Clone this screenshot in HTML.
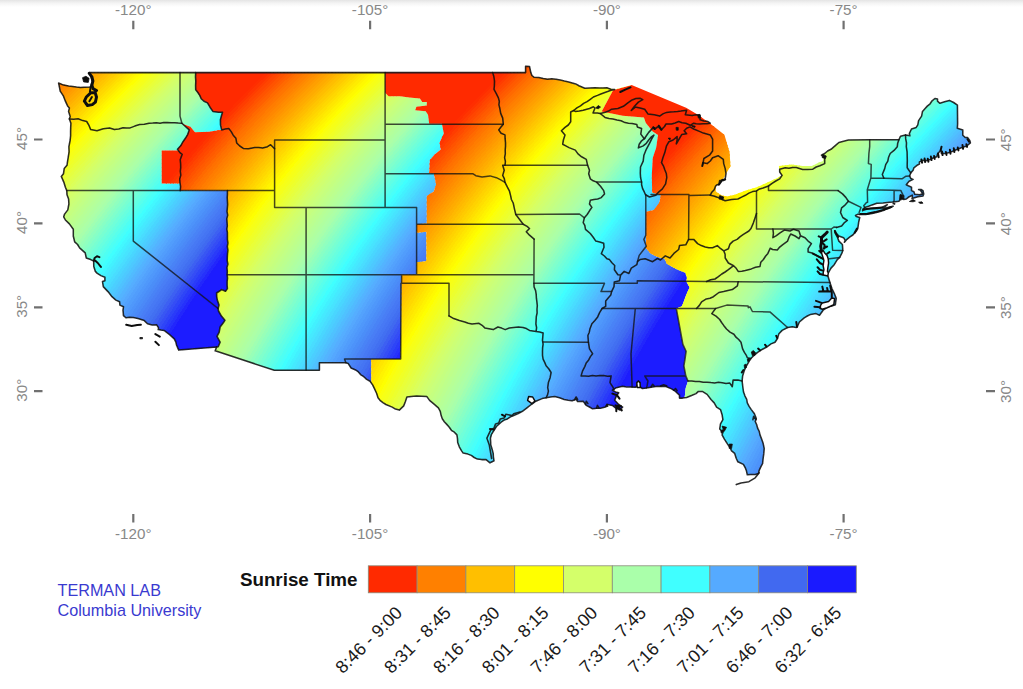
<!DOCTYPE html><html><head><meta charset="utf-8"><title>Sunrise Time</title><style>
html,body{margin:0;padding:0;background:#fff}body{width:1023px;height:689px;overflow:hidden;position:relative;font-family:"Liberation Sans",sans-serif}
svg{position:absolute;left:0;top:0}text{font-family:"Liberation Sans",sans-serif}
.topshade{position:absolute;left:0;top:0;width:1023px;height:7px;background:linear-gradient(#e4e4e4,#f4f4f4 45%,#fff)}
</style></head><body><div class="topshade"></div>
<svg width="1023" height="689" viewBox="0 0 1023 689">
<defs>
<clipPath id="us"><path d="M89.7 72.6L92.3 81.9L90.4 86.9L84.4 87.3L76.5 87.1L68.6 86.1L58.6 83.0L59.4 86.9L60.2 91.1L63.5 96.2L65.4 101.2L67.8 106.3L69.4 108.0L68.6 111.4L70.2 116.4L69.4 118.9L70.9 123.2L70.6 131.6L70.2 140.0L68.9 146.7L68.3 156.8L67.0 165.3L64.2 168.6L63.5 173.7L61.3 176.4L63.8 182.1L65.4 187.2L66.8 190.6L67.0 194.8L68.6 199.0L68.9 204.0L67.8 209.9L64.6 214.1L63.7 216.8L65.4 220.0L69.4 223.9L73.3 229.3L73.3 236.0L74.7 241.9L79.6 247.8L85.2 252.9L86.3 258.0L90.7 259.6L93.8 261.0L93.7 263.0L93.8 266.4L95.4 271.4L97.0 273.1L100.9 275.6L104.9 277.3L104.9 280.7L102.5 281.5L103.3 286.6L108.0 291.6L112.0 296.7L115.9 300.1L119.6 301.8L119.9 305.1L123.5 306.8L123.0 310.2L123.5 315.6L125.9 317.8L133.3 317.6L138.0 318.6L144.3 320.6L147.5 323.7L152.2 325.0L156.7 324.8L158.6 327.9L158.2 329.6L160.9 330.1L164.1 330.4L166.4 332.1L169.6 334.6L174.3 338.8L175.9 342.2L176.4 344.7L177.5 347.3L178.8 350.1L216.6 346.9L215.2 350.8L274.3 370.3L319.4 370.3L319.4 362.8L345.9 362.8L348.3 363.6L351.1 368.0L355.1 369.7L360.6 374.6L370.1 381.3L374.8 389.4L378.0 397.8L380.0 400.3L385.9 404.5L392.2 407.1L399.3 410.1L403.7 405.9L406.9 397.1L411.1 396.6L416.6 396.1L426.9 396.6L433.2 403.4L438.4 407.9L441.1 415.3L444.3 421.7L451.4 430.3L456.9 434.9L457.7 442.5L461.6 450.9L463.2 453.1L467.9 454.1L477.4 459.1L486.1 459.6L490.0 462.8L494.0 460.8L493.2 453.4L490.8 445.0L490.4 438.2L493.2 431.5L496.4 426.5L501.1 422.2L507.4 418.9L513.7 415.5L522.4 411.3L527.9 407.1L531.9 404.0L535.8 401.2L542.1 398.6L546.1 397.8L554.8 396.6L564.2 399.5L572.1 400.7L576.1 399.2L577.6 401.5L583.2 401.2L586.3 405.4L592.6 408.8L600.5 408.3L605.3 407.1L607.6 404.5L612.4 405.4L615.5 407.9L619.5 409.9L622.6 407.1L618.7 404.5L614.7 400.3L616.3 396.1L618.7 392.8L615.5 391.9L612.4 390.2L616.3 387.7L622.6 386.3L630.5 386.9L635.3 387.2L636.8 386.5L637.2 382.6L638.4 381.3L639.7 382.6L640.0 386.9L642.4 388.5L646.3 388.0L651.0 387.2L657.4 386.3L665.3 386.3L671.6 388.9L675.5 391.4L679.5 395.3L679.5 398.1L682.6 398.1L686.6 397.5L692.1 395.3L696.0 393.6L698.4 391.4L702.3 391.4L707.1 394.4L711.0 399.5L714.2 402.9L716.6 407.1L720.5 409.6L722.1 414.7L722.9 419.7L720.5 423.9L719.7 429.0L722.9 432.3L722.1 434.9L724.4 439.1L727.6 444.1L730.0 447.5L731.6 450.9L734.7 453.4L736.3 458.5L737.9 461.8L743.4 464.4L746.5 471.1L747.3 474.8L750.5 474.5L755.2 474.5L758.4 473.6L759.2 470.3L760.8 466.9L762.6 463.5L763.1 458.5L764.2 448.4L763.1 443.3L760.0 434.9L757.6 428.1L755.2 421.4L756.3 418.5L754.4 413.8L751.3 409.6L747.3 402.9L745.0 396.1L742.9 387.7L742.1 381.0L742.6 375.9L744.2 370.8L746.5 365.8L748.9 361.6L750.8 358.5L753.7 355.7L757.6 352.3L761.5 349.8L766.3 347.3L771.0 343.9L775.0 342.2L777.3 338.8L778.9 333.8L782.1 330.4L787.6 327.5L792.3 326.7L796.3 327.5L797.4 326.5L799.4 322.0L804.2 317.8L810.5 314.4L816.0 313.6L819.5 315.2L823.1 310.2L827.8 306.8L835.3 304.8L836.2 298.4L834.2 293.3L831.8 288.3L829.9 282.4L828.3 277.3L827.8 276.0L828.3 272.8L831.0 268.1L834.2 264.7L837.3 259.6L839.7 257.4L842.0 252.9L842.8 250.4L842.4 244.5L838.9 241.1L837.3 236.9L834.9 232.7L834.9 230.7L835.7 232.7L838.9 236.0L843.6 237.7L845.2 240.3L844.4 242.3L849.9 236.9L852.8 235.0L856.3 231.0L857.8 228.5L858.6 222.6L859.7 217.5L856.3 216.5L855.5 215.5L858.1 214.1L858.9 214.5L865.7 214.5L872.0 213.6L878.4 212.1L884.7 209.9L891.8 207.1L893.2 206.2L889.4 207.1L885.5 208.2L883.1 208.7L886.2 205.7L887.3 204.7L881.5 207.7L873.6 208.2L867.3 208.7L863.4 209.9L862.6 210.8L862.9 209.4L864.9 207.4L872.0 204.9L876.8 203.2L883.1 202.9L889.4 202.3L893.2 202.0L898.9 201.2L900.1 199.8L900.5 194.8L902.0 195.6L903.6 196.1L903.6 199.5L906.3 199.0L908.3 197.3L912.3 195.1L912.3 198.1L912.0 198.6L917.8 196.8L923.0 196.1L923.7 193.9L923.0 190.6L921.0 189.4L918.6 189.4L920.2 190.0L921.8 192.2L922.5 193.9L919.4 194.8L914.7 194.3L913.9 191.7L911.5 190.6L911.5 187.2L908.3 185.8L906.3 184.7L907.6 183.0L909.1 181.3L913.1 179.4L910.7 178.4L909.6 175.9L910.7 172.9L913.1 170.3L913.9 167.8L917.0 165.3L919.4 164.1L919.4 161.9L923.3 160.2L926.5 160.6L930.4 159.4L933.6 157.7L936.8 156.8L937.5 154.3L940.7 150.1L941.5 153.5L945.4 153.5L949.4 152.6L953.3 151.0L957.3 149.3L962.0 147.6L966.7 145.9L970.4 143.0L969.9 140.8L967.5 137.5L965.2 137.5L962.8 135.3L962.8 129.9L957.3 128.2L957.6 124.0L957.4 105.1L949.4 100.4L939.9 103.3L937.5 101.2L937.5 99.1L934.9 98.5L922.5 111.4L921.6 116.1L918.6 120.6L917.8 124.8L916.2 127.4L911.5 129.0L909.4 133.3L909.9 135.8L905.5 134.9L900.5 136.3L898.9 139.8L869.7 139.8L848.4 140.0L838.9 142.5L831.0 149.3L824.7 153.5L821.5 155.2L823.1 157.7L823.1 161.1L818.4 162.7L812.1 166.1L802.6 166.1L791.5 164.4L778.9 166.1L779.7 172.0L781.6 175.4L777.3 177.9L766.3 183.0L756.8 187.2L745.8 190.6L734.7 194.8L726.8 196.4L721.3 195.3L715.8 191.4L715.8 186.3L718.9 184.3L722.1 180.4L726.0 173.7L730.5 166.2L729.6 152.2L724.4 134.8L708.8 122.6L696.7 114.0L686.1 107.8L631.6 85.0L614.7 89.4L606.9 87.8L595.0 87.8L584.8 88.3L578.9 85.7L568.7 81.9L556.0 79.3L543.2 78.5L534.2 77.3L531.9 75.5L530.8 72.6L529.5 66.5L525.6 66.2L525.6 72.6L89.7 72.6Z"/></clipPath>
<clipPath id="zP"><path d="M-103.5 22.0L195.7 22.0L195.7 72.6L195.7 89.8L201.2 98.7L207.5 102.9L212.9 111.4L218.5 112.2L222.5 112.2L220.4 119.8L221.7 129.9L221.7 129.7L209.1 131.7L195.0 132.2L190.4 126.7L184.9 124.7L181.9 123.2L184.6 125.7L189.2 129.9L185.4 138.3L183.0 141.7L177.5 149.3L178.3 150.4L161.7 150.4L161.7 183.5L180.2 183.5L180.2 190.6L227.4 190.6L227.4 288.6L225.5 291.3L221.7 289.6L216.6 293.0L217.3 300.1L219.0 305.1L218.1 308.5L218.5 311.0L221.4 316.1L224.9 320.3L223.3 322.8L220.1 327.0L219.2 332.1L217.0 336.3L220.1 342.2L218.2 346.7L216.6 346.9L215.2 350.8L213.8 527.5L-103.5 527.5Z"/></clipPath>
<clipPath id="zM"><path d="M195.7 22.0L195.7 72.6L195.7 89.8L201.2 98.7L207.5 102.9L212.9 111.4L218.5 112.2L222.5 112.2L220.4 119.8L221.7 129.9L221.7 129.7L209.1 131.7L195.0 132.2L190.4 126.7L184.9 124.7L181.9 123.2L184.6 125.7L189.2 129.9L185.4 138.3L183.0 141.7L177.5 149.3L178.3 150.4L161.7 150.4L161.7 183.5L180.2 183.5L180.2 190.6L227.4 190.6L227.4 288.6L225.5 291.3L221.7 289.6L216.6 293.0L217.3 300.1L219.0 305.1L218.1 308.5L218.5 311.0L221.4 316.1L224.9 320.3L223.3 322.8L220.1 327.0L219.2 332.1L217.0 336.3L220.1 342.2L218.2 346.7L216.6 346.9L215.2 350.8L213.8 527.5L371.3 527.5L371.3 359.1L400.7 359.1L401.6 283.2L401.6 274.8L416.6 274.8L416.6 262.3L426.4 261.3L426.4 231.8L416.6 232.7L416.6 224.2L426.8 223.4L426.8 196.0L433.8 191.4L436.1 184.4L433.8 173.2L429.2 173.2L429.9 160.0L435.0 154.2L440.8 149.6L439.6 142.6L443.8 133.4L441.9 123.7L429.2 123.7L428.0 114.8L425.7 111.3L415.2 110.2L416.4 106.7L426.8 105.5L426.8 102.0L422.2 102.0L419.9 98.6L409.4 97.4L400.2 96.2L388.6 96.2L385.1 92.8L385.1 92.8L385.1 22.0Z"/></clipPath>
<clipPath id="zC"><path d="M385.1 22.0L385.1 92.8L385.1 92.8L388.6 96.2L400.2 96.2L409.4 97.4L419.9 98.6L422.2 102.0L426.8 102.0L426.8 105.5L416.4 106.7L415.2 110.2L425.7 111.3L428.0 114.8L429.2 123.7L441.9 123.7L443.8 133.4L439.6 142.6L440.8 149.6L435.0 154.2L429.9 160.0L429.2 173.2L433.8 173.2L436.1 184.4L433.8 191.4L426.8 196.0L426.8 223.4L416.6 224.2L416.6 232.7L426.4 231.8L426.4 261.3L416.6 262.3L416.6 274.8L401.6 274.8L401.6 283.2L400.7 359.1L371.3 359.1L371.3 527.5L682.6 527.5L684.2 401.2L685.8 387.7L688.0 381.0L685.8 375.9L683.9 365.8L685.0 359.1L686.1 351.3L682.9 344.4L676.3 308.5L682.0 306.2L685.8 296.0L689.6 287.2L686.2 281.4L687.0 277.9L685.3 272.7L676.6 269.2L667.0 264.0L664.4 258.8L657.4 257.0L650.5 253.6L646.1 248.3L646.1 211.8L654.0 210.0L659.2 203.0L660.9 195.5L652.2 192.6L651.8 175.6L652.7 158.0L656.2 147.4L658.0 135.0L652.7 131.6L645.7 122.8L643.9 117.5L622.8 115.7L601.7 111.4L613.1 90.2L631.6 85.0L632.1 22.0Z"/></clipPath>
<clipPath id="zE"><path d="M632.1 22.0L631.6 85.0L613.1 90.2L601.7 111.4L622.8 115.7L643.9 117.5L645.7 122.8L652.7 131.6L658.0 135.0L656.2 147.4L652.7 158.0L651.8 175.6L652.2 192.6L660.9 195.5L659.2 203.0L654.0 210.0L646.1 211.8L646.1 248.3L650.5 253.6L657.4 257.0L664.4 258.8L667.0 264.0L676.6 269.2L685.3 272.7L687.0 277.9L686.2 281.4L689.6 287.2L685.8 296.0L682.0 306.2L676.3 308.5L682.9 344.4L686.1 351.3L685.0 359.1L683.9 365.8L685.8 375.9L688.0 381.0L685.8 387.7L684.2 401.2L682.6 527.5L1080.4 527.5L1080.4 22.0Z"/></clipPath>
<g id="bands" shape-rendering="crispEdges"><path fill="#ff2a00" d="M-400.0 40.0L302.6 40.0L291.2 50.0L280.2 60.0L269.5 70.0L259.2 80.0L249.1 90.0L239.3 100.0L229.8 110.0L220.6 120.0L211.6 130.0L202.8 140.0L194.2 150.0L185.8 160.0L177.7 170.0L169.7 180.0L161.8 190.0L154.2 200.0L146.7 210.0L139.4 220.0L132.2 230.0L125.2 240.0L118.2 250.0L111.5 260.0L104.8 270.0L98.3 280.0L91.8 290.0L85.5 300.0L79.3 310.0L73.2 320.0L67.2 330.0L61.2 340.0L55.4 350.0L49.6 360.0L44.0 370.0L38.4 380.0L32.8 390.0L27.4 400.0L22.0 410.0L16.7 420.0L11.4 430.0L6.3 440.0L1.1 450.0L-3.9 460.0L-9.0 470.0L-13.9 480.0L-18.8 490.0L-23.7 500.0L-400.0 500.0Z"/>
<path fill="#ff2e00" d="M302.0 40.0L290.6 50.0L279.6 60.0L268.9 70.0L258.6 80.0L248.5 90.0L238.7 100.0L229.2 110.0L220.0 120.0L211.0 130.0L202.2 140.0L193.6 150.0L185.2 160.0L177.1 170.0L169.1 180.0L161.2 190.0L153.6 200.0L146.1 210.0L138.8 220.0L131.6 230.0L124.6 240.0L117.6 250.0L110.9 260.0L104.2 270.0L97.7 280.0L91.2 290.0L84.9 300.0L78.7 310.0L72.6 320.0L66.6 330.0L60.6 340.0L54.8 350.0L49.0 360.0L43.4 370.0L37.8 380.0L32.2 390.0L26.8 400.0L21.4 410.0L16.1 420.0L10.8 430.0L5.7 440.0L0.5 450.0L-4.5 460.0L-9.6 470.0L-14.5 480.0L-19.4 490.0L-24.3 500.0L-19.7 500.0L-14.8 490.0L-9.9 480.0L-4.9 470.0L0.1 460.0L5.1 450.0L10.3 440.0L15.5 430.0L20.7 420.0L26.0 410.0L31.4 400.0L36.9 390.0L42.4 380.0L48.0 370.0L53.6 360.0L59.4 350.0L65.2 340.0L71.2 330.0L77.2 320.0L83.3 310.0L89.5 300.0L95.9 290.0L102.3 280.0L108.8 270.0L115.5 260.0L122.3 250.0L129.2 240.0L136.2 230.0L143.4 220.0L150.7 210.0L158.2 200.0L165.9 190.0L173.7 180.0L181.7 170.0L189.9 160.0L198.2 150.0L206.8 140.0L215.6 130.0L224.6 120.0L233.9 110.0L243.4 100.0L253.1 90.0L263.2 80.0L273.5 70.0L284.2 60.0L295.2 50.0L306.6 40.0Z"/>
<path fill="#ff3500" d="M305.4 40.0L294.0 50.0L283.0 60.0L272.3 70.0L262.0 80.0L251.9 90.0L242.2 100.0L232.7 110.0L223.4 120.0L214.4 130.0L205.6 140.0L197.0 150.0L188.7 160.0L180.5 170.0L172.5 180.0L164.7 190.0L157.0 200.0L149.5 210.0L142.2 220.0L135.0 230.0L128.0 240.0L121.1 250.0L114.3 260.0L107.6 270.0L101.1 280.0L94.7 290.0L88.3 300.0L82.1 310.0L76.0 320.0L70.0 330.0L64.0 340.0L58.2 350.0L52.4 360.0L46.8 370.0L41.2 380.0L35.7 390.0L30.2 400.0L24.8 410.0L19.5 420.0L14.3 430.0L9.1 440.0L3.9 450.0L-1.1 460.0L-6.1 470.0L-11.1 480.0L-16.0 490.0L-20.9 500.0L-16.3 500.0L-11.4 490.0L-6.5 480.0L-1.5 470.0L3.5 460.0L8.6 450.0L13.7 440.0L18.9 430.0L24.1 420.0L29.4 410.0L34.8 400.0L40.3 390.0L45.8 380.0L51.4 370.0L57.1 360.0L62.8 350.0L68.7 340.0L74.6 330.0L80.6 320.0L86.7 310.0L93.0 300.0L99.3 290.0L105.7 280.0L112.2 270.0L118.9 260.0L125.7 250.0L132.6 240.0L139.6 230.0L146.8 220.0L154.2 210.0L161.6 200.0L169.3 190.0L177.1 180.0L185.1 170.0L193.3 160.0L201.6 150.0L210.2 140.0L219.0 130.0L228.0 120.0L237.3 110.0L246.8 100.0L256.6 90.0L266.6 80.0L277.0 70.0L287.6 60.0L298.6 50.0L310.0 40.0Z"/>
<path fill="#ff3c00" d="M308.8 40.0L297.4 50.0L286.4 60.0L275.8 70.0L265.4 80.0L255.4 90.0L245.6 100.0L236.1 110.0L226.8 120.0L217.8 130.0L209.0 140.0L200.4 150.0L192.1 160.0L183.9 170.0L175.9 180.0L168.1 190.0L160.4 200.0L153.0 210.0L145.6 220.0L138.4 230.0L131.4 240.0L124.5 250.0L117.7 260.0L111.0 270.0L104.5 280.0L98.1 290.0L91.8 300.0L85.5 310.0L79.4 320.0L73.4 330.0L67.5 340.0L61.6 350.0L55.9 360.0L50.2 370.0L44.6 380.0L39.1 390.0L33.6 400.0L28.2 410.0L22.9 420.0L17.7 430.0L12.5 440.0L7.4 450.0L2.3 460.0L-2.7 470.0L-7.7 480.0L-12.6 490.0L-17.5 500.0L-12.8 500.0L-8.0 490.0L-3.1 480.0L1.9 470.0L6.9 460.0L12.0 450.0L17.1 440.0L22.3 430.0L27.6 420.0L32.9 410.0L38.3 400.0L43.7 390.0L49.2 380.0L54.8 370.0L60.5 360.0L66.3 350.0L72.1 340.0L78.0 330.0L84.0 320.0L90.2 310.0L96.4 300.0L102.7 290.0L109.1 280.0L115.7 270.0L122.3 260.0L129.1 250.0L136.0 240.0L143.1 230.0L150.3 220.0L157.6 210.0L165.1 200.0L172.7 190.0L180.5 180.0L188.5 170.0L196.7 160.0L205.1 150.0L213.6 140.0L222.4 130.0L231.5 120.0L240.7 110.0L250.2 100.0L260.0 90.0L270.0 80.0L280.4 70.0L291.1 60.0L302.1 50.0L313.4 40.0Z"/>
<path fill="#ff4400" d="M312.2 40.0L300.9 50.0L289.9 60.0L279.2 70.0L268.8 80.0L258.8 90.0L249.0 100.0L239.5 110.0L230.3 120.0L221.2 130.0L212.4 140.0L203.9 150.0L195.5 160.0L187.3 170.0L179.3 180.0L171.5 190.0L163.9 200.0L156.4 210.0L149.1 220.0L141.9 230.0L134.8 240.0L127.9 250.0L121.1 260.0L114.5 270.0L107.9 280.0L101.5 290.0L95.2 300.0L89.0 310.0L82.8 320.0L76.8 330.0L70.9 340.0L65.1 350.0L59.3 360.0L53.6 370.0L48.0 380.0L42.5 390.0L37.1 400.0L31.7 410.0L26.4 420.0L21.1 430.0L15.9 440.0L10.8 450.0L5.7 460.0L0.7 470.0L-4.3 480.0L-9.2 490.0L-14.0 500.0L-9.4 500.0L-4.6 490.0L0.4 480.0L5.3 470.0L10.3 460.0L15.4 450.0L20.5 440.0L25.7 430.0L31.0 420.0L36.3 410.0L41.7 400.0L47.1 390.0L52.6 380.0L58.2 370.0L63.9 360.0L69.7 350.0L75.5 340.0L81.4 330.0L87.5 320.0L93.6 310.0L99.8 300.0L106.1 290.0L112.6 280.0L119.1 270.0L125.8 260.0L132.5 250.0L139.4 240.0L146.5 230.0L153.7 220.0L161.0 210.0L168.5 200.0L176.1 190.0L184.0 180.0L191.9 170.0L200.1 160.0L208.5 150.0L217.1 140.0L225.9 130.0L234.9 120.0L244.1 110.0L253.6 100.0L263.4 90.0L273.5 80.0L283.8 70.0L294.5 60.0L305.5 50.0L316.8 40.0Z"/>
<path fill="#ff4b00" d="M315.6 40.0L304.3 50.0L293.3 60.0L282.6 70.0L272.3 80.0L262.2 90.0L252.4 100.0L242.9 110.0L233.7 120.0L224.7 130.0L215.9 140.0L207.3 150.0L198.9 160.0L190.7 170.0L182.8 180.0L174.9 190.0L167.3 200.0L159.8 210.0L152.5 220.0L145.3 230.0L138.2 240.0L131.3 250.0L124.6 260.0L117.9 270.0L111.4 280.0L104.9 290.0L98.6 300.0L92.4 310.0L86.3 320.0L80.2 330.0L74.3 340.0L68.5 350.0L62.7 360.0L57.0 370.0L51.4 380.0L45.9 390.0L40.5 400.0L35.1 410.0L29.8 420.0L24.5 430.0L19.3 440.0L14.2 450.0L9.1 460.0L4.1 470.0L-0.8 480.0L-5.8 490.0L-10.6 500.0L-6.0 500.0L-1.1 490.0L3.8 480.0L8.8 470.0L13.8 460.0L18.8 450.0L24.0 440.0L29.2 430.0L34.4 420.0L39.7 410.0L45.1 400.0L50.5 390.0L56.1 380.0L61.7 370.0L67.3 360.0L73.1 350.0L78.9 340.0L84.9 330.0L90.9 320.0L97.0 310.0L103.2 300.0L109.5 290.0L116.0 280.0L122.5 270.0L129.2 260.0L136.0 250.0L142.9 240.0L149.9 230.0L157.1 220.0L164.4 210.0L171.9 200.0L179.6 190.0L187.4 180.0L195.4 170.0L203.5 160.0L211.9 150.0L220.5 140.0L229.3 130.0L238.3 120.0L247.6 110.0L257.1 100.0L266.8 90.0L276.9 80.0L287.2 70.0L297.9 60.0L308.9 50.0L320.3 40.0Z"/>
<path fill="#ff5300" d="M319.1 40.0L307.7 50.0L296.7 60.0L286.0 70.0L275.7 80.0L265.6 90.0L255.9 100.0L246.4 110.0L237.1 120.0L228.1 130.0L219.3 140.0L210.7 150.0L202.3 160.0L194.2 170.0L186.2 180.0L178.4 190.0L170.7 200.0L163.2 210.0L155.9 220.0L148.7 230.0L141.7 240.0L134.8 250.0L128.0 260.0L121.3 270.0L114.8 280.0L108.3 290.0L102.0 300.0L95.8 310.0L89.7 320.0L83.7 330.0L77.7 340.0L71.9 350.0L66.1 360.0L60.5 370.0L54.9 380.0L49.3 390.0L43.9 400.0L38.5 410.0L33.2 420.0L28.0 430.0L22.8 440.0L17.6 450.0L12.6 460.0L7.6 470.0L2.6 480.0L-2.3 490.0L-7.2 500.0L-2.6 500.0L2.3 490.0L7.2 480.0L12.2 470.0L17.2 460.0L22.3 450.0L27.4 440.0L32.6 430.0L37.8 420.0L43.1 410.0L48.5 400.0L54.0 390.0L59.5 380.0L65.1 370.0L70.8 360.0L76.5 350.0L82.4 340.0L88.3 330.0L94.3 320.0L100.4 310.0L106.6 300.0L113.0 290.0L119.4 280.0L125.9 270.0L132.6 260.0L139.4 250.0L146.3 240.0L153.3 230.0L160.5 220.0L167.9 210.0L175.3 200.0L183.0 190.0L190.8 180.0L198.8 170.0L207.0 160.0L215.3 150.0L223.9 140.0L232.7 130.0L241.7 120.0L251.0 110.0L260.5 100.0L270.3 90.0L280.3 80.0L290.7 70.0L301.3 60.0L312.3 50.0L323.7 40.0Z"/>
<path fill="#ff5a00" d="M322.5 40.0L311.1 50.0L300.1 60.0L289.5 70.0L279.1 80.0L269.1 90.0L259.3 100.0L249.8 110.0L240.5 120.0L231.5 130.0L222.7 140.0L214.1 150.0L205.8 160.0L197.6 170.0L189.6 180.0L181.8 190.0L174.1 200.0L166.7 210.0L159.3 220.0L152.1 230.0L145.1 240.0L138.2 250.0L131.4 260.0L124.7 270.0L118.2 280.0L111.8 290.0L105.4 300.0L99.2 310.0L93.1 320.0L87.1 330.0L81.2 340.0L75.3 350.0L69.6 360.0L63.9 370.0L58.3 380.0L52.8 390.0L47.3 400.0L41.9 410.0L36.6 420.0L31.4 430.0L26.2 440.0L21.1 450.0L16.0 460.0L11.0 470.0L6.0 480.0L1.1 490.0L-3.8 500.0L0.9 500.0L5.7 490.0L10.6 480.0L15.6 470.0L20.6 460.0L25.7 450.0L30.8 440.0L36.0 430.0L41.3 420.0L46.6 410.0L51.9 400.0L57.4 390.0L62.9 380.0L68.5 370.0L74.2 360.0L79.9 350.0L85.8 340.0L91.7 330.0L97.7 320.0L103.9 310.0L110.1 300.0L116.4 290.0L122.8 280.0L129.4 270.0L136.0 260.0L142.8 250.0L149.7 240.0L156.8 230.0L163.9 220.0L171.3 210.0L178.8 200.0L186.4 190.0L194.2 180.0L202.2 170.0L210.4 160.0L218.8 150.0L227.3 140.0L236.1 130.0L245.1 120.0L254.4 110.0L263.9 100.0L273.7 90.0L283.7 80.0L294.1 70.0L304.8 60.0L315.8 50.0L327.1 40.0Z"/>
<path fill="#ff6100" d="M325.9 40.0L314.6 50.0L303.6 60.0L292.9 70.0L282.5 80.0L272.5 90.0L262.7 100.0L253.2 110.0L243.9 120.0L234.9 130.0L226.1 140.0L217.6 150.0L209.2 160.0L201.0 170.0L193.0 180.0L185.2 190.0L177.6 200.0L170.1 210.0L162.7 220.0L155.6 230.0L148.5 240.0L141.6 250.0L134.8 260.0L128.2 270.0L121.6 280.0L115.2 290.0L108.9 300.0L102.7 310.0L96.5 320.0L90.5 330.0L84.6 340.0L78.7 350.0L73.0 360.0L67.3 370.0L61.7 380.0L56.2 390.0L50.7 400.0L45.4 410.0L40.1 420.0L34.8 430.0L29.6 440.0L24.5 450.0L19.4 460.0L14.4 470.0L9.4 480.0L4.5 490.0L-0.3 500.0L4.3 500.0L9.1 490.0L14.1 480.0L19.0 470.0L24.0 460.0L29.1 450.0L34.2 440.0L39.4 430.0L44.7 420.0L50.0 410.0L55.4 400.0L60.8 390.0L66.3 380.0L71.9 370.0L77.6 360.0L83.4 350.0L89.2 340.0L95.1 330.0L101.2 320.0L107.3 310.0L113.5 300.0L119.8 290.0L126.2 280.0L132.8 270.0L139.4 260.0L146.2 250.0L153.1 240.0L160.2 230.0L167.4 220.0L174.7 210.0L182.2 200.0L189.8 190.0L197.6 180.0L205.6 170.0L213.8 160.0L222.2 150.0L230.8 140.0L239.6 130.0L248.6 120.0L257.8 110.0L267.3 100.0L277.1 90.0L287.2 80.0L297.5 70.0L308.2 60.0L319.2 50.0L330.5 40.0Z"/>
<path fill="#ff6900" d="M329.3 40.0L318.0 50.0L307.0 60.0L296.3 70.0L286.0 80.0L275.9 90.0L266.1 100.0L256.6 110.0L247.4 120.0L238.4 130.0L229.6 140.0L221.0 150.0L212.6 160.0L204.4 170.0L196.4 180.0L188.6 190.0L181.0 200.0L173.5 210.0L166.2 220.0L159.0 230.0L151.9 240.0L145.0 250.0L138.2 260.0L131.6 270.0L125.0 280.0L118.6 290.0L112.3 300.0L106.1 310.0L100.0 320.0L93.9 330.0L88.0 340.0L82.2 350.0L76.4 360.0L70.7 370.0L65.1 380.0L59.6 390.0L54.2 400.0L48.8 410.0L43.5 420.0L38.2 430.0L33.0 440.0L27.9 450.0L22.8 460.0L17.8 470.0L12.9 480.0L7.9 490.0L3.1 500.0L7.7 500.0L12.6 490.0L17.5 480.0L22.4 470.0L27.5 460.0L32.5 450.0L37.7 440.0L42.8 430.0L48.1 420.0L53.4 410.0L58.8 400.0L64.2 390.0L69.8 380.0L75.4 370.0L81.0 360.0L86.8 350.0L92.6 340.0L98.6 330.0L104.6 320.0L110.7 310.0L116.9 300.0L123.2 290.0L129.7 280.0L136.2 270.0L142.9 260.0L149.7 250.0L156.6 240.0L163.6 230.0L170.8 220.0L178.1 210.0L185.6 200.0L193.3 190.0L201.1 180.0L209.1 170.0L217.2 160.0L225.6 150.0L234.2 140.0L243.0 130.0L252.0 120.0L261.2 110.0L270.8 100.0L280.5 90.0L290.6 80.0L300.9 70.0L311.6 60.0L322.6 50.0L334.0 40.0Z"/>
<path fill="#ff6f00" d="M332.8 40.0L321.4 50.0L310.4 60.0L299.7 70.0L289.4 80.0L279.3 90.0L269.6 100.0L260.0 110.0L250.8 120.0L241.8 130.0L233.0 140.0L224.4 150.0L216.0 160.0L207.9 170.0L199.9 180.0L192.1 190.0L184.4 200.0L176.9 210.0L169.6 220.0L162.4 230.0L155.4 240.0L148.5 250.0L141.7 260.0L135.0 270.0L128.5 280.0L122.0 290.0L115.7 300.0L109.5 310.0L103.4 320.0L97.4 330.0L91.4 340.0L85.6 350.0L79.8 360.0L74.2 370.0L68.6 380.0L63.0 390.0L57.6 400.0L52.2 410.0L46.9 420.0L41.6 430.0L36.5 440.0L31.3 450.0L26.3 460.0L21.2 470.0L16.3 480.0L11.4 490.0L6.5 500.0L11.1 500.0L16.0 490.0L20.9 480.0L25.9 470.0L30.9 460.0L36.0 450.0L41.1 440.0L46.3 430.0L51.5 420.0L56.8 410.0L62.2 400.0L67.7 390.0L73.2 380.0L78.8 370.0L84.5 360.0L90.2 350.0L96.1 340.0L102.0 330.0L108.0 320.0L114.1 310.0L120.3 300.0L126.7 290.0L133.1 280.0L139.6 270.0L146.3 260.0L153.1 250.0L160.0 240.0L167.0 230.0L174.2 220.0L181.5 210.0L189.0 200.0L196.7 190.0L204.5 180.0L212.5 170.0L220.7 160.0L229.0 150.0L237.6 140.0L246.4 130.0L255.4 120.0L264.7 110.0L274.2 100.0L284.0 90.0L294.0 80.0L304.4 70.0L315.0 60.0L326.0 50.0L337.4 40.0Z"/>
<path fill="#ff7500" d="M336.2 40.0L324.8 50.0L313.8 60.0L303.2 70.0L292.8 80.0L282.8 90.0L273.0 100.0L263.5 110.0L254.2 120.0L245.2 130.0L236.4 140.0L227.8 150.0L219.5 160.0L211.3 170.0L203.3 180.0L195.5 190.0L187.8 200.0L180.3 210.0L173.0 220.0L165.8 230.0L158.8 240.0L151.9 250.0L145.1 260.0L138.4 270.0L131.9 280.0L125.5 290.0L119.1 300.0L112.9 310.0L106.8 320.0L100.8 330.0L94.9 340.0L89.0 350.0L83.3 360.0L77.6 370.0L72.0 380.0L66.5 390.0L61.0 400.0L55.6 410.0L50.3 420.0L45.1 430.0L39.9 440.0L34.8 450.0L29.7 460.0L24.7 470.0L19.7 480.0L14.8 490.0L9.9 500.0L14.5 500.0L19.4 490.0L24.3 480.0L29.3 470.0L34.3 460.0L39.4 450.0L44.5 440.0L49.7 430.0L54.9 420.0L60.3 410.0L65.6 400.0L71.1 390.0L76.6 380.0L82.2 370.0L87.9 360.0L93.6 350.0L99.5 340.0L105.4 330.0L111.4 320.0L117.5 310.0L123.8 300.0L130.1 290.0L136.5 280.0L143.1 270.0L149.7 260.0L156.5 250.0L163.4 240.0L170.5 230.0L177.6 220.0L185.0 210.0L192.5 200.0L200.1 190.0L207.9 180.0L215.9 170.0L224.1 160.0L232.5 150.0L241.0 140.0L249.8 130.0L258.8 120.0L268.1 110.0L277.6 100.0L287.4 90.0L297.4 80.0L307.8 70.0L318.4 60.0L329.4 50.0L340.8 40.0Z"/>
<path fill="#ff7b00" d="M339.6 40.0L328.2 50.0L317.2 60.0L306.6 70.0L296.2 80.0L286.2 90.0L276.4 100.0L266.9 110.0L257.6 120.0L248.6 130.0L239.8 140.0L231.3 150.0L222.9 160.0L214.7 170.0L206.7 180.0L198.9 190.0L191.3 200.0L183.8 210.0L176.4 220.0L169.3 230.0L162.2 240.0L155.3 250.0L148.5 260.0L141.9 270.0L135.3 280.0L128.9 290.0L122.6 300.0L116.3 310.0L110.2 320.0L104.2 330.0L98.3 340.0L92.4 350.0L86.7 360.0L81.0 370.0L75.4 380.0L69.9 390.0L64.4 400.0L59.1 410.0L53.7 420.0L48.5 430.0L43.3 440.0L38.2 450.0L33.1 460.0L28.1 470.0L23.1 480.0L18.2 490.0L13.3 500.0L18.0 500.0L22.8 490.0L27.7 480.0L32.7 470.0L37.7 460.0L42.8 450.0L47.9 440.0L53.1 430.0L58.4 420.0L63.7 410.0L69.1 400.0L74.5 390.0L80.0 380.0L85.6 370.0L91.3 360.0L97.1 350.0L102.9 340.0L108.8 330.0L114.9 320.0L121.0 310.0L127.2 300.0L133.5 290.0L139.9 280.0L146.5 270.0L153.1 260.0L159.9 250.0L166.8 240.0L173.9 230.0L181.1 220.0L188.4 210.0L195.9 200.0L203.5 190.0L211.3 180.0L219.3 170.0L227.5 160.0L235.9 150.0L244.5 140.0L253.2 130.0L262.3 120.0L271.5 110.0L281.0 100.0L290.8 90.0L300.9 80.0L311.2 70.0L321.9 60.0L332.9 50.0L344.2 40.0Z"/>
<path fill="#ff8100" d="M343.0 40.0L331.7 50.0L320.7 60.0L310.0 70.0L299.7 80.0L289.6 90.0L279.8 100.0L270.3 110.0L261.1 120.0L252.0 130.0L243.3 140.0L234.7 150.0L226.3 160.0L218.1 170.0L210.1 180.0L202.3 190.0L194.7 200.0L187.2 210.0L179.9 220.0L172.7 230.0L165.6 240.0L158.7 250.0L151.9 260.0L145.3 270.0L138.7 280.0L132.3 290.0L126.0 300.0L119.8 310.0L113.7 320.0L107.6 330.0L101.7 340.0L95.9 350.0L90.1 360.0L84.4 370.0L78.8 380.0L73.3 390.0L67.9 400.0L62.5 410.0L57.2 420.0L51.9 430.0L46.7 440.0L41.6 450.0L36.5 460.0L31.5 470.0L26.5 480.0L21.6 490.0L16.8 500.0L21.4 500.0L26.3 490.0L31.2 480.0L36.1 470.0L41.2 460.0L46.2 450.0L51.4 440.0L56.5 430.0L61.8 420.0L67.1 410.0L72.5 400.0L77.9 390.0L83.5 380.0L89.1 370.0L94.7 360.0L100.5 350.0L106.3 340.0L112.3 330.0L118.3 320.0L124.4 310.0L130.6 300.0L136.9 290.0L143.4 280.0L149.9 270.0L156.6 260.0L163.3 250.0L170.3 240.0L177.3 230.0L184.5 220.0L191.8 210.0L199.3 200.0L206.9 190.0L214.8 180.0L222.8 170.0L230.9 160.0L239.3 150.0L247.9 140.0L256.7 130.0L265.7 120.0L274.9 110.0L284.4 100.0L294.2 90.0L304.3 80.0L314.6 70.0L325.3 60.0L336.3 50.0L347.7 40.0Z"/>
<path fill="#ff8700" d="M346.5 40.0L335.1 50.0L324.1 60.0L313.4 70.0L303.1 80.0L293.0 90.0L283.2 100.0L273.7 110.0L264.5 120.0L255.5 130.0L246.7 140.0L238.1 150.0L229.7 160.0L221.6 170.0L213.6 180.0L205.7 190.0L198.1 200.0L190.6 210.0L183.3 220.0L176.1 230.0L169.1 240.0L162.1 250.0L155.4 260.0L148.7 270.0L142.2 280.0L135.7 290.0L129.4 300.0L123.2 310.0L117.1 320.0L111.1 330.0L105.1 340.0L99.3 350.0L93.5 360.0L87.9 370.0L82.3 380.0L76.7 390.0L71.3 400.0L65.9 410.0L60.6 420.0L55.3 430.0L50.2 440.0L45.0 450.0L40.0 460.0L34.9 470.0L30.0 480.0L25.1 490.0L20.2 500.0L24.8 500.0L29.7 490.0L34.6 480.0L39.6 470.0L44.6 460.0L49.6 450.0L54.8 440.0L60.0 430.0L65.2 420.0L70.5 410.0L75.9 400.0L81.4 390.0L86.9 380.0L92.5 370.0L98.2 360.0L103.9 350.0L109.8 340.0L115.7 330.0L121.7 320.0L127.8 310.0L134.0 300.0L140.4 290.0L146.8 280.0L153.3 270.0L160.0 260.0L166.8 250.0L173.7 240.0L180.7 230.0L187.9 220.0L195.2 210.0L202.7 200.0L210.4 190.0L218.2 180.0L226.2 170.0L234.4 160.0L242.7 150.0L251.3 140.0L260.1 130.0L269.1 120.0L278.4 110.0L287.9 100.0L297.6 90.0L307.7 80.0L318.0 70.0L328.7 60.0L339.7 50.0L351.1 40.0Z"/>
<path fill="#ff8d00" d="M349.9 40.0L338.5 50.0L327.5 60.0L316.8 70.0L306.5 80.0L296.4 90.0L286.7 100.0L277.2 110.0L267.9 120.0L258.9 130.0L250.1 140.0L241.5 150.0L233.2 160.0L225.0 170.0L217.0 180.0L209.2 190.0L201.5 200.0L194.0 210.0L186.7 220.0L179.5 230.0L172.5 240.0L165.6 250.0L158.8 260.0L152.1 270.0L145.6 280.0L139.2 290.0L132.8 300.0L126.6 310.0L120.5 320.0L114.5 330.0L108.6 340.0L102.7 350.0L97.0 360.0L91.3 370.0L85.7 380.0L80.2 390.0L74.7 400.0L69.3 410.0L64.0 420.0L58.8 430.0L53.6 440.0L48.4 450.0L43.4 460.0L38.4 470.0L33.4 480.0L28.5 490.0L23.6 500.0L28.2 500.0L33.1 490.0L38.0 480.0L43.0 470.0L48.0 460.0L53.1 450.0L58.2 440.0L63.4 430.0L68.6 420.0L74.0 410.0L79.3 400.0L84.8 390.0L90.3 380.0L95.9 370.0L101.6 360.0L107.3 350.0L113.2 340.0L119.1 330.0L125.1 320.0L131.2 310.0L137.5 300.0L143.8 290.0L150.2 280.0L156.7 270.0L163.4 260.0L170.2 250.0L177.1 240.0L184.1 230.0L191.3 220.0L198.7 210.0L206.1 200.0L213.8 190.0L221.6 180.0L229.6 170.0L237.8 160.0L246.1 150.0L254.7 140.0L263.5 130.0L272.5 120.0L281.8 110.0L291.3 100.0L301.1 90.0L311.1 80.0L321.5 70.0L332.1 60.0L343.1 50.0L354.5 40.0Z"/>
<path fill="#ff9300" d="M353.3 40.0L341.9 50.0L330.9 60.0L320.3 70.0L309.9 80.0L299.9 90.0L290.1 100.0L280.6 110.0L271.3 120.0L262.3 130.0L253.5 140.0L244.9 150.0L236.6 160.0L228.4 170.0L220.4 180.0L212.6 190.0L204.9 200.0L197.5 210.0L190.1 220.0L182.9 230.0L175.9 240.0L169.0 250.0L162.2 260.0L155.5 270.0L149.0 280.0L142.6 290.0L136.3 300.0L130.0 310.0L123.9 320.0L117.9 330.0L112.0 340.0L106.1 350.0L100.4 360.0L94.7 370.0L89.1 380.0L83.6 390.0L78.1 400.0L72.8 410.0L67.4 420.0L62.2 430.0L57.0 440.0L51.9 450.0L46.8 460.0L41.8 470.0L36.8 480.0L31.9 490.0L27.0 500.0L31.7 500.0L36.5 490.0L41.4 480.0L46.4 470.0L51.4 460.0L56.5 450.0L61.6 440.0L66.8 430.0L72.1 420.0L77.4 410.0L82.8 400.0L88.2 390.0L93.7 380.0L99.3 370.0L105.0 360.0L110.8 350.0L116.6 340.0L122.5 330.0L128.5 320.0L134.7 310.0L140.9 300.0L147.2 290.0L153.6 280.0L160.2 270.0L166.8 260.0L173.6 250.0L180.5 240.0L187.6 230.0L194.8 220.0L202.1 210.0L209.6 200.0L217.2 190.0L225.0 180.0L233.0 170.0L241.2 160.0L249.6 150.0L258.1 140.0L266.9 130.0L276.0 120.0L285.2 110.0L294.7 100.0L304.5 90.0L314.5 80.0L324.9 70.0L335.6 60.0L346.6 50.0L357.9 40.0Z"/>
<path fill="#ff9900" d="M356.7 40.0L345.4 50.0L334.4 60.0L323.7 70.0L313.3 80.0L303.3 90.0L293.5 100.0L284.0 110.0L274.8 120.0L265.7 130.0L256.9 140.0L248.4 150.0L240.0 160.0L231.8 170.0L223.8 180.0L216.0 190.0L208.4 200.0L200.9 210.0L193.6 220.0L186.4 230.0L179.3 240.0L172.4 250.0L165.6 260.0L159.0 270.0L152.4 280.0L146.0 290.0L139.7 300.0L133.5 310.0L127.3 320.0L121.3 330.0L115.4 340.0L109.6 350.0L103.8 360.0L98.1 370.0L92.5 380.0L87.0 390.0L81.6 400.0L76.2 410.0L70.9 420.0L65.6 430.0L60.4 440.0L55.3 450.0L50.2 460.0L45.2 470.0L40.2 480.0L35.3 490.0L30.5 500.0L35.1 500.0L40.0 490.0L44.9 480.0L49.8 470.0L54.8 460.0L59.9 450.0L65.0 440.0L70.2 430.0L75.5 420.0L80.8 410.0L86.2 400.0L91.6 390.0L97.2 380.0L102.7 370.0L108.4 360.0L114.2 350.0L120.0 340.0L126.0 330.0L132.0 320.0L138.1 310.0L144.3 300.0L150.6 290.0L157.1 280.0L163.6 270.0L170.3 260.0L177.0 250.0L183.9 240.0L191.0 230.0L198.2 220.0L205.5 210.0L213.0 200.0L220.6 190.0L228.5 180.0L236.4 170.0L244.6 160.0L253.0 150.0L261.6 140.0L270.4 130.0L279.4 120.0L288.6 110.0L298.1 100.0L307.9 90.0L318.0 80.0L328.3 70.0L339.0 60.0L350.0 50.0L361.3 40.0Z"/>
<path fill="#ff9f00" d="M360.1 40.0L348.8 50.0L337.8 60.0L327.1 70.0L316.8 80.0L306.7 90.0L296.9 100.0L287.4 110.0L278.2 120.0L269.2 130.0L260.4 140.0L251.8 150.0L243.4 160.0L235.2 170.0L227.3 180.0L219.4 190.0L211.8 200.0L204.3 210.0L197.0 220.0L189.8 230.0L182.7 240.0L175.8 250.0L169.1 260.0L162.4 270.0L155.9 280.0L149.4 290.0L143.1 300.0L136.9 310.0L130.8 320.0L124.8 330.0L118.8 340.0L113.0 350.0L107.2 360.0L101.5 370.0L96.0 380.0L90.4 390.0L85.0 400.0L79.6 410.0L74.3 420.0L69.0 430.0L63.8 440.0L58.7 450.0L53.6 460.0L48.6 470.0L43.7 480.0L38.8 490.0L33.9 500.0L38.5 500.0L43.4 490.0L48.3 480.0L53.3 470.0L58.3 460.0L63.3 450.0L68.5 440.0L73.7 430.0L78.9 420.0L84.2 410.0L89.6 400.0L95.1 390.0L100.6 380.0L106.2 370.0L111.8 360.0L117.6 350.0L123.4 340.0L129.4 330.0L135.4 320.0L141.5 310.0L147.7 300.0L154.0 290.0L160.5 280.0L167.0 270.0L173.7 260.0L180.5 250.0L187.4 240.0L194.4 230.0L201.6 220.0L208.9 210.0L216.4 200.0L224.1 190.0L231.9 180.0L239.9 170.0L248.0 160.0L256.4 150.0L265.0 140.0L273.8 130.0L282.8 120.0L292.1 110.0L301.6 100.0L311.3 90.0L321.4 80.0L331.7 70.0L342.4 60.0L353.4 50.0L364.8 40.0Z"/>
<path fill="#ffa500" d="M363.6 40.0L352.2 50.0L341.2 60.0L330.5 70.0L320.2 80.0L310.1 90.0L300.4 100.0L290.9 110.0L281.6 120.0L272.6 130.0L263.8 140.0L255.2 150.0L246.8 160.0L238.7 170.0L230.7 180.0L222.9 190.0L215.2 200.0L207.7 210.0L200.4 220.0L193.2 230.0L186.2 240.0L179.3 250.0L172.5 260.0L165.8 270.0L159.3 280.0L152.8 290.0L146.5 300.0L140.3 310.0L134.2 320.0L128.2 330.0L122.2 340.0L116.4 350.0L110.6 360.0L105.0 370.0L99.4 380.0L93.9 390.0L88.4 400.0L83.0 410.0L77.7 420.0L72.5 430.0L67.3 440.0L62.1 450.0L57.1 460.0L52.1 470.0L47.1 480.0L42.2 490.0L37.3 500.0L41.9 500.0L46.8 490.0L51.7 480.0L56.7 470.0L61.7 460.0L66.8 450.0L71.9 440.0L77.1 430.0L82.3 420.0L87.6 410.0L93.0 400.0L98.5 390.0L104.0 380.0L109.6 370.0L115.3 360.0L121.0 350.0L126.9 340.0L132.8 330.0L138.8 320.0L144.9 310.0L151.2 300.0L157.5 290.0L163.9 280.0L170.4 270.0L177.1 260.0L183.9 250.0L190.8 240.0L197.8 230.0L205.0 220.0L212.4 210.0L219.8 200.0L227.5 190.0L235.3 180.0L243.3 170.0L251.5 160.0L259.8 150.0L268.4 140.0L277.2 130.0L286.2 120.0L295.5 110.0L305.0 100.0L314.8 90.0L324.8 80.0L335.2 70.0L345.8 60.0L356.8 50.0L368.2 40.0Z"/>
<path fill="#ffab00" d="M367.0 40.0L355.6 50.0L344.6 60.0L334.0 70.0L323.6 80.0L313.6 90.0L303.8 100.0L294.3 110.0L285.0 120.0L276.0 130.0L267.2 140.0L258.6 150.0L250.3 160.0L242.1 170.0L234.1 180.0L226.3 190.0L218.6 200.0L211.2 210.0L203.8 220.0L196.6 230.0L189.6 240.0L182.7 250.0L175.9 260.0L169.2 270.0L162.7 280.0L156.3 290.0L150.0 300.0L143.7 310.0L137.6 320.0L131.6 330.0L125.7 340.0L119.8 350.0L114.1 360.0L108.4 370.0L102.8 380.0L97.3 390.0L91.8 400.0L86.4 410.0L81.1 420.0L75.9 430.0L70.7 440.0L65.6 450.0L60.5 460.0L55.5 470.0L50.5 480.0L45.6 490.0L40.7 500.0L45.4 500.0L50.2 490.0L55.1 480.0L60.1 470.0L65.1 460.0L70.2 450.0L75.3 440.0L80.5 430.0L85.8 420.0L91.1 410.0L96.4 400.0L101.9 390.0L107.4 380.0L113.0 370.0L118.7 360.0L124.4 350.0L130.3 340.0L136.2 330.0L142.2 320.0L148.4 310.0L154.6 300.0L160.9 290.0L167.3 280.0L173.9 270.0L180.5 260.0L187.3 250.0L194.2 240.0L201.3 230.0L208.4 220.0L215.8 210.0L223.3 200.0L230.9 190.0L238.7 180.0L246.7 170.0L254.9 160.0L263.3 150.0L271.8 140.0L280.6 130.0L289.6 120.0L298.9 110.0L308.4 100.0L318.2 90.0L328.2 80.0L338.6 70.0L349.3 60.0L360.3 50.0L371.6 40.0Z"/>
<path fill="#ffb100" d="M370.4 40.0L359.1 50.0L348.1 60.0L337.4 70.0L327.0 80.0L317.0 90.0L307.2 100.0L297.7 110.0L288.4 120.0L279.4 130.0L270.6 140.0L262.1 150.0L253.7 160.0L245.5 170.0L237.5 180.0L229.7 190.0L222.1 200.0L214.6 210.0L207.2 220.0L200.1 230.0L193.0 240.0L186.1 250.0L179.3 260.0L172.7 270.0L166.1 280.0L159.7 290.0L153.4 300.0L147.2 310.0L141.0 320.0L135.0 330.0L129.1 340.0L123.2 350.0L117.5 360.0L111.8 370.0L106.2 380.0L100.7 390.0L95.2 400.0L89.9 410.0L84.6 420.0L79.3 430.0L74.1 440.0L69.0 450.0L63.9 460.0L58.9 470.0L53.9 480.0L49.0 490.0L44.2 500.0L48.8 500.0L53.6 490.0L58.6 480.0L63.5 470.0L68.5 460.0L73.6 450.0L78.7 440.0L83.9 430.0L89.2 420.0L94.5 410.0L99.9 400.0L105.3 390.0L110.8 380.0L116.4 370.0L122.1 360.0L127.9 350.0L133.7 340.0L139.6 330.0L145.7 320.0L151.8 310.0L158.0 300.0L164.3 290.0L170.7 280.0L177.3 270.0L183.9 260.0L190.7 250.0L197.6 240.0L204.7 230.0L211.9 220.0L219.2 210.0L226.7 200.0L234.3 190.0L242.1 180.0L250.1 170.0L258.3 160.0L266.7 150.0L275.3 140.0L284.1 130.0L293.1 120.0L302.3 110.0L311.8 100.0L321.6 90.0L331.7 80.0L342.0 70.0L352.7 60.0L363.7 50.0L375.0 40.0Z"/>
<path fill="#ffb800" d="M373.8 40.0L362.5 50.0L351.5 60.0L340.8 70.0L330.5 80.0L320.4 90.0L310.6 100.0L301.1 110.0L291.9 120.0L282.9 130.0L274.1 140.0L265.5 150.0L257.1 160.0L248.9 170.0L240.9 180.0L233.1 190.0L225.5 200.0L218.0 210.0L210.7 220.0L203.5 230.0L196.4 240.0L189.5 250.0L182.7 260.0L176.1 270.0L169.5 280.0L163.1 290.0L156.8 300.0L150.6 310.0L144.5 320.0L138.4 330.0L132.5 340.0L126.7 350.0L120.9 360.0L115.2 370.0L109.6 380.0L104.1 390.0L98.7 400.0L93.3 410.0L88.0 420.0L82.7 430.0L77.5 440.0L72.4 450.0L67.3 460.0L62.3 470.0L57.4 480.0L52.4 490.0L47.6 500.0L52.2 500.0L57.1 490.0L62.0 480.0L66.9 470.0L72.0 460.0L77.0 450.0L82.2 440.0L87.4 430.0L92.6 420.0L97.9 410.0L103.3 400.0L108.7 390.0L114.3 380.0L119.9 370.0L125.5 360.0L131.3 350.0L137.1 340.0L143.1 330.0L149.1 320.0L155.2 310.0L161.4 300.0L167.7 290.0L174.2 280.0L180.7 270.0L187.4 260.0L194.2 250.0L201.1 240.0L208.1 230.0L215.3 220.0L222.6 210.0L230.1 200.0L237.8 190.0L245.6 180.0L253.6 170.0L261.7 160.0L270.1 150.0L278.7 140.0L287.5 130.0L296.5 120.0L305.7 110.0L315.3 100.0L325.0 90.0L335.1 80.0L345.4 70.0L356.1 60.0L367.1 50.0L378.5 40.0Z"/>
<path fill="#ffbe00" d="M377.3 40.0L365.9 50.0L354.9 60.0L344.2 70.0L333.9 80.0L323.8 90.0L314.1 100.0L304.5 110.0L295.3 120.0L286.3 130.0L277.5 140.0L268.9 150.0L260.5 160.0L252.4 170.0L244.4 180.0L236.6 190.0L228.9 200.0L221.4 210.0L214.1 220.0L206.9 230.0L199.9 240.0L193.0 250.0L186.2 260.0L179.5 270.0L173.0 280.0L166.5 290.0L160.2 300.0L154.0 310.0L147.9 320.0L141.9 330.0L135.9 340.0L130.1 350.0L124.3 360.0L118.7 370.0L113.1 380.0L107.5 390.0L102.1 400.0L96.7 410.0L91.4 420.0L86.2 430.0L81.0 440.0L75.8 450.0L70.8 460.0L65.7 470.0L60.8 480.0L55.9 490.0L51.0 500.0L55.6 500.0L60.5 490.0L65.4 480.0L70.4 470.0L75.4 460.0L80.5 450.0L85.6 440.0L90.8 430.0L96.0 420.0L101.3 410.0L106.7 400.0L112.2 390.0L117.7 380.0L123.3 370.0L129.0 360.0L134.7 350.0L140.6 340.0L146.5 330.0L152.5 320.0L158.6 310.0L164.8 300.0L171.2 290.0L177.6 280.0L184.1 270.0L190.8 260.0L197.6 250.0L204.5 240.0L211.5 230.0L218.7 220.0L226.1 210.0L233.5 200.0L241.2 190.0L249.0 180.0L257.0 170.0L265.2 160.0L273.5 150.0L282.1 140.0L290.9 130.0L299.9 120.0L309.2 110.0L318.7 100.0L328.5 90.0L338.5 80.0L348.9 70.0L359.5 60.0L370.5 50.0L381.9 40.0Z"/>
<path fill="#ffc500" d="M380.7 40.0L369.3 50.0L358.3 60.0L347.7 70.0L337.3 80.0L327.3 90.0L317.5 100.0L308.0 110.0L298.7 120.0L289.7 130.0L280.9 140.0L272.3 150.0L264.0 160.0L255.8 170.0L247.8 180.0L240.0 190.0L232.3 200.0L224.9 210.0L217.5 220.0L210.3 230.0L203.3 240.0L196.4 250.0L189.6 260.0L182.9 270.0L176.4 280.0L170.0 290.0L163.6 300.0L157.4 310.0L151.3 320.0L145.3 330.0L139.4 340.0L133.5 350.0L127.8 360.0L122.1 370.0L116.5 380.0L111.0 390.0L105.5 400.0L100.1 410.0L94.8 420.0L89.6 430.0L84.4 440.0L79.3 450.0L74.2 460.0L69.2 470.0L64.2 480.0L59.3 490.0L54.4 500.0L59.1 500.0L63.9 490.0L68.8 480.0L73.8 470.0L78.8 460.0L83.9 450.0L89.0 440.0L94.2 430.0L99.4 420.0L104.8 410.0L110.1 400.0L115.6 390.0L121.1 380.0L126.7 370.0L132.4 360.0L138.1 350.0L144.0 340.0L149.9 330.0L155.9 320.0L162.1 310.0L168.3 300.0L174.6 290.0L181.0 280.0L187.6 270.0L194.2 260.0L201.0 250.0L207.9 240.0L215.0 230.0L222.1 220.0L229.5 210.0L237.0 200.0L244.6 190.0L252.4 180.0L260.4 170.0L268.6 160.0L277.0 150.0L285.5 140.0L294.3 130.0L303.3 120.0L312.6 110.0L322.1 100.0L331.9 90.0L341.9 80.0L352.3 70.0L363.0 60.0L374.0 50.0L385.3 40.0Z"/>
<path fill="#ffcb00" d="M384.1 40.0L372.8 50.0L361.8 60.0L351.1 70.0L340.7 80.0L330.7 90.0L320.9 100.0L311.4 110.0L302.1 120.0L293.1 130.0L284.3 140.0L275.8 150.0L267.4 160.0L259.2 170.0L251.2 180.0L243.4 190.0L235.8 200.0L228.3 210.0L220.9 220.0L213.8 230.0L206.7 240.0L199.8 250.0L193.0 260.0L186.4 270.0L179.8 280.0L173.4 290.0L167.1 300.0L160.9 310.0L154.7 320.0L148.7 330.0L142.8 340.0L136.9 350.0L131.2 360.0L125.5 370.0L119.9 380.0L114.4 390.0L108.9 400.0L103.6 410.0L98.2 420.0L93.0 430.0L87.8 440.0L82.7 450.0L77.6 460.0L72.6 470.0L67.6 480.0L62.7 490.0L57.9 500.0L62.5 500.0L67.3 490.0L72.3 480.0L77.2 470.0L82.2 460.0L87.3 450.0L92.4 440.0L97.6 430.0L102.9 420.0L108.2 410.0L113.6 400.0L119.0 390.0L124.5 380.0L130.1 370.0L135.8 360.0L141.6 350.0L147.4 340.0L153.3 330.0L159.4 320.0L165.5 310.0L171.7 300.0L178.0 290.0L184.4 280.0L191.0 270.0L197.6 260.0L204.4 250.0L211.3 240.0L218.4 230.0L225.6 220.0L232.9 210.0L240.4 200.0L248.0 190.0L255.8 180.0L263.8 170.0L272.0 160.0L280.4 150.0L289.0 140.0L297.7 130.0L306.8 120.0L316.0 110.0L325.5 100.0L335.3 90.0L345.4 80.0L355.7 70.0L366.4 60.0L377.4 50.0L388.7 40.0Z"/>
<path fill="#ffd200" d="M387.5 40.0L376.2 50.0L365.2 60.0L354.5 70.0L344.2 80.0L334.1 90.0L324.3 100.0L314.8 110.0L305.6 120.0L296.5 130.0L287.8 140.0L279.2 150.0L270.8 160.0L262.6 170.0L254.6 180.0L246.8 190.0L239.2 200.0L231.7 210.0L224.4 220.0L217.2 230.0L210.1 240.0L203.2 250.0L196.4 260.0L189.8 270.0L183.2 280.0L176.8 290.0L170.5 300.0L164.3 310.0L158.2 320.0L152.1 330.0L146.2 340.0L140.4 350.0L134.6 360.0L128.9 370.0L123.3 380.0L117.8 390.0L112.4 400.0L107.0 410.0L101.7 420.0L96.4 430.0L91.2 440.0L86.1 450.0L81.0 460.0L76.0 470.0L71.1 480.0L66.1 490.0L61.3 500.0L65.9 500.0L70.8 490.0L75.7 480.0L80.6 470.0L85.7 460.0L90.7 450.0L95.9 440.0L101.0 430.0L106.3 420.0L111.6 410.0L117.0 400.0L122.4 390.0L128.0 380.0L133.6 370.0L139.2 360.0L145.0 350.0L150.8 340.0L156.8 330.0L162.8 320.0L168.9 310.0L175.1 300.0L181.4 290.0L187.9 280.0L194.4 270.0L201.1 260.0L207.8 250.0L214.8 240.0L221.8 230.0L229.0 220.0L236.3 210.0L243.8 200.0L251.5 190.0L259.3 180.0L267.3 170.0L275.4 160.0L283.8 150.0L292.4 140.0L301.2 130.0L310.2 120.0L319.4 110.0L328.9 100.0L338.7 90.0L348.8 80.0L359.1 70.0L369.8 60.0L380.8 50.0L392.2 40.0Z"/>
<path fill="#ffd800" d="M391.0 40.0L379.6 50.0L368.6 60.0L357.9 70.0L347.6 80.0L337.5 90.0L327.7 100.0L318.2 110.0L309.0 120.0L300.0 130.0L291.2 140.0L282.6 150.0L274.2 160.0L266.1 170.0L258.1 180.0L250.3 190.0L242.6 200.0L235.1 210.0L227.8 220.0L220.6 230.0L213.6 240.0L206.6 250.0L199.9 260.0L193.2 270.0L186.7 280.0L180.2 290.0L173.9 300.0L167.7 310.0L161.6 320.0L155.6 330.0L149.6 340.0L143.8 350.0L138.0 360.0L132.4 370.0L126.8 380.0L121.2 390.0L115.8 400.0L110.4 410.0L105.1 420.0L99.8 430.0L94.7 440.0L89.5 450.0L84.5 460.0L79.4 470.0L74.5 480.0L69.6 490.0L64.7 500.0L69.3 500.0L74.2 490.0L79.1 480.0L84.1 470.0L89.1 460.0L94.2 450.0L99.3 440.0L104.5 430.0L109.7 420.0L115.0 410.0L120.4 400.0L125.9 390.0L131.4 380.0L137.0 370.0L142.7 360.0L148.4 350.0L154.3 340.0L160.2 330.0L166.2 320.0L172.3 310.0L178.5 300.0L184.9 290.0L191.3 280.0L197.8 270.0L204.5 260.0L211.3 250.0L218.2 240.0L225.2 230.0L232.4 220.0L239.7 210.0L247.2 200.0L254.9 190.0L262.7 180.0L270.7 170.0L278.9 160.0L287.2 150.0L295.8 140.0L304.6 130.0L313.6 120.0L322.9 110.0L332.4 100.0L342.1 90.0L352.2 80.0L362.6 70.0L373.2 60.0L384.2 50.0L395.6 40.0Z"/>
<path fill="#ffdf00" d="M394.4 40.0L383.0 50.0L372.0 60.0L361.4 70.0L351.0 80.0L340.9 90.0L331.2 100.0L321.7 110.0L312.4 120.0L303.4 130.0L294.6 140.0L286.0 150.0L277.7 160.0L269.5 170.0L261.5 180.0L253.7 190.0L246.0 200.0L238.5 210.0L231.2 220.0L224.0 230.0L217.0 240.0L210.1 250.0L203.3 260.0L196.6 270.0L190.1 280.0L183.7 290.0L177.3 300.0L171.1 310.0L165.0 320.0L159.0 330.0L153.1 340.0L147.2 350.0L141.5 360.0L135.8 370.0L130.2 380.0L124.7 390.0L119.2 400.0L113.8 410.0L108.5 420.0L103.3 430.0L98.1 440.0L93.0 450.0L87.9 460.0L82.9 470.0L77.9 480.0L73.0 490.0L68.1 500.0L72.7 500.0L77.6 490.0L82.5 480.0L87.5 470.0L92.5 460.0L97.6 450.0L102.7 440.0L107.9 430.0L113.1 420.0L118.5 410.0L123.8 400.0L129.3 390.0L134.8 380.0L140.4 370.0L146.1 360.0L151.8 350.0L157.7 340.0L163.6 330.0L169.6 320.0L175.7 310.0L182.0 300.0L188.3 290.0L194.7 280.0L201.3 270.0L207.9 260.0L214.7 250.0L221.6 240.0L228.6 230.0L235.8 220.0L243.2 210.0L250.7 200.0L258.3 190.0L266.1 180.0L274.1 170.0L282.3 160.0L290.7 150.0L299.2 140.0L308.0 130.0L317.0 120.0L326.3 110.0L335.8 100.0L345.6 90.0L355.6 80.0L366.0 70.0L376.6 60.0L387.6 50.0L399.0 40.0Z"/>
<path fill="#ffe600" d="M397.8 40.0L386.4 50.0L375.4 60.0L364.8 70.0L354.4 80.0L344.4 90.0L334.6 100.0L325.1 110.0L315.8 120.0L306.8 130.0L298.0 140.0L289.5 150.0L281.1 160.0L272.9 170.0L264.9 180.0L257.1 190.0L249.5 200.0L242.0 210.0L234.6 220.0L227.4 230.0L220.4 240.0L213.5 250.0L206.7 260.0L200.1 270.0L193.5 280.0L187.1 290.0L180.8 300.0L174.5 310.0L168.4 320.0L162.4 330.0L156.5 340.0L150.6 350.0L144.9 360.0L139.2 370.0L133.6 380.0L128.1 390.0L122.6 400.0L117.3 410.0L111.9 420.0L106.7 430.0L101.5 440.0L96.4 450.0L91.3 460.0L86.3 470.0L81.3 480.0L76.4 490.0L71.5 500.0L76.2 500.0L81.0 490.0L85.9 480.0L90.9 470.0L95.9 460.0L101.0 450.0L106.1 440.0L111.3 430.0L116.6 420.0L121.9 410.0L127.3 400.0L132.7 390.0L138.2 380.0L143.8 370.0L149.5 360.0L155.3 350.0L161.1 340.0L167.0 330.0L173.1 320.0L179.2 310.0L185.4 300.0L191.7 290.0L198.1 280.0L204.7 270.0L211.3 260.0L218.1 250.0L225.0 240.0L232.1 230.0L239.3 220.0L246.6 210.0L254.1 200.0L261.7 190.0L269.5 180.0L277.5 170.0L285.7 160.0L294.1 150.0L302.6 140.0L311.4 130.0L320.5 120.0L329.7 110.0L339.2 100.0L349.0 90.0L359.0 80.0L369.4 70.0L380.1 60.0L391.1 50.0L402.4 40.0Z"/>
<path fill="#ffec00" d="M401.2 40.0L389.9 50.0L378.9 60.0L368.2 70.0L357.8 80.0L347.8 90.0L338.0 100.0L328.5 110.0L319.3 120.0L310.2 130.0L301.4 140.0L292.9 150.0L284.5 160.0L276.3 170.0L268.3 180.0L260.5 190.0L252.9 200.0L245.4 210.0L238.1 220.0L230.9 230.0L223.8 240.0L216.9 250.0L210.1 260.0L203.5 270.0L196.9 280.0L190.5 290.0L184.2 300.0L178.0 310.0L171.9 320.0L165.8 330.0L159.9 340.0L154.1 350.0L148.3 360.0L142.6 370.0L137.0 380.0L131.5 390.0L126.1 400.0L120.7 410.0L115.4 420.0L110.1 430.0L104.9 440.0L99.8 450.0L94.7 460.0L89.7 470.0L84.7 480.0L79.8 490.0L75.0 500.0L79.6 500.0L84.5 490.0L89.4 480.0L94.3 470.0L99.3 460.0L104.4 450.0L109.5 440.0L114.7 430.0L120.0 420.0L125.3 410.0L130.7 400.0L136.1 390.0L141.7 380.0L147.3 370.0L152.9 360.0L158.7 350.0L164.5 340.0L170.5 330.0L176.5 320.0L182.6 310.0L188.8 300.0L195.1 290.0L201.6 280.0L208.1 270.0L214.8 260.0L221.5 250.0L228.5 240.0L235.5 230.0L242.7 220.0L250.0 210.0L257.5 200.0L265.1 190.0L273.0 180.0L281.0 170.0L289.1 160.0L297.5 150.0L306.1 140.0L314.9 130.0L323.9 120.0L333.1 110.0L342.6 100.0L352.4 90.0L362.5 80.0L372.8 70.0L383.5 60.0L394.5 50.0L405.9 40.0Z"/>
<path fill="#fff300" d="M404.7 40.0L393.3 50.0L382.3 60.0L371.6 70.0L361.3 80.0L351.2 90.0L341.4 100.0L331.9 110.0L322.7 120.0L313.7 130.0L304.9 140.0L296.3 150.0L287.9 160.0L279.8 170.0L271.8 180.0L263.9 190.0L256.3 200.0L248.8 210.0L241.5 220.0L234.3 230.0L227.3 240.0L220.3 250.0L213.6 260.0L206.9 270.0L200.4 280.0L193.9 290.0L187.6 300.0L181.4 310.0L175.3 320.0L169.3 330.0L163.3 340.0L157.5 350.0L151.7 360.0L146.1 370.0L140.5 380.0L134.9 390.0L129.5 400.0L124.1 410.0L118.8 420.0L113.5 430.0L108.3 440.0L103.2 450.0L98.1 460.0L93.1 470.0L88.2 480.0L83.3 490.0L78.4 500.0L83.0 500.0L87.9 490.0L92.8 480.0L97.8 470.0L102.8 460.0L107.8 450.0L113.0 440.0L118.2 430.0L123.4 420.0L128.7 410.0L134.1 400.0L139.6 390.0L145.1 380.0L150.7 370.0L156.3 360.0L162.1 350.0L167.9 340.0L173.9 330.0L179.9 320.0L186.0 310.0L192.2 300.0L198.6 290.0L205.0 280.0L211.5 270.0L218.2 260.0L225.0 250.0L231.9 240.0L238.9 230.0L246.1 220.0L253.4 210.0L260.9 200.0L268.6 190.0L276.4 180.0L284.4 170.0L292.5 160.0L300.9 150.0L309.5 140.0L318.3 130.0L327.3 120.0L336.6 110.0L346.1 100.0L355.8 90.0L365.9 80.0L376.2 70.0L386.9 60.0L397.9 50.0L409.3 40.0Z"/>
<path fill="#fff900" d="M408.1 40.0L396.7 50.0L385.7 60.0L375.0 70.0L364.7 80.0L354.6 90.0L344.9 100.0L335.4 110.0L326.1 120.0L317.1 130.0L308.3 140.0L299.7 150.0L291.3 160.0L283.2 170.0L275.2 180.0L267.4 190.0L259.7 200.0L252.2 210.0L244.9 220.0L237.7 230.0L230.7 240.0L223.8 250.0L217.0 260.0L210.3 270.0L203.8 280.0L197.4 290.0L191.0 300.0L184.8 310.0L178.7 320.0L172.7 330.0L166.7 340.0L160.9 350.0L155.1 360.0L149.5 370.0L143.9 380.0L138.4 390.0L132.9 400.0L127.5 410.0L122.2 420.0L117.0 430.0L111.8 440.0L106.6 450.0L101.6 460.0L96.6 470.0L91.6 480.0L86.7 490.0L81.8 500.0L86.4 500.0L91.3 490.0L96.2 480.0L101.2 470.0L106.2 460.0L111.3 450.0L116.4 440.0L121.6 430.0L126.8 420.0L132.1 410.0L137.5 400.0L143.0 390.0L148.5 380.0L154.1 370.0L159.8 360.0L165.5 350.0L171.4 340.0L177.3 330.0L183.3 320.0L189.4 310.0L195.7 300.0L202.0 290.0L208.4 280.0L214.9 270.0L221.6 260.0L228.4 250.0L235.3 240.0L242.3 230.0L249.5 220.0L256.9 210.0L264.3 200.0L272.0 190.0L279.8 180.0L287.8 170.0L296.0 160.0L304.3 150.0L312.9 140.0L321.7 130.0L330.7 120.0L340.0 110.0L349.5 100.0L359.3 90.0L369.3 80.0L379.7 70.0L390.3 60.0L401.3 50.0L412.7 40.0Z"/>
<path fill="#feff01" d="M411.5 40.0L400.1 50.0L389.1 60.0L378.5 70.0L368.1 80.0L358.1 90.0L348.3 100.0L338.8 110.0L329.5 120.0L320.5 130.0L311.7 140.0L303.1 150.0L294.8 160.0L286.6 170.0L278.6 180.0L270.8 190.0L263.1 200.0L255.7 210.0L248.3 220.0L241.1 230.0L234.1 240.0L227.2 250.0L220.4 260.0L213.7 270.0L207.2 280.0L200.8 290.0L194.5 300.0L188.2 310.0L182.1 320.0L176.1 330.0L170.2 340.0L164.3 350.0L158.6 360.0L152.9 370.0L147.3 380.0L141.8 390.0L136.3 400.0L130.9 410.0L125.6 420.0L120.4 430.0L115.2 440.0L110.1 450.0L105.0 460.0L100.0 470.0L95.0 480.0L90.1 490.0L85.2 500.0L89.9 500.0L94.7 490.0L99.6 480.0L104.6 470.0L109.6 460.0L114.7 450.0L119.8 440.0L125.0 430.0L130.3 420.0L135.6 410.0L141.0 400.0L146.4 390.0L151.9 380.0L157.5 370.0L163.2 360.0L169.0 350.0L174.8 340.0L180.7 330.0L186.7 320.0L192.9 310.0L199.1 300.0L205.4 290.0L211.8 280.0L218.4 270.0L225.0 260.0L231.8 250.0L238.7 240.0L245.8 230.0L253.0 220.0L260.3 210.0L267.8 200.0L275.4 190.0L283.2 180.0L291.2 170.0L299.4 160.0L307.8 150.0L316.3 140.0L325.1 130.0L334.1 120.0L343.4 110.0L352.9 100.0L362.7 90.0L372.7 80.0L383.1 70.0L393.8 60.0L404.8 50.0L416.1 40.0Z"/>
<path fill="#fbff0a" d="M414.9 40.0L403.6 50.0L392.6 60.0L381.9 70.0L371.5 80.0L361.5 90.0L351.7 100.0L342.2 110.0L332.9 120.0L323.9 130.0L315.1 140.0L306.6 150.0L298.2 160.0L290.0 170.0L282.0 180.0L274.2 190.0L266.6 200.0L259.1 210.0L251.8 220.0L244.6 230.0L237.5 240.0L230.6 250.0L223.8 260.0L217.2 270.0L210.6 280.0L204.2 290.0L197.9 300.0L191.7 310.0L185.5 320.0L179.5 330.0L173.6 340.0L167.8 350.0L162.0 360.0L156.3 370.0L150.7 380.0L145.2 390.0L139.8 400.0L134.4 410.0L129.1 420.0L123.8 430.0L118.6 440.0L113.5 450.0L108.4 460.0L103.4 470.0L98.4 480.0L93.5 490.0L88.7 500.0L93.3 500.0L98.1 490.0L103.1 480.0L108.0 470.0L113.0 460.0L118.1 450.0L123.2 440.0L128.4 430.0L133.7 420.0L139.0 410.0L144.4 400.0L149.8 390.0L155.3 380.0L160.9 370.0L166.6 360.0L172.4 350.0L178.2 340.0L184.1 330.0L190.2 320.0L196.3 310.0L202.5 300.0L208.8 290.0L215.3 280.0L221.8 270.0L228.5 260.0L235.2 250.0L242.1 240.0L249.2 230.0L256.4 220.0L263.7 210.0L271.2 200.0L278.8 190.0L286.7 180.0L294.6 170.0L302.8 160.0L311.2 150.0L319.8 140.0L328.6 130.0L337.6 120.0L346.8 110.0L356.3 100.0L366.1 90.0L376.2 80.0L386.5 70.0L397.2 60.0L408.2 50.0L419.5 40.0Z"/>
<path fill="#f7ff13" d="M418.3 40.0L407.0 50.0L396.0 60.0L385.3 70.0L375.0 80.0L364.9 90.0L355.1 100.0L345.6 110.0L336.4 120.0L327.4 130.0L318.6 140.0L310.0 150.0L301.6 160.0L293.4 170.0L285.5 180.0L277.6 190.0L270.0 200.0L262.5 210.0L255.2 220.0L248.0 230.0L240.9 240.0L234.0 250.0L227.3 260.0L220.6 270.0L214.1 280.0L207.6 290.0L201.3 300.0L195.1 310.0L189.0 320.0L182.9 330.0L177.0 340.0L171.2 350.0L165.4 360.0L159.7 370.0L154.1 380.0L148.6 390.0L143.2 400.0L137.8 410.0L132.5 420.0L127.2 430.0L122.0 440.0L116.9 450.0L111.8 460.0L106.8 470.0L101.9 480.0L96.9 490.0L92.1 500.0L96.7 500.0L101.6 490.0L106.5 480.0L111.4 470.0L116.5 460.0L121.5 450.0L126.7 440.0L131.9 430.0L137.1 420.0L142.4 410.0L147.8 400.0L153.2 390.0L158.8 380.0L164.4 370.0L170.0 360.0L175.8 350.0L181.6 340.0L187.6 330.0L193.6 320.0L199.7 310.0L205.9 300.0L212.2 290.0L218.7 280.0L225.2 270.0L231.9 260.0L238.7 250.0L245.6 240.0L252.6 230.0L259.8 220.0L267.1 210.0L274.6 200.0L282.3 190.0L290.1 180.0L298.1 170.0L306.2 160.0L314.6 150.0L323.2 140.0L332.0 130.0L341.0 120.0L350.3 110.0L359.8 100.0L369.5 90.0L379.6 80.0L389.9 70.0L400.6 60.0L411.6 50.0L423.0 40.0Z"/>
<path fill="#f4ff1c" d="M421.8 40.0L410.4 50.0L399.4 60.0L388.7 70.0L378.4 80.0L368.3 90.0L358.6 100.0L349.1 110.0L339.8 120.0L330.8 130.0L322.0 140.0L313.4 150.0L305.0 160.0L296.9 170.0L288.9 180.0L281.1 190.0L273.4 200.0L265.9 210.0L258.6 220.0L251.4 230.0L244.4 240.0L237.5 250.0L230.7 260.0L224.0 270.0L217.5 280.0L211.0 290.0L204.7 300.0L198.5 310.0L192.4 320.0L186.4 330.0L180.4 340.0L174.6 350.0L168.8 360.0L163.2 370.0L157.6 380.0L152.0 390.0L146.6 400.0L141.2 410.0L135.9 420.0L130.7 430.0L125.5 440.0L120.3 450.0L115.3 460.0L110.2 470.0L105.3 480.0L100.4 490.0L95.5 500.0L100.1 500.0L105.0 490.0L109.9 480.0L114.9 470.0L119.9 460.0L125.0 450.0L130.1 440.0L135.3 430.0L140.5 420.0L145.8 410.0L151.2 400.0L156.7 390.0L162.2 380.0L167.8 370.0L173.5 360.0L179.2 350.0L185.1 340.0L191.0 330.0L197.0 320.0L203.1 310.0L209.3 300.0L215.7 290.0L222.1 280.0L228.6 270.0L235.3 260.0L242.1 250.0L249.0 240.0L256.0 230.0L263.2 220.0L270.6 210.0L278.0 200.0L285.7 190.0L293.5 180.0L301.5 170.0L309.7 160.0L318.0 150.0L326.6 140.0L335.4 130.0L344.4 120.0L353.7 110.0L363.2 100.0L373.0 90.0L383.0 80.0L393.4 70.0L404.0 60.0L415.0 50.0L426.4 40.0Z"/>
<path fill="#f0ff25" d="M425.2 40.0L413.8 50.0L402.8 60.0L392.2 70.0L381.8 80.0L371.8 90.0L362.0 100.0L352.5 110.0L343.2 120.0L334.2 130.0L325.4 140.0L316.8 150.0L308.5 160.0L300.3 170.0L292.3 180.0L284.5 190.0L276.8 200.0L269.4 210.0L262.0 220.0L254.8 230.0L247.8 240.0L240.9 250.0L234.1 260.0L227.4 270.0L220.9 280.0L214.5 290.0L208.1 300.0L201.9 310.0L195.8 320.0L189.8 330.0L183.9 340.0L178.0 350.0L172.3 360.0L166.6 370.0L161.0 380.0L155.5 390.0L150.0 400.0L144.6 410.0L139.3 420.0L134.1 430.0L128.9 440.0L123.8 450.0L118.7 460.0L113.7 470.0L108.7 480.0L103.8 490.0L98.9 500.0L103.6 500.0L108.4 490.0L113.3 480.0L118.3 470.0L123.3 460.0L128.4 450.0L133.5 440.0L138.7 430.0L144.0 420.0L149.3 410.0L154.6 400.0L160.1 390.0L165.6 380.0L171.2 370.0L176.9 360.0L182.6 350.0L188.5 340.0L194.4 330.0L200.4 320.0L206.6 310.0L212.8 300.0L219.1 290.0L225.5 280.0L232.1 270.0L238.7 260.0L245.5 250.0L252.4 240.0L259.5 230.0L266.6 220.0L274.0 210.0L281.5 200.0L289.1 190.0L296.9 180.0L304.9 170.0L313.1 160.0L321.5 150.0L330.0 140.0L338.8 130.0L347.8 120.0L357.1 110.0L366.6 100.0L376.4 90.0L386.4 80.0L396.8 70.0L407.5 60.0L418.5 50.0L429.8 40.0Z"/>
<path fill="#ecff2e" d="M428.6 40.0L417.3 50.0L406.3 60.0L395.6 70.0L385.2 80.0L375.2 90.0L365.4 100.0L355.9 110.0L346.6 120.0L337.6 130.0L328.8 140.0L320.3 150.0L311.9 160.0L303.7 170.0L295.7 180.0L287.9 190.0L280.3 200.0L272.8 210.0L265.4 220.0L258.3 230.0L251.2 240.0L244.3 250.0L237.5 260.0L230.9 270.0L224.3 280.0L217.9 290.0L211.6 300.0L205.4 310.0L199.2 320.0L193.2 330.0L187.3 340.0L181.4 350.0L175.7 360.0L170.0 370.0L164.4 380.0L158.9 390.0L153.4 400.0L148.1 410.0L142.8 420.0L137.5 430.0L132.3 440.0L127.2 450.0L122.1 460.0L117.1 470.0L112.1 480.0L107.2 490.0L102.4 500.0L107.0 500.0L111.8 490.0L116.8 480.0L121.7 470.0L126.7 460.0L131.8 450.0L136.9 440.0L142.1 430.0L147.4 420.0L152.7 410.0L158.1 400.0L163.5 390.0L169.0 380.0L174.6 370.0L180.3 360.0L186.1 350.0L191.9 340.0L197.8 330.0L203.9 320.0L210.0 310.0L216.2 300.0L222.5 290.0L228.9 280.0L235.5 270.0L242.1 260.0L248.9 250.0L255.8 240.0L262.9 230.0L270.1 220.0L277.4 210.0L284.9 200.0L292.5 190.0L300.3 180.0L308.3 170.0L316.5 160.0L324.9 150.0L333.5 140.0L342.2 130.0L351.3 120.0L360.5 110.0L370.0 100.0L379.8 90.0L389.9 80.0L400.2 70.0L410.9 60.0L421.9 50.0L433.2 40.0Z"/>
<path fill="#e9ff37" d="M432.0 40.0L420.7 50.0L409.7 60.0L399.0 70.0L388.7 80.0L378.6 90.0L368.8 100.0L359.3 110.0L350.1 120.0L341.0 130.0L332.3 140.0L323.7 150.0L315.3 160.0L307.1 170.0L299.1 180.0L291.3 190.0L283.7 200.0L276.2 210.0L268.9 220.0L261.7 230.0L254.6 240.0L247.7 250.0L240.9 260.0L234.3 270.0L227.7 280.0L221.3 290.0L215.0 300.0L208.8 310.0L202.7 320.0L196.6 330.0L190.7 340.0L184.9 350.0L179.1 360.0L173.4 370.0L167.8 380.0L162.3 390.0L156.9 400.0L151.5 410.0L146.2 420.0L140.9 430.0L135.7 440.0L130.6 450.0L125.5 460.0L120.5 470.0L115.6 480.0L110.6 490.0L105.8 500.0L110.4 500.0L115.3 490.0L120.2 480.0L125.1 470.0L130.2 460.0L135.2 450.0L140.4 440.0L145.5 430.0L150.8 420.0L156.1 410.0L161.5 400.0L166.9 390.0L172.5 380.0L178.1 370.0L183.7 360.0L189.5 350.0L195.3 340.0L201.3 330.0L207.3 320.0L213.4 310.0L219.6 300.0L225.9 290.0L232.4 280.0L238.9 270.0L245.6 260.0L252.4 250.0L259.3 240.0L266.3 230.0L273.5 220.0L280.8 210.0L288.3 200.0L296.0 190.0L303.8 180.0L311.8 170.0L319.9 160.0L328.3 150.0L336.9 140.0L345.7 130.0L354.7 120.0L363.9 110.0L373.5 100.0L383.2 90.0L393.3 80.0L403.6 70.0L414.3 60.0L425.3 50.0L436.7 40.0Z"/>
<path fill="#e5ff3f" d="M435.5 40.0L424.1 50.0L413.1 60.0L402.4 70.0L392.1 80.0L382.0 90.0L372.3 100.0L362.7 110.0L353.5 120.0L344.5 130.0L335.7 140.0L327.1 150.0L318.7 160.0L310.6 170.0L302.6 180.0L294.8 190.0L287.1 200.0L279.6 210.0L272.3 220.0L265.1 230.0L258.1 240.0L251.2 250.0L244.4 260.0L237.7 270.0L231.2 280.0L224.7 290.0L218.4 300.0L212.2 310.0L206.1 320.0L200.1 330.0L194.1 340.0L188.3 350.0L182.5 360.0L176.9 370.0L171.3 380.0L165.7 390.0L160.3 400.0L154.9 410.0L149.6 420.0L144.3 430.0L139.2 440.0L134.0 450.0L129.0 460.0L123.9 470.0L119.0 480.0L114.1 490.0L109.2 500.0L113.8 500.0L118.7 490.0L123.6 480.0L128.6 470.0L133.6 460.0L138.7 450.0L143.8 440.0L149.0 430.0L154.2 420.0L159.5 410.0L164.9 400.0L170.4 390.0L175.9 380.0L181.5 370.0L187.2 360.0L192.9 350.0L198.8 340.0L204.7 330.0L210.7 320.0L216.8 310.0L223.0 300.0L229.4 290.0L235.8 280.0L242.3 270.0L249.0 260.0L255.8 250.0L262.7 240.0L269.7 230.0L276.9 220.0L284.2 210.0L291.7 200.0L299.4 190.0L307.2 180.0L315.2 170.0L323.4 160.0L331.7 150.0L340.3 140.0L349.1 130.0L358.1 120.0L367.4 110.0L376.9 100.0L386.6 90.0L396.7 80.0L407.1 70.0L417.7 60.0L428.7 50.0L440.1 40.0Z"/>
<path fill="#e2ff48" d="M438.9 40.0L427.5 50.0L416.5 60.0L405.9 70.0L395.5 80.0L385.4 90.0L375.7 100.0L366.2 110.0L356.9 120.0L347.9 130.0L339.1 140.0L330.5 150.0L322.2 160.0L314.0 170.0L306.0 180.0L298.2 190.0L290.5 200.0L283.0 210.0L275.7 220.0L268.5 230.0L261.5 240.0L254.6 250.0L247.8 260.0L241.1 270.0L234.6 280.0L228.2 290.0L221.8 300.0L215.6 310.0L209.5 320.0L203.5 330.0L197.6 340.0L191.7 350.0L186.0 360.0L180.3 370.0L174.7 380.0L169.2 390.0L163.7 400.0L158.3 410.0L153.0 420.0L147.8 430.0L142.6 440.0L137.5 450.0L132.4 460.0L127.4 470.0L122.4 480.0L117.5 490.0L112.6 500.0L117.2 500.0L122.1 490.0L127.0 480.0L132.0 470.0L137.0 460.0L142.1 450.0L147.2 440.0L152.4 430.0L157.6 420.0L163.0 410.0L168.3 400.0L173.8 390.0L179.3 380.0L184.9 370.0L190.6 360.0L196.3 350.0L202.2 340.0L208.1 330.0L214.1 320.0L220.2 310.0L226.5 300.0L232.8 290.0L239.2 280.0L245.8 270.0L252.4 260.0L259.2 250.0L266.1 240.0L273.2 230.0L280.3 220.0L287.7 210.0L295.2 200.0L302.8 190.0L310.6 180.0L318.6 170.0L326.8 160.0L335.2 150.0L343.7 140.0L352.5 130.0L361.5 120.0L370.8 110.0L380.3 100.0L390.1 90.0L400.1 80.0L410.5 70.0L421.1 60.0L432.1 50.0L443.5 40.0Z"/>
<path fill="#deff51" d="M442.3 40.0L430.9 50.0L419.9 60.0L409.3 70.0L398.9 80.0L388.9 90.0L379.1 100.0L369.6 110.0L360.3 120.0L351.3 130.0L342.5 140.0L334.0 150.0L325.6 160.0L317.4 170.0L309.4 180.0L301.6 190.0L294.0 200.0L286.5 210.0L279.1 220.0L272.0 230.0L264.9 240.0L258.0 250.0L251.2 260.0L244.6 270.0L238.0 280.0L231.6 290.0L225.3 300.0L219.0 310.0L212.9 320.0L206.9 330.0L201.0 340.0L195.1 350.0L189.4 360.0L183.7 370.0L178.1 380.0L172.6 390.0L167.1 400.0L161.8 410.0L156.4 420.0L151.2 430.0L146.0 440.0L140.9 450.0L135.8 460.0L130.8 470.0L125.8 480.0L120.9 490.0L116.0 500.0L120.7 500.0L125.5 490.0L130.4 480.0L135.4 470.0L140.4 460.0L145.5 450.0L150.6 440.0L155.8 430.0L161.1 420.0L166.4 410.0L171.8 400.0L177.2 390.0L182.7 380.0L188.3 370.0L194.0 360.0L199.8 350.0L205.6 340.0L211.5 330.0L217.6 320.0L223.7 310.0L229.9 300.0L236.2 290.0L242.6 280.0L249.2 270.0L255.8 260.0L262.6 250.0L269.5 240.0L276.6 230.0L283.8 220.0L291.1 210.0L298.6 200.0L306.2 190.0L314.0 180.0L322.0 170.0L330.2 160.0L338.6 150.0L347.2 140.0L355.9 130.0L365.0 120.0L374.2 110.0L383.7 100.0L393.5 90.0L403.6 80.0L413.9 70.0L424.6 60.0L435.6 50.0L446.9 40.0Z"/>
<path fill="#dbff5a" d="M445.7 40.0L434.4 50.0L423.4 60.0L412.7 70.0L402.4 80.0L392.3 90.0L382.5 100.0L373.0 110.0L363.8 120.0L354.7 130.0L346.0 140.0L337.4 150.0L329.0 160.0L320.8 170.0L312.8 180.0L305.0 190.0L297.4 200.0L289.9 210.0L282.6 220.0L275.4 230.0L268.3 240.0L261.4 250.0L254.6 260.0L248.0 270.0L241.4 280.0L235.0 290.0L228.7 300.0L222.5 310.0L216.4 320.0L210.3 330.0L204.4 340.0L198.6 350.0L192.8 360.0L187.1 370.0L181.5 380.0L176.0 390.0L170.6 400.0L165.2 410.0L159.9 420.0L154.6 430.0L149.4 440.0L144.3 450.0L139.2 460.0L134.2 470.0L129.2 480.0L124.3 490.0L119.5 500.0L124.1 500.0L129.0 490.0L133.9 480.0L138.8 470.0L143.9 460.0L148.9 450.0L154.1 440.0L159.2 430.0L164.5 420.0L169.8 410.0L175.2 400.0L180.6 390.0L186.2 380.0L191.8 370.0L197.4 360.0L203.2 350.0L209.0 340.0L215.0 330.0L221.0 320.0L227.1 310.0L233.3 300.0L239.6 290.0L246.1 280.0L252.6 270.0L259.3 260.0L266.0 250.0L273.0 240.0L280.0 230.0L287.2 220.0L294.5 210.0L302.0 200.0L309.6 190.0L317.5 180.0L325.5 170.0L333.6 160.0L342.0 150.0L350.6 140.0L359.4 130.0L368.4 120.0L377.6 110.0L387.1 100.0L396.9 90.0L407.0 80.0L417.3 70.0L428.0 60.0L439.0 50.0L450.4 40.0Z"/>
<path fill="#d7ff63" d="M449.2 40.0L437.8 50.0L426.8 60.0L416.1 70.0L405.8 80.0L395.7 90.0L385.9 100.0L376.4 110.0L367.2 120.0L358.2 130.0L349.4 140.0L340.8 150.0L332.4 160.0L324.3 170.0L316.3 180.0L308.4 190.0L300.8 200.0L293.3 210.0L286.0 220.0L278.8 230.0L271.8 240.0L264.8 250.0L258.1 260.0L251.4 270.0L244.9 280.0L238.4 290.0L232.1 300.0L225.9 310.0L219.8 320.0L213.8 330.0L207.8 340.0L202.0 350.0L196.2 360.0L190.6 370.0L185.0 380.0L179.4 390.0L174.0 400.0L168.6 410.0L163.3 420.0L158.0 430.0L152.9 440.0L147.7 450.0L142.7 460.0L137.6 470.0L132.7 480.0L127.8 490.0L122.9 500.0L127.5 500.0L132.4 490.0L137.3 480.0L142.3 470.0L147.3 460.0L152.3 450.0L157.5 440.0L162.7 430.0L167.9 420.0L173.2 410.0L178.6 400.0L184.1 390.0L189.6 380.0L195.2 370.0L200.9 360.0L206.6 350.0L212.5 340.0L218.4 330.0L224.4 320.0L230.5 310.0L236.7 300.0L243.1 290.0L249.5 280.0L256.0 270.0L262.7 260.0L269.5 250.0L276.4 240.0L283.4 230.0L290.6 220.0L297.9 210.0L305.4 200.0L313.1 190.0L320.9 180.0L328.9 170.0L337.1 160.0L345.4 150.0L354.0 140.0L362.8 130.0L371.8 120.0L381.1 110.0L390.6 100.0L400.3 90.0L410.4 80.0L420.7 70.0L431.4 60.0L442.4 50.0L453.8 40.0Z"/>
<path fill="#d3ff6b" d="M452.6 40.0L441.2 50.0L430.2 60.0L419.5 70.0L409.2 80.0L399.1 90.0L389.4 100.0L379.9 110.0L370.6 120.0L361.6 130.0L352.8 140.0L344.2 150.0L335.9 160.0L327.7 170.0L319.7 180.0L311.9 190.0L304.2 200.0L296.7 210.0L289.4 220.0L282.2 230.0L275.2 240.0L268.3 250.0L261.5 260.0L254.8 270.0L248.3 280.0L241.9 290.0L235.5 300.0L229.3 310.0L223.2 320.0L217.2 330.0L211.3 340.0L205.4 350.0L199.7 360.0L194.0 370.0L188.4 380.0L182.9 390.0L177.4 400.0L172.0 410.0L166.7 420.0L161.5 430.0L156.3 440.0L151.1 450.0L146.1 460.0L141.1 470.0L136.1 480.0L131.2 490.0L126.3 500.0L130.9 500.0L135.8 490.0L140.7 480.0L145.7 470.0L150.7 460.0L155.8 450.0L160.9 440.0L166.1 430.0L171.3 420.0L176.7 410.0L182.0 400.0L187.5 390.0L193.0 380.0L198.6 370.0L204.3 360.0L210.0 350.0L215.9 340.0L221.8 330.0L227.8 320.0L233.9 310.0L240.2 300.0L246.5 290.0L252.9 280.0L259.4 270.0L266.1 260.0L272.9 250.0L279.8 240.0L286.8 230.0L294.0 220.0L301.4 210.0L308.8 200.0L316.5 190.0L324.3 180.0L332.3 170.0L340.5 160.0L348.8 150.0L357.4 140.0L366.2 130.0L375.2 120.0L384.5 110.0L394.0 100.0L403.8 90.0L413.8 80.0L424.2 70.0L434.8 60.0L445.8 50.0L457.2 40.0Z"/>
<path fill="#d0ff70" d="M456.0 40.0L444.6 50.0L433.6 60.0L423.0 70.0L412.6 80.0L402.6 90.0L392.8 100.0L383.3 110.0L374.0 120.0L365.0 130.0L356.2 140.0L347.6 150.0L339.3 160.0L331.1 170.0L323.1 180.0L315.3 190.0L307.6 200.0L300.2 210.0L292.8 220.0L285.6 230.0L278.6 240.0L271.7 250.0L264.9 260.0L258.2 270.0L251.7 280.0L245.3 290.0L239.0 300.0L232.7 310.0L226.6 320.0L220.6 330.0L214.7 340.0L208.8 350.0L203.1 360.0L197.4 370.0L191.8 380.0L186.3 390.0L180.8 400.0L175.5 410.0L170.1 420.0L164.9 430.0L159.7 440.0L154.6 450.0L149.5 460.0L144.5 470.0L139.5 480.0L134.6 490.0L129.7 500.0L134.4 500.0L139.2 490.0L144.1 480.0L149.1 470.0L154.1 460.0L159.2 450.0L164.3 440.0L169.5 430.0L174.8 420.0L180.1 410.0L185.5 400.0L190.9 390.0L196.4 380.0L202.0 370.0L207.7 360.0L213.5 350.0L219.3 340.0L225.2 330.0L231.2 320.0L237.4 310.0L243.6 300.0L249.9 290.0L256.3 280.0L262.9 270.0L269.5 260.0L276.3 250.0L283.2 240.0L290.3 230.0L297.5 220.0L304.8 210.0L312.3 200.0L319.9 190.0L327.7 180.0L335.7 170.0L343.9 160.0L352.3 150.0L360.8 140.0L369.6 130.0L378.7 120.0L387.9 110.0L397.4 100.0L407.2 90.0L417.2 80.0L427.6 70.0L438.3 60.0L449.3 50.0L460.6 40.0Z"/>
<path fill="#ccff76" d="M459.4 40.0L448.1 50.0L437.1 60.0L426.4 70.0L416.0 80.0L406.0 90.0L396.2 100.0L386.7 110.0L377.5 120.0L368.4 130.0L359.6 140.0L351.1 150.0L342.7 160.0L334.5 170.0L326.5 180.0L318.7 190.0L311.1 200.0L303.6 210.0L296.3 220.0L289.1 230.0L282.0 240.0L275.1 250.0L268.3 260.0L261.7 270.0L255.1 280.0L248.7 290.0L242.4 300.0L236.2 310.0L230.0 320.0L224.0 330.0L218.1 340.0L212.3 350.0L206.5 360.0L200.8 370.0L195.2 380.0L189.7 390.0L184.3 400.0L178.9 410.0L173.6 420.0L168.3 430.0L163.1 440.0L158.0 450.0L152.9 460.0L147.9 470.0L142.9 480.0L138.0 490.0L133.2 500.0L137.8 500.0L142.7 490.0L147.6 480.0L152.5 470.0L157.5 460.0L162.6 450.0L167.7 440.0L172.9 430.0L178.2 420.0L183.5 410.0L188.9 400.0L194.3 390.0L199.8 380.0L205.4 370.0L211.1 360.0L216.9 350.0L222.7 340.0L228.6 330.0L234.7 320.0L240.8 310.0L247.0 300.0L253.3 290.0L259.8 280.0L266.3 270.0L273.0 260.0L279.7 250.0L286.6 240.0L293.7 230.0L300.9 220.0L308.2 210.0L315.7 200.0L323.3 190.0L331.2 180.0L339.1 170.0L347.3 160.0L355.7 150.0L364.3 140.0L373.1 130.0L382.1 120.0L391.3 110.0L400.8 100.0L410.6 90.0L420.7 80.0L431.0 70.0L441.7 60.0L452.7 50.0L464.0 40.0Z"/>
<path fill="#c9ff7b" d="M462.8 40.0L451.5 50.0L440.5 60.0L429.8 70.0L419.5 80.0L409.4 90.0L399.6 100.0L390.1 110.0L380.9 120.0L371.9 130.0L363.1 140.0L354.5 150.0L346.1 160.0L337.9 170.0L330.0 180.0L322.1 190.0L314.5 200.0L307.0 210.0L299.7 220.0L292.5 230.0L285.4 240.0L278.5 250.0L271.8 260.0L265.1 270.0L258.6 280.0L252.1 290.0L245.8 300.0L239.6 310.0L233.5 320.0L227.4 330.0L221.5 340.0L215.7 350.0L209.9 360.0L204.2 370.0L198.6 380.0L193.1 390.0L187.7 400.0L182.3 410.0L177.0 420.0L171.7 430.0L166.5 440.0L161.4 450.0L156.3 460.0L151.3 470.0L146.4 480.0L141.5 490.0L136.6 500.0L141.2 500.0L146.1 490.0L151.0 480.0L156.0 470.0L161.0 460.0L166.0 450.0L171.2 440.0L176.4 430.0L181.6 420.0L186.9 410.0L192.3 400.0L197.8 390.0L203.3 380.0L208.9 370.0L214.5 360.0L220.3 350.0L226.1 340.0L232.1 330.0L238.1 320.0L244.2 310.0L250.4 300.0L256.7 290.0L263.2 280.0L269.7 270.0L276.4 260.0L283.2 250.0L290.1 240.0L297.1 230.0L304.3 220.0L311.6 210.0L319.1 200.0L326.8 190.0L334.6 180.0L342.6 170.0L350.7 160.0L359.1 150.0L367.7 140.0L376.5 130.0L385.5 120.0L394.8 110.0L404.3 100.0L414.0 90.0L424.1 80.0L434.4 70.0L445.1 60.0L456.1 50.0L467.5 40.0Z"/>
<path fill="#c5ff80" d="M466.3 40.0L454.9 50.0L443.9 60.0L433.2 70.0L422.9 80.0L412.8 90.0L403.1 100.0L393.6 110.0L384.3 120.0L375.3 130.0L366.5 140.0L357.9 150.0L349.5 160.0L341.4 170.0L333.4 180.0L325.6 190.0L317.9 200.0L310.4 210.0L303.1 220.0L295.9 230.0L288.9 240.0L282.0 250.0L275.2 260.0L268.5 270.0L262.0 280.0L255.5 290.0L249.2 300.0L243.0 310.0L236.9 320.0L230.9 330.0L224.9 340.0L219.1 350.0L213.3 360.0L207.7 370.0L202.1 380.0L196.6 390.0L191.1 400.0L185.7 410.0L180.4 420.0L175.2 430.0L170.0 440.0L164.8 450.0L159.8 460.0L154.8 470.0L149.8 480.0L144.9 490.0L140.0 500.0L144.6 500.0L149.5 490.0L154.4 480.0L159.4 470.0L164.4 460.0L169.5 450.0L174.6 440.0L179.8 430.0L185.0 420.0L190.3 410.0L195.7 400.0L201.2 390.0L206.7 380.0L212.3 370.0L218.0 360.0L223.7 350.0L229.6 340.0L235.5 330.0L241.5 320.0L247.6 310.0L253.9 300.0L260.2 290.0L266.6 280.0L273.1 270.0L279.8 260.0L286.6 250.0L293.5 240.0L300.5 230.0L307.7 220.0L315.1 210.0L322.5 200.0L330.2 190.0L338.0 180.0L346.0 170.0L354.2 160.0L362.5 150.0L371.1 140.0L379.9 130.0L388.9 120.0L398.2 110.0L407.7 100.0L417.5 90.0L427.5 80.0L437.9 70.0L448.5 60.0L459.5 50.0L470.9 40.0Z"/>
<path fill="#c2ff86" d="M469.7 40.0L458.3 50.0L447.3 60.0L436.7 70.0L426.3 80.0L416.3 90.0L406.5 100.0L397.0 110.0L387.7 120.0L378.7 130.0L369.9 140.0L361.3 150.0L353.0 160.0L344.8 170.0L336.8 180.0L329.0 190.0L321.3 200.0L313.9 210.0L306.5 220.0L299.3 230.0L292.3 240.0L285.4 250.0L278.6 260.0L271.9 270.0L265.4 280.0L259.0 290.0L252.7 300.0L246.4 310.0L240.3 320.0L234.3 330.0L228.4 340.0L222.5 350.0L216.8 360.0L211.1 370.0L205.5 380.0L200.0 390.0L194.5 400.0L189.1 410.0L183.8 420.0L178.6 430.0L173.4 440.0L168.3 450.0L163.2 460.0L158.2 470.0L153.2 480.0L148.3 490.0L143.4 500.0L148.1 500.0L152.9 490.0L157.8 480.0L162.8 470.0L167.8 460.0L172.9 450.0L178.0 440.0L183.2 430.0L188.5 420.0L193.8 410.0L199.1 400.0L204.6 390.0L210.1 380.0L215.7 370.0L221.4 360.0L227.1 350.0L233.0 340.0L238.9 330.0L244.9 320.0L251.1 310.0L257.3 300.0L263.6 290.0L270.0 280.0L276.6 270.0L283.2 260.0L290.0 250.0L296.9 240.0L304.0 230.0L311.1 220.0L318.5 210.0L326.0 200.0L333.6 190.0L341.4 180.0L349.4 170.0L357.6 160.0L366.0 150.0L374.5 140.0L383.3 130.0L392.3 120.0L401.6 110.0L411.1 100.0L420.9 90.0L430.9 80.0L441.3 70.0L452.0 60.0L463.0 50.0L474.3 40.0Z"/>
<path fill="#beff8b" d="M473.1 40.0L461.8 50.0L450.8 60.0L440.1 70.0L429.7 80.0L419.7 90.0L409.9 100.0L400.4 110.0L391.1 120.0L382.1 130.0L373.3 140.0L364.8 150.0L356.4 160.0L348.2 170.0L340.2 180.0L332.4 190.0L324.8 200.0L317.3 210.0L309.9 220.0L302.8 230.0L295.7 240.0L288.8 250.0L282.0 260.0L275.4 270.0L268.8 280.0L262.4 290.0L256.1 300.0L249.9 310.0L243.7 320.0L237.7 330.0L231.8 340.0L225.9 350.0L220.2 360.0L214.5 370.0L208.9 380.0L203.4 390.0L197.9 400.0L192.6 410.0L187.3 420.0L182.0 430.0L176.8 440.0L171.7 450.0L166.6 460.0L161.6 470.0L156.6 480.0L151.7 490.0L146.9 500.0L151.5 500.0L156.3 490.0L161.3 480.0L166.2 470.0L171.2 460.0L176.3 450.0L181.4 440.0L186.6 430.0L191.9 420.0L197.2 410.0L202.6 400.0L208.0 390.0L213.5 380.0L219.1 370.0L224.8 360.0L230.6 350.0L236.4 340.0L242.3 330.0L248.4 320.0L254.5 310.0L260.7 300.0L267.0 290.0L273.4 280.0L280.0 270.0L286.6 260.0L293.4 250.0L300.3 240.0L307.4 230.0L314.6 220.0L321.9 210.0L329.4 200.0L337.0 190.0L344.8 180.0L352.8 170.0L361.0 160.0L369.4 150.0L378.0 140.0L386.8 130.0L395.8 120.0L405.0 110.0L414.5 100.0L424.3 90.0L434.4 80.0L444.7 70.0L455.4 60.0L466.4 50.0L477.7 40.0Z"/>
<path fill="#bbff90" d="M476.5 40.0L465.2 50.0L454.2 60.0L443.5 70.0L433.2 80.0L423.1 90.0L413.3 100.0L403.8 110.0L394.6 120.0L385.6 130.0L376.8 140.0L368.2 150.0L359.8 160.0L351.6 170.0L343.6 180.0L335.8 190.0L328.2 200.0L320.7 210.0L313.4 220.0L306.2 230.0L299.1 240.0L292.2 250.0L285.4 260.0L278.8 270.0L272.2 280.0L265.8 290.0L259.5 300.0L253.3 310.0L247.2 320.0L241.1 330.0L235.2 340.0L229.4 350.0L223.6 360.0L217.9 370.0L212.3 380.0L206.8 390.0L201.4 400.0L196.0 410.0L190.7 420.0L185.4 430.0L180.2 440.0L175.1 450.0L170.0 460.0L165.0 470.0L160.1 480.0L155.1 490.0L150.3 500.0L154.9 500.0L159.8 490.0L164.7 480.0L169.6 470.0L174.7 460.0L179.7 450.0L184.9 440.0L190.1 430.0L195.3 420.0L200.6 410.0L206.0 400.0L211.4 390.0L217.0 380.0L222.6 370.0L228.2 360.0L234.0 350.0L239.8 340.0L245.8 330.0L251.8 320.0L257.9 310.0L264.1 300.0L270.4 290.0L276.9 280.0L283.4 270.0L290.1 260.0L296.9 250.0L303.8 240.0L310.8 230.0L318.0 220.0L325.3 210.0L332.8 200.0L340.5 190.0L348.3 180.0L356.3 170.0L364.4 160.0L372.8 150.0L381.4 140.0L390.2 130.0L399.2 120.0L408.4 110.0L418.0 100.0L427.7 90.0L437.8 80.0L448.1 70.0L458.8 60.0L469.8 50.0L481.2 40.0Z"/>
<path fill="#b7ff96" d="M480.0 40.0L468.6 50.0L457.6 60.0L446.9 70.0L436.6 80.0L426.5 90.0L416.8 100.0L407.2 110.0L398.0 120.0L389.0 130.0L380.2 140.0L371.6 150.0L363.2 160.0L355.1 170.0L347.1 180.0L339.3 190.0L331.6 200.0L324.1 210.0L316.8 220.0L309.6 230.0L302.6 240.0L295.7 250.0L288.9 260.0L282.2 270.0L275.7 280.0L269.2 290.0L262.9 300.0L256.7 310.0L250.6 320.0L244.6 330.0L238.6 340.0L232.8 350.0L227.0 360.0L221.4 370.0L215.8 380.0L210.2 390.0L204.8 400.0L199.4 410.0L194.1 420.0L188.9 430.0L183.7 440.0L178.5 450.0L173.5 460.0L168.4 470.0L163.5 480.0L158.6 490.0L153.7 500.0L158.3 500.0L163.2 490.0L168.1 480.0L173.1 470.0L178.1 460.0L183.2 450.0L188.3 440.0L193.5 430.0L198.7 420.0L204.0 410.0L209.4 400.0L214.9 390.0L220.4 380.0L226.0 370.0L231.7 360.0L237.4 350.0L243.3 340.0L249.2 330.0L255.2 320.0L261.3 310.0L267.5 300.0L273.9 290.0L280.3 280.0L286.8 270.0L293.5 260.0L300.3 250.0L307.2 240.0L314.2 230.0L321.4 220.0L328.7 210.0L336.2 200.0L343.9 190.0L351.7 180.0L359.7 170.0L367.9 160.0L376.2 150.0L384.8 140.0L393.6 130.0L402.6 120.0L411.9 110.0L421.4 100.0L431.2 90.0L441.2 80.0L451.6 70.0L462.2 60.0L473.2 50.0L484.6 40.0Z"/>
<path fill="#b4ff9b" d="M483.4 40.0L472.0 50.0L461.0 60.0L450.4 70.0L440.0 80.0L430.0 90.0L420.2 100.0L410.7 110.0L401.4 120.0L392.4 130.0L383.6 140.0L375.0 150.0L366.7 160.0L358.5 170.0L350.5 180.0L342.7 190.0L335.0 200.0L327.5 210.0L320.2 220.0L313.0 230.0L306.0 240.0L299.1 250.0L292.3 260.0L285.6 270.0L279.1 280.0L272.7 290.0L266.3 300.0L260.1 310.0L254.0 320.0L248.0 330.0L242.1 340.0L236.2 350.0L230.5 360.0L224.8 370.0L219.2 380.0L213.7 390.0L208.2 400.0L202.8 410.0L197.5 420.0L192.3 430.0L187.1 440.0L182.0 450.0L176.9 460.0L171.9 470.0L166.9 480.0L162.0 490.0L157.1 500.0L161.8 500.0L166.6 490.0L171.5 480.0L176.5 470.0L181.5 460.0L186.6 450.0L191.7 440.0L196.9 430.0L202.1 420.0L207.5 410.0L212.8 400.0L218.3 390.0L223.8 380.0L229.4 370.0L235.1 360.0L240.8 350.0L246.7 340.0L252.6 330.0L258.6 320.0L264.8 310.0L271.0 300.0L277.3 290.0L283.7 280.0L290.3 270.0L296.9 260.0L303.7 250.0L310.6 240.0L317.7 230.0L324.8 220.0L332.2 210.0L339.7 200.0L347.3 190.0L355.1 180.0L363.1 170.0L371.3 160.0L379.7 150.0L388.2 140.0L397.0 130.0L406.0 120.0L415.3 110.0L424.8 100.0L434.6 90.0L444.6 80.0L455.0 70.0L465.6 60.0L476.7 50.0L488.0 40.0Z"/>
<path fill="#b0ffa0" d="M486.8 40.0L475.5 50.0L464.4 60.0L453.8 70.0L443.4 80.0L433.4 90.0L423.6 100.0L414.1 110.0L404.8 120.0L395.8 130.0L387.0 140.0L378.5 150.0L370.1 160.0L361.9 170.0L353.9 180.0L346.1 190.0L338.5 200.0L331.0 210.0L323.6 220.0L316.5 230.0L309.4 240.0L302.5 250.0L295.7 260.0L289.1 270.0L282.5 280.0L276.1 290.0L269.8 300.0L263.6 310.0L257.4 320.0L251.4 330.0L245.5 340.0L239.6 350.0L233.9 360.0L228.2 370.0L222.6 380.0L217.1 390.0L211.6 400.0L206.3 410.0L200.9 420.0L195.7 430.0L190.5 440.0L185.4 450.0L180.3 460.0L175.3 470.0L170.3 480.0L165.4 490.0L160.6 500.0L165.2 500.0L170.0 490.0L175.0 480.0L179.9 470.0L184.9 460.0L190.0 450.0L195.1 440.0L200.3 430.0L205.6 420.0L210.9 410.0L216.3 400.0L221.7 390.0L227.2 380.0L232.8 370.0L238.5 360.0L244.3 350.0L250.1 340.0L256.0 330.0L262.1 320.0L268.2 310.0L274.4 300.0L280.7 290.0L287.1 280.0L293.7 270.0L300.3 260.0L307.1 250.0L314.0 240.0L321.1 230.0L328.3 220.0L335.6 210.0L343.1 200.0L350.7 190.0L358.5 180.0L366.5 170.0L374.7 160.0L383.1 150.0L391.7 140.0L400.4 130.0L409.5 120.0L418.7 110.0L428.2 100.0L438.0 90.0L448.1 80.0L458.4 70.0L469.1 60.0L480.1 50.0L491.4 40.0Z"/>
<path fill="#adffa6" d="M490.2 40.0L478.9 50.0L467.9 60.0L457.2 70.0L446.9 80.0L436.8 90.0L427.0 100.0L417.5 110.0L408.3 120.0L399.2 130.0L390.5 140.0L381.9 150.0L373.5 160.0L365.3 170.0L357.3 180.0L349.5 190.0L341.9 200.0L334.4 210.0L327.1 220.0L319.9 230.0L312.8 240.0L305.9 250.0L299.1 260.0L292.5 270.0L285.9 280.0L279.5 290.0L273.2 300.0L267.0 310.0L260.9 320.0L254.8 330.0L248.9 340.0L243.1 350.0L237.3 360.0L231.6 370.0L226.0 380.0L220.5 390.0L215.1 400.0L209.7 410.0L204.4 420.0L199.1 430.0L193.9 440.0L188.8 450.0L183.7 460.0L178.7 470.0L173.8 480.0L168.8 490.0L164.0 500.0L168.6 500.0L173.5 490.0L178.4 480.0L183.3 470.0L188.4 460.0L193.4 450.0L198.6 440.0L203.7 430.0L209.0 420.0L214.3 410.0L219.7 400.0L225.1 390.0L230.7 380.0L236.3 370.0L241.9 360.0L247.7 350.0L253.5 340.0L259.5 330.0L265.5 320.0L271.6 310.0L277.8 300.0L284.1 290.0L290.6 280.0L297.1 270.0L303.8 260.0L310.5 250.0L317.5 240.0L324.5 230.0L331.7 220.0L339.0 210.0L346.5 200.0L354.2 190.0L362.0 180.0L370.0 170.0L378.1 160.0L386.5 150.0L395.1 140.0L403.9 130.0L412.9 120.0L422.1 110.0L431.6 100.0L441.4 90.0L451.5 80.0L461.8 70.0L472.5 60.0L483.5 50.0L494.9 40.0Z"/>
<path fill="#a8ffab" d="M493.7 40.0L482.3 50.0L471.3 60.0L460.6 70.0L450.3 80.0L440.2 90.0L430.4 100.0L420.9 110.0L411.7 120.0L402.7 130.0L393.9 140.0L385.3 150.0L376.9 160.0L368.8 170.0L360.8 180.0L353.0 190.0L345.3 200.0L337.8 210.0L330.5 220.0L323.3 230.0L316.3 240.0L309.3 250.0L302.6 260.0L295.9 270.0L289.4 280.0L282.9 290.0L276.6 300.0L270.4 310.0L264.3 320.0L258.3 330.0L252.3 340.0L246.5 350.0L240.7 360.0L235.1 370.0L229.5 380.0L223.9 390.0L218.5 400.0L213.1 410.0L207.8 420.0L202.5 430.0L197.4 440.0L192.2 450.0L187.2 460.0L182.1 470.0L177.2 480.0L172.3 490.0L167.4 500.0L172.0 500.0L176.9 490.0L181.8 480.0L186.8 470.0L191.8 460.0L196.9 450.0L202.0 440.0L207.2 430.0L212.4 420.0L217.7 410.0L223.1 400.0L228.6 390.0L234.1 380.0L239.7 370.0L245.4 360.0L251.1 350.0L257.0 340.0L262.9 330.0L268.9 320.0L275.0 310.0L281.2 300.0L287.6 290.0L294.0 280.0L300.5 270.0L307.2 260.0L314.0 250.0L320.9 240.0L327.9 230.0L335.1 220.0L342.4 210.0L349.9 200.0L357.6 190.0L365.4 180.0L373.4 170.0L381.6 160.0L389.9 150.0L398.5 140.0L407.3 130.0L416.3 120.0L425.6 110.0L435.1 100.0L444.8 90.0L454.9 80.0L465.3 70.0L475.9 60.0L486.9 50.0L498.3 40.0Z"/>
<path fill="#a0ffb2" d="M497.1 40.0L485.7 50.0L474.7 60.0L464.1 70.0L453.7 80.0L443.6 90.0L433.9 100.0L424.4 110.0L415.1 120.0L406.1 130.0L397.3 140.0L388.7 150.0L380.4 160.0L372.2 170.0L364.2 180.0L356.4 190.0L348.7 200.0L341.2 210.0L333.9 220.0L326.7 230.0L319.7 240.0L312.8 250.0L306.0 260.0L299.3 270.0L292.8 280.0L286.4 290.0L280.0 300.0L273.8 310.0L267.7 320.0L261.7 330.0L255.8 340.0L249.9 350.0L244.2 360.0L238.5 370.0L232.9 380.0L227.4 390.0L221.9 400.0L216.5 410.0L211.2 420.0L206.0 430.0L200.8 440.0L195.7 450.0L190.6 460.0L185.6 470.0L180.6 480.0L175.7 490.0L170.8 500.0L175.4 500.0L180.3 490.0L185.2 480.0L190.2 470.0L195.2 460.0L200.3 450.0L205.4 440.0L210.6 430.0L215.8 420.0L221.2 410.0L226.5 400.0L232.0 390.0L237.5 380.0L243.1 370.0L248.8 360.0L254.5 350.0L260.4 340.0L266.3 330.0L272.3 320.0L278.4 310.0L284.7 300.0L291.0 290.0L297.4 280.0L304.0 270.0L310.6 260.0L317.4 250.0L324.3 240.0L331.3 230.0L338.5 220.0L345.9 210.0L353.4 200.0L361.0 190.0L368.8 180.0L376.8 170.0L385.0 160.0L393.3 150.0L401.9 140.0L410.7 130.0L419.7 120.0L429.0 110.0L438.5 100.0L448.3 90.0L458.3 80.0L468.7 70.0L479.3 60.0L490.3 50.0L501.7 40.0Z"/>
<path fill="#98ffb8" d="M500.5 40.0L489.1 50.0L478.1 60.0L467.5 70.0L457.1 80.0L447.1 90.0L437.3 100.0L427.8 110.0L418.5 120.0L409.5 130.0L400.7 140.0L392.1 150.0L383.8 160.0L375.6 170.0L367.6 180.0L359.8 190.0L352.2 200.0L344.7 210.0L337.3 220.0L330.1 230.0L323.1 240.0L316.2 250.0L309.4 260.0L302.8 270.0L296.2 280.0L289.8 290.0L283.5 300.0L277.2 310.0L271.1 320.0L265.1 330.0L259.2 340.0L253.3 350.0L247.6 360.0L241.9 370.0L236.3 380.0L230.8 390.0L225.3 400.0L220.0 410.0L214.6 420.0L209.4 430.0L204.2 440.0L199.1 450.0L194.0 460.0L189.0 470.0L184.0 480.0L179.1 490.0L174.2 500.0L178.9 500.0L183.7 490.0L188.6 480.0L193.6 470.0L198.6 460.0L203.7 450.0L208.8 440.0L214.0 430.0L219.3 420.0L224.6 410.0L230.0 400.0L235.4 390.0L240.9 380.0L246.5 370.0L252.2 360.0L258.0 350.0L263.8 340.0L269.7 330.0L275.8 320.0L281.9 310.0L288.1 300.0L294.4 290.0L300.8 280.0L307.4 270.0L314.0 260.0L320.8 250.0L327.7 240.0L334.8 230.0L342.0 220.0L349.3 210.0L356.8 200.0L364.4 190.0L372.2 180.0L380.2 170.0L388.4 160.0L396.8 150.0L405.3 140.0L414.1 130.0L423.2 120.0L432.4 110.0L441.9 100.0L451.7 90.0L461.7 80.0L472.1 70.0L482.8 60.0L493.8 50.0L505.1 40.0Z"/>
<path fill="#90ffbf" d="M503.9 40.0L492.6 50.0L481.6 60.0L470.9 70.0L460.5 80.0L450.5 90.0L440.7 100.0L431.2 110.0L422.0 120.0L412.9 130.0L404.1 140.0L395.6 150.0L387.2 160.0L379.0 170.0L371.0 180.0L363.2 190.0L355.6 200.0L348.1 210.0L340.8 220.0L333.6 230.0L326.5 240.0L319.6 250.0L312.8 260.0L306.2 270.0L299.6 280.0L293.2 290.0L286.9 300.0L280.7 310.0L274.6 320.0L268.5 330.0L262.6 340.0L256.8 350.0L251.0 360.0L245.3 370.0L239.7 380.0L234.2 390.0L228.8 400.0L223.4 410.0L218.1 420.0L212.8 430.0L207.6 440.0L202.5 450.0L197.4 460.0L192.4 470.0L187.4 480.0L182.5 490.0L177.7 500.0L182.3 500.0L187.2 490.0L192.1 480.0L197.0 470.0L202.0 460.0L207.1 450.0L212.2 440.0L217.4 430.0L222.7 420.0L228.0 410.0L233.4 400.0L238.8 390.0L244.4 380.0L249.9 370.0L255.6 360.0L261.4 350.0L267.2 340.0L273.2 330.0L279.2 320.0L285.3 310.0L291.5 300.0L297.8 290.0L304.3 280.0L310.8 270.0L317.5 260.0L324.2 250.0L331.2 240.0L338.2 230.0L345.4 220.0L352.7 210.0L360.2 200.0L367.8 190.0L375.7 180.0L383.6 170.0L391.8 160.0L400.2 150.0L408.8 140.0L417.6 130.0L426.6 120.0L435.8 110.0L445.3 100.0L455.1 90.0L465.2 80.0L475.5 70.0L486.2 60.0L497.2 50.0L508.6 40.0Z"/>
<path fill="#88ffc5" d="M507.4 40.0L496.0 50.0L485.0 60.0L474.3 70.0L464.0 80.0L453.9 90.0L444.1 100.0L434.6 110.0L425.4 120.0L416.4 130.0L407.6 140.0L399.0 150.0L390.6 160.0L382.4 170.0L374.5 180.0L366.6 190.0L359.0 200.0L351.5 210.0L344.2 220.0L337.0 230.0L330.0 240.0L323.0 250.0L316.3 260.0L309.6 270.0L303.1 280.0L296.6 290.0L290.3 300.0L284.1 310.0L278.0 320.0L272.0 330.0L266.0 340.0L260.2 350.0L254.4 360.0L248.7 370.0L243.2 380.0L237.6 390.0L232.2 400.0L226.8 410.0L221.5 420.0L216.2 430.0L211.0 440.0L205.9 450.0L200.8 460.0L195.8 470.0L190.9 480.0L186.0 490.0L181.1 500.0L185.7 500.0L190.6 490.0L195.5 480.0L200.5 470.0L205.5 460.0L210.5 450.0L215.7 440.0L220.9 430.0L226.1 420.0L231.4 410.0L236.8 400.0L242.3 390.0L247.8 380.0L253.4 370.0L259.0 360.0L264.8 350.0L270.6 340.0L276.6 330.0L282.6 320.0L288.7 310.0L294.9 300.0L301.3 290.0L307.7 280.0L314.2 270.0L320.9 260.0L327.7 250.0L334.6 240.0L341.6 230.0L348.8 220.0L356.1 210.0L363.6 200.0L371.3 190.0L379.1 180.0L387.1 170.0L395.2 160.0L403.6 150.0L412.2 140.0L421.0 130.0L430.0 120.0L439.3 110.0L448.8 100.0L458.5 90.0L468.6 80.0L478.9 70.0L489.6 60.0L500.6 50.0L512.0 40.0Z"/>
<path fill="#80ffcc" d="M510.8 40.0L499.4 50.0L488.4 60.0L477.7 70.0L467.4 80.0L457.3 90.0L447.6 100.0L438.1 110.0L428.8 120.0L419.8 130.0L411.0 140.0L402.4 150.0L394.0 160.0L385.9 170.0L377.9 180.0L370.1 190.0L362.4 200.0L354.9 210.0L347.6 220.0L340.4 230.0L333.4 240.0L326.5 250.0L319.7 260.0L313.0 270.0L306.5 280.0L300.1 290.0L293.7 300.0L287.5 310.0L281.4 320.0L275.4 330.0L269.4 340.0L263.6 350.0L257.8 360.0L252.2 370.0L246.6 380.0L241.1 390.0L235.6 400.0L230.2 410.0L224.9 420.0L219.7 430.0L214.5 440.0L209.3 450.0L204.3 460.0L199.3 470.0L194.3 480.0L189.4 490.0L184.5 500.0L189.1 500.0L194.0 490.0L198.9 480.0L203.9 470.0L208.9 460.0L214.0 450.0L219.1 440.0L224.3 430.0L229.5 420.0L234.8 410.0L240.2 400.0L245.7 390.0L251.2 380.0L256.8 370.0L262.5 360.0L268.2 350.0L274.1 340.0L280.0 330.0L286.0 320.0L292.1 310.0L298.4 300.0L304.7 290.0L311.1 280.0L317.6 270.0L324.3 260.0L331.1 250.0L338.0 240.0L345.0 230.0L352.2 220.0L359.6 210.0L367.0 200.0L374.7 190.0L382.5 180.0L390.5 170.0L398.7 160.0L407.0 150.0L415.6 140.0L424.4 130.0L433.4 120.0L442.7 110.0L452.2 100.0L462.0 90.0L472.0 80.0L482.4 70.0L493.0 60.0L504.0 50.0L515.4 40.0Z"/>
<path fill="#78ffd2" d="M514.2 40.0L502.8 50.0L491.8 60.0L481.2 70.0L470.8 80.0L460.8 90.0L451.0 100.0L441.5 110.0L432.2 120.0L423.2 130.0L414.4 140.0L405.8 150.0L397.5 160.0L389.3 170.0L381.3 180.0L373.5 190.0L365.8 200.0L358.4 210.0L351.0 220.0L343.8 230.0L336.8 240.0L329.9 250.0L323.1 260.0L316.4 270.0L309.9 280.0L303.5 290.0L297.2 300.0L290.9 310.0L284.8 320.0L278.8 330.0L272.9 340.0L267.0 350.0L261.3 360.0L255.6 370.0L250.0 380.0L244.5 390.0L239.0 400.0L233.6 410.0L228.3 420.0L223.1 430.0L217.9 440.0L212.8 450.0L207.7 460.0L202.7 470.0L197.7 480.0L192.8 490.0L187.9 500.0L192.6 500.0L197.4 490.0L202.3 480.0L207.3 470.0L212.3 460.0L217.4 450.0L222.5 440.0L227.7 430.0L233.0 420.0L238.3 410.0L243.7 400.0L249.1 390.0L254.6 380.0L260.2 370.0L265.9 360.0L271.7 350.0L277.5 340.0L283.4 330.0L289.4 320.0L295.6 310.0L301.8 300.0L308.1 290.0L314.5 280.0L321.1 270.0L327.7 260.0L334.5 250.0L341.4 240.0L348.5 230.0L355.7 220.0L363.0 210.0L370.5 200.0L378.1 190.0L385.9 180.0L393.9 170.0L402.1 160.0L410.5 150.0L419.0 140.0L427.8 130.0L436.8 120.0L446.1 110.0L455.6 100.0L465.4 90.0L475.4 80.0L485.8 70.0L496.5 60.0L507.5 50.0L518.8 40.0Z"/>
<path fill="#70ffd9" d="M517.6 40.0L506.3 50.0L495.3 60.0L484.6 70.0L474.2 80.0L464.2 90.0L454.4 100.0L444.9 110.0L435.6 120.0L426.6 130.0L417.8 140.0L409.3 150.0L400.9 160.0L392.7 170.0L384.7 180.0L376.9 190.0L369.3 200.0L361.8 210.0L354.5 220.0L347.3 230.0L340.2 240.0L333.3 250.0L326.5 260.0L319.9 270.0L313.3 280.0L306.9 290.0L300.6 300.0L294.4 310.0L288.2 320.0L282.2 330.0L276.3 340.0L270.5 350.0L264.7 360.0L259.0 370.0L253.4 380.0L247.9 390.0L242.5 400.0L237.1 410.0L231.8 420.0L226.5 430.0L221.3 440.0L216.2 450.0L211.1 460.0L206.1 470.0L201.1 480.0L196.2 490.0L191.4 500.0L196.0 500.0L200.8 490.0L205.8 480.0L210.7 470.0L215.7 460.0L220.8 450.0L225.9 440.0L231.1 430.0L236.4 420.0L241.7 410.0L247.1 400.0L252.5 390.0L258.0 380.0L263.6 370.0L269.3 360.0L275.1 350.0L280.9 340.0L286.8 330.0L292.9 320.0L299.0 310.0L305.2 300.0L311.5 290.0L317.9 280.0L324.5 270.0L331.2 260.0L337.9 250.0L344.8 240.0L351.9 230.0L359.1 220.0L366.4 210.0L373.9 200.0L381.5 190.0L389.4 180.0L397.3 170.0L405.5 160.0L413.9 150.0L422.5 140.0L431.3 130.0L440.3 120.0L449.5 110.0L459.0 100.0L468.8 90.0L478.9 80.0L489.2 70.0L499.9 60.0L510.9 50.0L522.2 40.0Z"/>
<path fill="#68ffdf" d="M521.0 40.0L509.7 50.0L498.7 60.0L488.0 70.0L477.7 80.0L467.6 90.0L457.8 100.0L448.3 110.0L439.1 120.0L430.1 130.0L421.3 140.0L412.7 150.0L404.3 160.0L396.1 170.0L388.2 180.0L380.3 190.0L372.7 200.0L365.2 210.0L357.9 220.0L350.7 230.0L343.6 240.0L336.7 250.0L330.0 260.0L323.3 270.0L316.7 280.0L310.3 290.0L304.0 300.0L297.8 310.0L291.7 320.0L285.6 330.0L279.7 340.0L273.9 350.0L268.1 360.0L262.4 370.0L256.8 380.0L251.3 390.0L245.9 400.0L240.5 410.0L235.2 420.0L229.9 430.0L224.7 440.0L219.6 450.0L214.5 460.0L209.5 470.0L204.6 480.0L199.6 490.0L194.8 500.0L199.4 500.0L204.3 490.0L209.2 480.0L214.1 470.0L219.2 460.0L224.2 450.0L229.4 440.0L234.6 430.0L239.8 420.0L245.1 410.0L250.5 400.0L255.9 390.0L261.5 380.0L267.1 370.0L272.7 360.0L278.5 350.0L284.3 340.0L290.3 330.0L296.3 320.0L302.4 310.0L308.6 300.0L314.9 290.0L321.4 280.0L327.9 270.0L334.6 260.0L341.4 250.0L348.3 240.0L355.3 230.0L362.5 220.0L369.8 210.0L377.3 200.0L385.0 190.0L392.8 180.0L400.8 170.0L408.9 160.0L417.3 150.0L425.9 140.0L434.7 130.0L443.7 120.0L453.0 110.0L462.5 100.0L472.2 90.0L482.3 80.0L492.6 70.0L503.3 60.0L514.3 50.0L525.7 40.0Z"/>
<path fill="#60ffe5" d="M524.5 40.0L513.1 50.0L502.1 60.0L491.4 70.0L481.1 80.0L471.0 90.0L461.3 100.0L451.8 110.0L442.5 120.0L433.5 130.0L424.7 140.0L416.1 150.0L407.7 160.0L399.6 170.0L391.6 180.0L383.8 190.0L376.1 200.0L368.6 210.0L361.3 220.0L354.1 230.0L347.1 240.0L340.2 250.0L333.4 260.0L326.7 270.0L320.2 280.0L313.7 290.0L307.4 300.0L301.2 310.0L295.1 320.0L289.1 330.0L283.1 340.0L277.3 350.0L271.5 360.0L265.9 370.0L260.3 380.0L254.7 390.0L249.3 400.0L243.9 410.0L238.6 420.0L233.4 430.0L228.2 440.0L223.0 450.0L218.0 460.0L212.9 470.0L208.0 480.0L203.1 490.0L198.2 500.0L202.8 500.0L207.7 490.0L212.6 480.0L217.6 470.0L222.6 460.0L227.7 450.0L232.8 440.0L238.0 430.0L243.2 420.0L248.5 410.0L253.9 400.0L259.4 390.0L264.9 380.0L270.5 370.0L276.2 360.0L281.9 350.0L287.8 340.0L293.7 330.0L299.7 320.0L305.8 310.0L312.0 300.0L318.4 290.0L324.8 280.0L331.3 270.0L338.0 260.0L344.8 250.0L351.7 240.0L358.7 230.0L365.9 220.0L373.3 210.0L380.7 200.0L388.4 190.0L396.2 180.0L404.2 170.0L412.4 160.0L420.7 150.0L429.3 140.0L438.1 130.0L447.1 120.0L456.4 110.0L465.9 100.0L475.7 90.0L485.7 80.0L496.1 70.0L506.7 60.0L517.7 50.0L529.1 40.0Z"/>
<path fill="#58ffec" d="M527.9 40.0L516.5 50.0L505.5 60.0L494.9 70.0L484.5 80.0L474.5 90.0L464.7 100.0L455.2 110.0L445.9 120.0L436.9 130.0L428.1 140.0L419.5 150.0L411.2 160.0L403.0 170.0L395.0 180.0L387.2 190.0L379.5 200.0L372.1 210.0L364.7 220.0L357.5 230.0L350.5 240.0L343.6 250.0L336.8 260.0L330.1 270.0L323.6 280.0L317.2 290.0L310.8 300.0L304.6 310.0L298.5 320.0L292.5 330.0L286.6 340.0L280.7 350.0L275.0 360.0L269.3 370.0L263.7 380.0L258.2 390.0L252.7 400.0L247.3 410.0L242.0 420.0L236.8 430.0L231.6 440.0L226.5 450.0L221.4 460.0L216.4 470.0L211.4 480.0L206.5 490.0L201.6 500.0L206.3 500.0L211.1 490.0L216.0 480.0L221.0 470.0L226.0 460.0L231.1 450.0L236.2 440.0L241.4 430.0L246.6 420.0L252.0 410.0L257.3 400.0L262.8 390.0L268.3 380.0L273.9 370.0L279.6 360.0L285.3 350.0L291.2 340.0L297.1 330.0L303.1 320.0L309.3 310.0L315.5 300.0L321.8 290.0L328.2 280.0L334.8 270.0L341.4 260.0L348.2 250.0L355.1 240.0L362.2 230.0L369.3 220.0L376.7 210.0L384.2 200.0L391.8 190.0L399.6 180.0L407.6 170.0L415.8 160.0L424.2 150.0L432.7 140.0L441.5 130.0L450.5 120.0L459.8 110.0L469.3 100.0L479.1 90.0L489.1 80.0L499.5 70.0L510.2 60.0L521.2 50.0L532.5 40.0Z"/>
<path fill="#50fff2" d="M531.3 40.0L520.0 50.0L509.0 60.0L498.3 70.0L487.9 80.0L477.9 90.0L468.1 100.0L458.6 110.0L449.3 120.0L440.3 130.0L431.5 140.0L423.0 150.0L414.6 160.0L406.4 170.0L398.4 180.0L390.6 190.0L383.0 200.0L375.5 210.0L368.1 220.0L361.0 230.0L353.9 240.0L347.0 250.0L340.2 260.0L333.6 270.0L327.0 280.0L320.6 290.0L314.3 300.0L308.1 310.0L301.9 320.0L295.9 330.0L290.0 340.0L284.1 350.0L278.4 360.0L272.7 370.0L267.1 380.0L261.6 390.0L256.1 400.0L250.8 410.0L245.4 420.0L240.2 430.0L235.0 440.0L229.9 450.0L224.8 460.0L219.8 470.0L214.8 480.0L209.9 490.0L205.1 500.0L209.7 500.0L214.5 490.0L219.5 480.0L224.4 470.0L229.4 460.0L234.5 450.0L239.6 440.0L244.8 430.0L250.1 420.0L255.4 410.0L260.8 400.0L266.2 390.0L271.7 380.0L277.3 370.0L283.0 360.0L288.8 350.0L294.6 340.0L300.5 330.0L306.6 320.0L312.7 310.0L318.9 300.0L325.2 290.0L331.6 280.0L338.2 270.0L344.8 260.0L351.6 250.0L358.5 240.0L365.6 230.0L372.8 220.0L380.1 210.0L387.6 200.0L395.2 190.0L403.0 180.0L411.0 170.0L419.2 160.0L427.6 150.0L436.2 140.0L444.9 130.0L454.0 120.0L463.2 110.0L472.7 100.0L482.5 90.0L492.6 80.0L502.9 70.0L513.6 60.0L524.6 50.0L535.9 40.0Z"/>
<path fill="#48fff9" d="M534.7 40.0L523.4 50.0L512.4 60.0L501.7 70.0L491.4 80.0L481.3 90.0L471.5 100.0L462.0 110.0L452.8 120.0L443.7 130.0L435.0 140.0L426.4 150.0L418.0 160.0L409.8 170.0L401.8 180.0L394.0 190.0L386.4 200.0L378.9 210.0L371.6 220.0L364.4 230.0L357.3 240.0L350.4 250.0L343.6 260.0L337.0 270.0L330.4 280.0L324.0 290.0L317.7 300.0L311.5 310.0L305.4 320.0L299.3 330.0L293.4 340.0L287.6 350.0L281.8 360.0L276.1 370.0L270.5 380.0L265.0 390.0L259.6 400.0L254.2 410.0L248.9 420.0L243.6 430.0L238.4 440.0L233.3 450.0L228.2 460.0L223.2 470.0L218.3 480.0L213.3 490.0L208.5 500.0L213.1 500.0L218.0 490.0L222.9 480.0L227.8 470.0L232.9 460.0L237.9 450.0L243.1 440.0L248.2 430.0L253.5 420.0L258.8 410.0L264.2 400.0L269.6 390.0L275.2 380.0L280.8 370.0L286.4 360.0L292.2 350.0L298.0 340.0L304.0 330.0L310.0 320.0L316.1 310.0L322.3 300.0L328.6 290.0L335.1 280.0L341.6 270.0L348.3 260.0L355.0 250.0L362.0 240.0L369.0 230.0L376.2 220.0L383.5 210.0L391.0 200.0L398.7 190.0L406.5 180.0L414.5 170.0L422.6 160.0L431.0 150.0L439.6 140.0L448.4 130.0L457.4 120.0L466.6 110.0L476.2 100.0L485.9 90.0L496.0 80.0L506.3 70.0L517.0 60.0L528.0 50.0L539.4 40.0Z"/>
<path fill="#40ffff" d="M538.2 40.0L526.8 50.0L515.8 60.0L505.1 70.0L494.8 80.0L484.7 90.0L475.0 100.0L465.4 110.0L456.2 120.0L447.2 130.0L438.4 140.0L429.8 150.0L421.4 160.0L413.3 170.0L405.3 180.0L397.5 190.0L389.8 200.0L382.3 210.0L375.0 220.0L367.8 230.0L360.8 240.0L353.8 250.0L347.1 260.0L340.4 270.0L333.9 280.0L327.4 290.0L321.1 300.0L314.9 310.0L308.8 320.0L302.8 330.0L296.8 340.0L291.0 350.0L285.2 360.0L279.6 370.0L274.0 380.0L268.4 390.0L263.0 400.0L257.6 410.0L252.3 420.0L247.0 430.0L241.9 440.0L236.7 450.0L231.7 460.0L226.6 470.0L221.7 480.0L216.8 490.0L211.9 500.0L216.5 500.0L221.4 490.0L226.3 480.0L231.3 470.0L236.3 460.0L241.4 450.0L246.5 440.0L251.7 430.0L256.9 420.0L262.2 410.0L267.6 400.0L273.1 390.0L278.6 380.0L284.2 370.0L289.9 360.0L295.6 350.0L301.5 340.0L307.4 330.0L313.4 320.0L319.5 310.0L325.7 300.0L332.1 290.0L338.5 280.0L345.0 270.0L351.7 260.0L358.5 250.0L365.4 240.0L372.4 230.0L379.6 220.0L386.9 210.0L394.4 200.0L402.1 190.0L409.9 180.0L417.9 170.0L426.1 160.0L434.4 150.0L443.0 140.0L451.8 130.0L460.8 120.0L470.1 110.0L479.6 100.0L489.3 90.0L499.4 80.0L509.8 70.0L520.4 60.0L531.4 50.0L542.8 40.0Z"/>
<path fill="#42f8ff" d="M541.6 40.0L530.2 50.0L519.2 60.0L508.6 70.0L498.2 80.0L488.1 90.0L478.4 100.0L468.9 110.0L459.6 120.0L450.6 130.0L441.8 140.0L433.2 150.0L424.9 160.0L416.7 170.0L408.7 180.0L400.9 190.0L393.2 200.0L385.7 210.0L378.4 220.0L371.2 230.0L364.2 240.0L357.3 250.0L350.5 260.0L343.8 270.0L337.3 280.0L330.9 290.0L324.5 300.0L318.3 310.0L312.2 320.0L306.2 330.0L300.3 340.0L294.4 350.0L288.7 360.0L283.0 370.0L277.4 380.0L271.9 390.0L266.4 400.0L261.0 410.0L255.7 420.0L250.5 430.0L245.3 440.0L240.2 450.0L235.1 460.0L230.1 470.0L225.1 480.0L220.2 490.0L215.3 500.0L219.9 500.0L224.8 490.0L229.7 480.0L234.7 470.0L239.7 460.0L244.8 450.0L249.9 440.0L255.1 430.0L260.3 420.0L265.7 410.0L271.0 400.0L276.5 390.0L282.0 380.0L287.6 370.0L293.3 360.0L299.0 350.0L304.9 340.0L310.8 330.0L316.8 320.0L322.9 310.0L329.2 300.0L335.5 290.0L341.9 280.0L348.5 270.0L355.1 260.0L361.9 250.0L368.8 240.0L375.9 230.0L383.0 220.0L390.4 210.0L397.9 200.0L405.5 190.0L413.3 180.0L421.3 170.0L429.5 160.0L437.9 150.0L446.4 140.0L455.2 130.0L464.2 120.0L473.5 110.0L483.0 100.0L492.8 90.0L502.8 80.0L513.2 70.0L523.8 60.0L534.8 50.0L546.2 40.0Z"/>
<path fill="#43f1ff" d="M545.0 40.0L533.6 50.0L522.6 60.0L512.0 70.0L501.6 80.0L491.6 90.0L481.8 100.0L472.3 110.0L463.0 120.0L454.0 130.0L445.2 140.0L436.7 150.0L428.3 160.0L420.1 170.0L412.1 180.0L404.3 190.0L396.7 200.0L389.2 210.0L381.8 220.0L374.7 230.0L367.6 240.0L360.7 250.0L353.9 260.0L347.3 270.0L340.7 280.0L334.3 290.0L328.0 300.0L321.7 310.0L315.6 320.0L309.6 330.0L303.7 340.0L297.8 350.0L292.1 360.0L286.4 370.0L280.8 380.0L275.3 390.0L269.8 400.0L264.5 410.0L259.1 420.0L253.9 430.0L248.7 440.0L243.6 450.0L238.5 460.0L233.5 470.0L228.5 480.0L223.6 490.0L218.7 500.0L223.4 500.0L228.2 490.0L233.1 480.0L238.1 470.0L243.1 460.0L248.2 450.0L253.3 440.0L258.5 430.0L263.8 420.0L269.1 410.0L274.5 400.0L279.9 390.0L285.4 380.0L291.0 370.0L296.7 360.0L302.5 350.0L308.3 340.0L314.2 330.0L320.3 320.0L326.4 310.0L332.6 300.0L338.9 290.0L345.3 280.0L351.9 270.0L358.5 260.0L365.3 250.0L372.2 240.0L379.3 230.0L386.5 220.0L393.8 210.0L401.3 200.0L408.9 190.0L416.7 180.0L424.7 170.0L432.9 160.0L441.3 150.0L449.9 140.0L458.6 130.0L467.7 120.0L476.9 110.0L486.4 100.0L496.2 90.0L506.2 80.0L516.6 70.0L527.3 60.0L538.3 50.0L549.6 40.0Z"/>
<path fill="#45eaff" d="M548.4 40.0L537.1 50.0L526.1 60.0L515.4 70.0L505.0 80.0L495.0 90.0L485.2 100.0L475.7 110.0L466.5 120.0L457.4 130.0L448.7 140.0L440.1 150.0L431.7 160.0L423.5 170.0L415.5 180.0L407.7 190.0L400.1 200.0L392.6 210.0L385.3 220.0L378.1 230.0L371.0 240.0L364.1 250.0L357.3 260.0L350.7 270.0L344.1 280.0L337.7 290.0L331.4 300.0L325.2 310.0L319.1 320.0L313.0 330.0L307.1 340.0L301.3 350.0L295.5 360.0L289.8 370.0L284.2 380.0L278.7 390.0L273.3 400.0L267.9 410.0L262.6 420.0L257.3 430.0L252.1 440.0L247.0 450.0L241.9 460.0L236.9 470.0L231.9 480.0L227.0 490.0L222.2 500.0L226.8 500.0L231.7 490.0L236.6 480.0L241.5 470.0L246.6 460.0L251.6 450.0L256.8 440.0L261.9 430.0L267.2 420.0L272.5 410.0L277.9 400.0L283.3 390.0L288.9 380.0L294.5 370.0L300.1 360.0L305.9 350.0L311.7 340.0L317.7 330.0L323.7 320.0L329.8 310.0L336.0 300.0L342.3 290.0L348.8 280.0L355.3 270.0L362.0 260.0L368.7 250.0L375.7 240.0L382.7 230.0L389.9 220.0L397.2 210.0L404.7 200.0L412.3 190.0L420.2 180.0L428.2 170.0L436.3 160.0L444.7 150.0L453.3 140.0L462.1 130.0L471.1 120.0L480.3 110.0L489.8 100.0L499.6 90.0L509.7 80.0L520.0 70.0L530.7 60.0L541.7 50.0L553.1 40.0Z"/>
<path fill="#47e4ff" d="M551.9 40.0L540.5 50.0L529.5 60.0L518.8 70.0L508.5 80.0L498.4 90.0L488.6 100.0L479.1 110.0L469.9 120.0L460.9 130.0L452.1 140.0L443.5 150.0L435.1 160.0L427.0 170.0L419.0 180.0L411.1 190.0L403.5 200.0L396.0 210.0L388.7 220.0L381.5 230.0L374.5 240.0L367.5 250.0L360.8 260.0L354.1 270.0L347.6 280.0L341.1 290.0L334.8 300.0L328.6 310.0L322.5 320.0L316.5 330.0L310.5 340.0L304.7 350.0L298.9 360.0L293.3 370.0L287.7 380.0L282.1 390.0L276.7 400.0L271.3 410.0L266.0 420.0L260.7 430.0L255.6 440.0L250.4 450.0L245.4 460.0L240.3 470.0L235.4 480.0L230.5 490.0L225.6 500.0L230.2 500.0L235.1 490.0L240.0 480.0L245.0 470.0L250.0 460.0L255.0 450.0L260.2 440.0L265.4 430.0L270.6 420.0L275.9 410.0L281.3 400.0L286.8 390.0L292.3 380.0L297.9 370.0L303.6 360.0L309.3 350.0L315.1 340.0L321.1 330.0L327.1 320.0L333.2 310.0L339.4 300.0L345.8 290.0L352.2 280.0L358.7 270.0L365.4 260.0L372.2 250.0L379.1 240.0L386.1 230.0L393.3 220.0L400.6 210.0L408.1 200.0L415.8 190.0L423.6 180.0L431.6 170.0L439.8 160.0L448.1 150.0L456.7 140.0L465.5 130.0L474.5 120.0L483.8 110.0L493.3 100.0L503.0 90.0L513.1 80.0L523.4 70.0L534.1 60.0L545.1 50.0L556.5 40.0Z"/>
<path fill="#48ddff" d="M555.3 40.0L543.9 50.0L532.9 60.0L522.2 70.0L511.9 80.0L501.8 90.0L492.1 100.0L482.6 110.0L473.3 120.0L464.3 130.0L455.5 140.0L446.9 150.0L438.6 160.0L430.4 170.0L422.4 180.0L414.6 190.0L406.9 200.0L399.4 210.0L392.1 220.0L384.9 230.0L377.9 240.0L371.0 250.0L364.2 260.0L357.5 270.0L351.0 280.0L344.6 290.0L338.2 300.0L332.0 310.0L325.9 320.0L319.9 330.0L313.9 340.0L308.1 350.0L302.4 360.0L296.7 370.0L291.1 380.0L285.6 390.0L280.1 400.0L274.7 410.0L269.4 420.0L264.2 430.0L259.0 440.0L253.8 450.0L248.8 460.0L243.8 470.0L238.8 480.0L233.9 490.0L229.0 500.0L233.6 500.0L238.5 490.0L243.4 480.0L248.4 470.0L253.4 460.0L258.5 450.0L263.6 440.0L268.8 430.0L274.0 420.0L279.3 410.0L284.7 400.0L290.2 390.0L295.7 380.0L301.3 370.0L307.0 360.0L312.7 350.0L318.6 340.0L324.5 330.0L330.5 320.0L336.6 310.0L342.9 300.0L349.2 290.0L355.6 280.0L362.1 270.0L368.8 260.0L375.6 250.0L382.5 240.0L389.5 230.0L396.7 220.0L404.1 210.0L411.5 200.0L419.2 190.0L427.0 180.0L435.0 170.0L443.2 160.0L451.5 150.0L460.1 140.0L468.9 130.0L477.9 120.0L487.2 110.0L496.7 100.0L506.5 90.0L516.5 80.0L526.9 70.0L537.5 60.0L548.5 50.0L559.9 40.0Z"/>
<path fill="#4ad6ff" d="M558.7 40.0L547.3 50.0L536.3 60.0L525.7 70.0L515.3 80.0L505.3 90.0L495.5 100.0L486.0 110.0L476.7 120.0L467.7 130.0L458.9 140.0L450.3 150.0L442.0 160.0L433.8 170.0L425.8 180.0L418.0 190.0L410.3 200.0L402.9 210.0L395.5 220.0L388.3 230.0L381.3 240.0L374.4 250.0L367.6 260.0L360.9 270.0L354.4 280.0L348.0 290.0L341.7 300.0L335.4 310.0L329.3 320.0L323.3 330.0L317.4 340.0L311.5 350.0L305.8 360.0L300.1 370.0L294.5 380.0L289.0 390.0L283.5 400.0L278.1 410.0L272.8 420.0L267.6 430.0L262.4 440.0L257.3 450.0L252.2 460.0L247.2 470.0L242.2 480.0L237.3 490.0L232.4 500.0L237.1 500.0L241.9 490.0L246.8 480.0L251.8 470.0L256.8 460.0L261.9 450.0L267.0 440.0L272.2 430.0L277.5 420.0L282.8 410.0L288.2 400.0L293.6 390.0L299.1 380.0L304.7 370.0L310.4 360.0L316.2 350.0L322.0 340.0L327.9 330.0L333.9 320.0L340.1 310.0L346.3 300.0L352.6 290.0L359.0 280.0L365.6 270.0L372.2 260.0L379.0 250.0L385.9 240.0L393.0 230.0L400.2 220.0L407.5 210.0L415.0 200.0L422.6 190.0L430.4 180.0L438.4 170.0L446.6 160.0L455.0 150.0L463.5 140.0L472.3 130.0L481.4 120.0L490.6 110.0L500.1 100.0L509.9 90.0L519.9 80.0L530.3 70.0L541.0 60.0L552.0 50.0L563.3 40.0Z"/>
<path fill="#4ccfff" d="M562.1 40.0L550.8 50.0L539.8 60.0L529.1 70.0L518.7 80.0L508.7 90.0L498.9 100.0L489.4 110.0L480.2 120.0L471.1 130.0L462.3 140.0L453.8 150.0L445.4 160.0L437.2 170.0L429.2 180.0L421.4 190.0L413.8 200.0L406.3 210.0L399.0 220.0L391.8 230.0L384.7 240.0L377.8 250.0L371.0 260.0L364.4 270.0L357.8 280.0L351.4 290.0L345.1 300.0L338.9 310.0L332.7 320.0L326.7 330.0L320.8 340.0L315.0 350.0L309.2 360.0L303.5 370.0L297.9 380.0L292.4 390.0L287.0 400.0L281.6 410.0L276.3 420.0L271.0 430.0L265.8 440.0L260.7 450.0L255.6 460.0L250.6 470.0L245.6 480.0L240.7 490.0L235.9 500.0L240.5 500.0L245.4 490.0L250.3 480.0L255.2 470.0L260.2 460.0L265.3 450.0L270.4 440.0L275.6 430.0L280.9 420.0L286.2 410.0L291.6 400.0L297.0 390.0L302.5 380.0L308.1 370.0L313.8 360.0L319.6 350.0L325.4 340.0L331.3 330.0L337.4 320.0L343.5 310.0L349.7 300.0L356.0 290.0L362.5 280.0L369.0 270.0L375.7 260.0L382.4 250.0L389.3 240.0L396.4 230.0L403.6 220.0L410.9 210.0L418.4 200.0L426.0 190.0L433.9 180.0L441.8 170.0L450.0 160.0L458.4 150.0L467.0 140.0L475.8 130.0L484.8 120.0L494.0 110.0L503.5 100.0L513.3 90.0L523.4 80.0L533.7 70.0L544.4 60.0L555.4 50.0L566.7 40.0Z"/>
<path fill="#4dc9ff" d="M565.5 40.0L554.2 50.0L543.2 60.0L532.5 70.0L522.2 80.0L512.1 90.0L502.3 100.0L492.8 110.0L483.6 120.0L474.6 130.0L465.8 140.0L457.2 150.0L448.8 160.0L440.6 170.0L432.7 180.0L424.8 190.0L417.2 200.0L409.7 210.0L402.4 220.0L395.2 230.0L388.1 240.0L381.2 250.0L374.5 260.0L367.8 270.0L361.3 280.0L354.8 290.0L348.5 300.0L342.3 310.0L336.2 320.0L330.1 330.0L324.2 340.0L318.4 350.0L312.6 360.0L306.9 370.0L301.3 380.0L295.8 390.0L290.4 400.0L285.0 410.0L279.7 420.0L274.4 430.0L269.2 440.0L264.1 450.0L259.0 460.0L254.0 470.0L249.1 480.0L244.2 490.0L239.3 500.0L243.9 500.0L248.8 490.0L253.7 480.0L258.7 470.0L263.7 460.0L268.7 450.0L273.9 440.0L279.1 430.0L284.3 420.0L289.6 410.0L295.0 400.0L300.4 390.0L306.0 380.0L311.6 370.0L317.2 360.0L323.0 350.0L328.8 340.0L334.8 330.0L340.8 320.0L346.9 310.0L353.1 300.0L359.4 290.0L365.9 280.0L372.4 270.0L379.1 260.0L385.9 250.0L392.8 240.0L399.8 230.0L407.0 220.0L414.3 210.0L421.8 200.0L429.5 190.0L437.3 180.0L445.3 170.0L453.4 160.0L461.8 150.0L470.4 140.0L479.2 130.0L488.2 120.0L497.5 110.0L507.0 100.0L516.7 90.0L526.8 80.0L537.1 70.0L547.8 60.0L558.8 50.0L570.2 40.0Z"/>
<path fill="#4fc2ff" d="M569.0 40.0L557.6 50.0L546.6 60.0L535.9 70.0L525.6 80.0L515.5 90.0L505.8 100.0L496.3 110.0L487.0 120.0L478.0 130.0L469.2 140.0L460.6 150.0L452.2 160.0L444.1 170.0L436.1 180.0L428.3 190.0L420.6 200.0L413.1 210.0L405.8 220.0L398.6 230.0L391.6 240.0L384.7 250.0L377.9 260.0L371.2 270.0L364.7 280.0L358.2 290.0L351.9 300.0L345.7 310.0L339.6 320.0L333.6 330.0L327.6 340.0L321.8 350.0L316.0 360.0L310.4 370.0L304.8 380.0L299.2 390.0L293.8 400.0L288.4 410.0L283.1 420.0L277.9 430.0L272.7 440.0L267.5 450.0L262.5 460.0L257.5 470.0L252.5 480.0L247.6 490.0L242.7 500.0L247.3 500.0L252.2 490.0L257.1 480.0L262.1 470.0L267.1 460.0L272.2 450.0L277.3 440.0L282.5 430.0L287.7 420.0L293.0 410.0L298.4 400.0L303.9 390.0L309.4 380.0L315.0 370.0L320.7 360.0L326.4 350.0L332.3 340.0L338.2 330.0L344.2 320.0L350.3 310.0L356.6 300.0L362.9 290.0L369.3 280.0L375.8 270.0L382.5 260.0L389.3 250.0L396.2 240.0L403.2 230.0L410.4 220.0L417.8 210.0L425.2 200.0L432.9 190.0L440.7 180.0L448.7 170.0L456.9 160.0L465.2 150.0L473.8 140.0L482.6 130.0L491.6 120.0L500.9 110.0L510.4 100.0L520.2 90.0L530.2 80.0L540.6 70.0L551.2 60.0L562.2 50.0L573.6 40.0Z"/>
<path fill="#51bbff" d="M572.4 40.0L561.0 50.0L550.0 60.0L539.4 70.0L529.0 80.0L519.0 90.0L509.2 100.0L499.7 110.0L490.4 120.0L481.4 130.0L472.6 140.0L464.0 150.0L455.7 160.0L447.5 170.0L439.5 180.0L431.7 190.0L424.0 200.0L416.6 210.0L409.2 220.0L402.0 230.0L395.0 240.0L388.1 250.0L381.3 260.0L374.6 270.0L368.1 280.0L361.7 290.0L355.4 300.0L349.1 310.0L343.0 320.0L337.0 330.0L331.1 340.0L325.2 350.0L319.5 360.0L313.8 370.0L308.2 380.0L302.7 390.0L297.2 400.0L291.8 410.0L286.5 420.0L281.3 430.0L276.1 440.0L271.0 450.0L265.9 460.0L260.9 470.0L255.9 480.0L251.0 490.0L246.1 500.0L250.8 500.0L255.6 490.0L260.5 480.0L265.5 470.0L270.5 460.0L275.6 450.0L280.7 440.0L285.9 430.0L291.2 420.0L296.5 410.0L301.8 400.0L307.3 390.0L312.8 380.0L318.4 370.0L324.1 360.0L329.8 350.0L335.7 340.0L341.6 330.0L347.6 320.0L353.8 310.0L360.0 300.0L366.3 290.0L372.7 280.0L379.3 270.0L385.9 260.0L392.7 250.0L399.6 240.0L406.7 230.0L413.8 220.0L421.2 210.0L428.7 200.0L436.3 190.0L444.1 180.0L452.1 170.0L460.3 160.0L468.7 150.0L477.2 140.0L486.0 130.0L495.0 120.0L504.3 110.0L513.8 100.0L523.6 90.0L533.6 80.0L544.0 70.0L554.7 60.0L565.7 50.0L577.0 40.0Z"/>
<path fill="#52b4ff" d="M575.8 40.0L564.5 50.0L553.5 60.0L542.8 70.0L532.4 80.0L522.4 90.0L512.6 100.0L503.1 110.0L493.8 120.0L484.8 130.0L476.0 140.0L467.5 150.0L459.1 160.0L450.9 170.0L442.9 180.0L435.1 190.0L427.5 200.0L420.0 210.0L412.6 220.0L405.5 230.0L398.4 240.0L391.5 250.0L384.7 260.0L378.1 270.0L371.5 280.0L365.1 290.0L358.8 300.0L352.6 310.0L346.4 320.0L340.4 330.0L334.5 340.0L328.6 350.0L322.9 360.0L317.2 370.0L311.6 380.0L306.1 390.0L300.6 400.0L295.3 410.0L290.0 420.0L284.7 430.0L279.5 440.0L274.4 450.0L269.3 460.0L264.3 470.0L259.3 480.0L254.4 490.0L249.6 500.0L254.2 500.0L259.0 490.0L264.0 480.0L268.9 470.0L273.9 460.0L279.0 450.0L284.1 440.0L289.3 430.0L294.6 420.0L299.9 410.0L305.3 400.0L310.7 390.0L316.2 380.0L321.8 370.0L327.5 360.0L333.3 350.0L339.1 340.0L345.0 330.0L351.1 320.0L357.2 310.0L363.4 300.0L369.7 290.0L376.1 280.0L382.7 270.0L389.3 260.0L396.1 250.0L403.0 240.0L410.1 230.0L417.3 220.0L424.6 210.0L432.1 200.0L439.7 190.0L447.5 180.0L455.5 170.0L463.7 160.0L472.1 150.0L480.7 140.0L489.5 130.0L498.5 120.0L507.7 110.0L517.2 100.0L527.0 90.0L537.1 80.0L547.4 70.0L558.1 60.0L569.1 50.0L580.4 40.0Z"/>
<path fill="#54aeff" d="M579.2 40.0L567.9 50.0L556.9 60.0L546.2 70.0L535.9 80.0L525.8 90.0L516.0 100.0L506.5 110.0L497.3 120.0L488.3 130.0L479.5 140.0L470.9 150.0L462.5 160.0L454.3 170.0L446.3 180.0L438.5 190.0L430.9 200.0L423.4 210.0L416.1 220.0L408.9 230.0L401.8 240.0L394.9 250.0L388.1 260.0L381.5 270.0L374.9 280.0L368.5 290.0L362.2 300.0L356.0 310.0L349.9 320.0L343.8 330.0L337.9 340.0L332.1 350.0L326.3 360.0L320.6 370.0L315.0 380.0L309.5 390.0L304.1 400.0L298.7 410.0L293.4 420.0L288.1 430.0L282.9 440.0L277.8 450.0L272.7 460.0L267.7 470.0L262.8 480.0L257.8 490.0L253.0 500.0L257.6 500.0L262.5 490.0L267.4 480.0L272.3 470.0L277.4 460.0L282.4 450.0L287.6 440.0L292.7 430.0L298.0 420.0L303.3 410.0L308.7 400.0L314.1 390.0L319.7 380.0L325.3 370.0L330.9 360.0L336.7 350.0L342.5 340.0L348.5 330.0L354.5 320.0L360.6 310.0L366.8 300.0L373.1 290.0L379.6 280.0L386.1 270.0L392.8 260.0L399.6 250.0L406.5 240.0L413.5 230.0L420.7 220.0L428.0 210.0L435.5 200.0L443.2 190.0L451.0 180.0L459.0 170.0L467.1 160.0L475.5 150.0L484.1 140.0L492.9 130.0L501.9 120.0L511.1 110.0L520.7 100.0L530.4 90.0L540.5 80.0L550.8 70.0L561.5 60.0L572.5 50.0L583.9 40.0Z"/>
<path fill="#54a8fe" d="M582.7 40.0L571.3 50.0L560.3 60.0L549.6 70.0L539.3 80.0L529.2 90.0L519.5 100.0L509.9 110.0L500.7 120.0L491.7 130.0L482.9 140.0L474.3 150.0L465.9 160.0L457.8 170.0L449.8 180.0L442.0 190.0L434.3 200.0L426.8 210.0L419.5 220.0L412.3 230.0L405.3 240.0L398.4 250.0L391.6 260.0L384.9 270.0L378.4 280.0L371.9 290.0L365.6 300.0L359.4 310.0L353.3 320.0L347.3 330.0L341.3 340.0L335.5 350.0L329.7 360.0L324.1 370.0L318.5 380.0L312.9 390.0L307.5 400.0L302.1 410.0L296.8 420.0L291.5 430.0L286.4 440.0L281.2 450.0L276.2 460.0L271.1 470.0L266.2 480.0L261.3 490.0L256.4 500.0L261.0 500.0L265.9 490.0L270.8 480.0L275.8 470.0L280.8 460.0L285.9 450.0L291.0 440.0L296.2 430.0L301.4 420.0L306.7 410.0L312.1 400.0L317.6 390.0L323.1 380.0L328.7 370.0L334.4 360.0L340.1 350.0L346.0 340.0L351.9 330.0L357.9 320.0L364.0 310.0L370.2 300.0L376.6 290.0L383.0 280.0L389.5 270.0L396.2 260.0L403.0 250.0L409.9 240.0L416.9 230.0L424.1 220.0L431.4 210.0L438.9 200.0L446.6 190.0L454.4 180.0L462.4 170.0L470.6 160.0L478.9 150.0L487.5 140.0L496.3 130.0L505.3 120.0L514.6 110.0L524.1 100.0L533.9 90.0L543.9 80.0L554.3 70.0L564.9 60.0L575.9 50.0L587.3 40.0Z"/>
<path fill="#53a2fd" d="M586.1 40.0L574.7 50.0L563.7 60.0L553.1 70.0L542.7 80.0L532.7 90.0L522.9 100.0L513.4 110.0L504.1 120.0L495.1 130.0L486.3 140.0L477.7 150.0L469.4 160.0L461.2 170.0L453.2 180.0L445.4 190.0L437.7 200.0L430.2 210.0L422.9 220.0L415.7 230.0L408.7 240.0L401.8 250.0L395.0 260.0L388.3 270.0L381.8 280.0L375.4 290.0L369.0 300.0L362.8 310.0L356.7 320.0L350.7 330.0L344.8 340.0L338.9 350.0L333.2 360.0L327.5 370.0L321.9 380.0L316.4 390.0L310.9 400.0L305.5 410.0L300.2 420.0L295.0 430.0L289.8 440.0L284.7 450.0L279.6 460.0L274.6 470.0L269.6 480.0L264.7 490.0L259.8 500.0L264.4 500.0L269.3 490.0L274.2 480.0L279.2 470.0L284.2 460.0L289.3 450.0L294.4 440.0L299.6 430.0L304.8 420.0L310.2 410.0L315.5 400.0L321.0 390.0L326.5 380.0L332.1 370.0L337.8 360.0L343.5 350.0L349.4 340.0L355.3 330.0L361.3 320.0L367.4 310.0L373.7 300.0L380.0 290.0L386.4 280.0L393.0 270.0L399.6 260.0L406.4 250.0L413.3 240.0L420.4 230.0L427.5 220.0L434.9 210.0L442.4 200.0L450.0 190.0L457.8 180.0L465.8 170.0L474.0 160.0L482.4 150.0L490.9 140.0L499.7 130.0L508.7 120.0L518.0 110.0L527.5 100.0L537.3 90.0L547.3 80.0L557.7 70.0L568.3 60.0L579.4 50.0L590.7 40.0Z"/>
<path fill="#519dfc" d="M589.5 40.0L578.2 50.0L567.1 60.0L556.5 70.0L546.1 80.0L536.1 90.0L526.3 100.0L516.8 110.0L507.5 120.0L498.5 130.0L489.7 140.0L481.2 150.0L472.8 160.0L464.6 170.0L456.6 180.0L448.8 190.0L441.2 200.0L433.7 210.0L426.3 220.0L419.2 230.0L412.1 240.0L405.2 250.0L398.4 260.0L391.8 270.0L385.2 280.0L378.8 290.0L372.5 300.0L366.2 310.0L360.1 320.0L354.1 330.0L348.2 340.0L342.3 350.0L336.6 360.0L330.9 370.0L325.3 380.0L319.8 390.0L314.3 400.0L309.0 410.0L303.6 420.0L298.4 430.0L293.2 440.0L288.1 450.0L283.0 460.0L278.0 470.0L273.0 480.0L268.1 490.0L263.2 500.0L267.9 500.0L272.7 490.0L277.7 480.0L282.6 470.0L287.6 460.0L292.7 450.0L297.8 440.0L303.0 430.0L308.3 420.0L313.6 410.0L319.0 400.0L324.4 390.0L329.9 380.0L335.5 370.0L341.2 360.0L347.0 350.0L352.8 340.0L358.7 330.0L364.8 320.0L370.9 310.0L377.1 300.0L383.4 290.0L389.8 280.0L396.4 270.0L403.0 260.0L409.8 250.0L416.7 240.0L423.8 230.0L431.0 220.0L438.3 210.0L445.8 200.0L453.4 190.0L461.2 180.0L469.2 170.0L477.4 160.0L485.8 150.0L494.4 140.0L503.1 130.0L512.2 120.0L521.4 110.0L530.9 100.0L540.7 90.0L550.8 80.0L561.1 70.0L571.8 60.0L582.8 50.0L594.1 40.0Z"/>
<path fill="#4f98fb" d="M592.9 40.0L581.6 50.0L570.6 60.0L559.9 70.0L549.6 80.0L539.5 90.0L529.7 100.0L520.2 110.0L511.0 120.0L501.9 130.0L493.2 140.0L484.6 150.0L476.2 160.0L468.0 170.0L460.0 180.0L452.2 190.0L444.6 200.0L437.1 210.0L429.8 220.0L422.6 230.0L415.5 240.0L408.6 250.0L401.8 260.0L395.2 270.0L388.6 280.0L382.2 290.0L375.9 300.0L369.7 310.0L363.6 320.0L357.5 330.0L351.6 340.0L345.8 350.0L340.0 360.0L334.3 370.0L328.7 380.0L323.2 390.0L317.8 400.0L312.4 410.0L307.1 420.0L301.8 430.0L296.6 440.0L291.5 450.0L286.4 460.0L281.4 470.0L276.5 480.0L271.5 490.0L266.7 500.0L271.3 500.0L276.2 490.0L281.1 480.0L286.0 470.0L291.1 460.0L296.1 450.0L301.3 440.0L306.4 430.0L311.7 420.0L317.0 410.0L322.4 400.0L327.8 390.0L333.4 380.0L339.0 370.0L344.6 360.0L350.4 350.0L356.2 340.0L362.2 330.0L368.2 320.0L374.3 310.0L380.5 300.0L386.8 290.0L393.3 280.0L399.8 270.0L406.5 260.0L413.2 250.0L420.2 240.0L427.2 230.0L434.4 220.0L441.7 210.0L449.2 200.0L456.8 190.0L464.7 180.0L472.7 170.0L480.8 160.0L489.2 150.0L497.8 140.0L506.6 130.0L515.6 120.0L524.8 110.0L534.3 100.0L544.1 90.0L554.2 80.0L564.5 70.0L575.2 60.0L586.2 50.0L597.6 40.0Z"/>
<path fill="#4e93fa" d="M596.4 40.0L585.0 50.0L574.0 60.0L563.3 70.0L553.0 80.0L542.9 90.0L533.1 100.0L523.6 110.0L514.4 120.0L505.4 130.0L496.6 140.0L488.0 150.0L479.6 160.0L471.5 170.0L463.5 180.0L455.6 190.0L448.0 200.0L440.5 210.0L433.2 220.0L426.0 230.0L419.0 240.0L412.0 250.0L405.3 260.0L398.6 270.0L392.1 280.0L385.6 290.0L379.3 300.0L373.1 310.0L367.0 320.0L361.0 330.0L355.0 340.0L349.2 350.0L343.4 360.0L337.8 370.0L332.2 380.0L326.6 390.0L321.2 400.0L315.8 410.0L310.5 420.0L305.2 430.0L300.1 440.0L294.9 450.0L289.9 460.0L284.8 470.0L279.9 480.0L275.0 490.0L270.1 500.0L274.7 500.0L279.6 490.0L284.5 480.0L289.5 470.0L294.5 460.0L299.5 450.0L304.7 440.0L309.9 430.0L315.1 420.0L320.4 410.0L325.8 400.0L331.3 390.0L336.8 380.0L342.4 370.0L348.1 360.0L353.8 350.0L359.7 340.0L365.6 330.0L371.6 320.0L377.7 310.0L383.9 300.0L390.3 290.0L396.7 280.0L403.2 270.0L409.9 260.0L416.7 250.0L423.6 240.0L430.6 230.0L437.8 220.0L445.1 210.0L452.6 200.0L460.3 190.0L468.1 180.0L476.1 170.0L484.3 160.0L492.6 150.0L501.2 140.0L510.0 130.0L519.0 120.0L528.3 110.0L537.8 100.0L547.5 90.0L557.6 80.0L568.0 70.0L578.6 60.0L589.6 50.0L601.0 40.0Z"/>
<path fill="#4c8ef8" d="M599.8 40.0L588.4 50.0L577.4 60.0L566.8 70.0L556.4 80.0L546.3 90.0L536.6 100.0L527.1 110.0L517.8 120.0L508.8 130.0L500.0 140.0L491.4 150.0L483.1 160.0L474.9 170.0L466.9 180.0L459.1 190.0L451.4 200.0L443.9 210.0L436.6 220.0L429.4 230.0L422.4 240.0L415.5 250.0L408.7 260.0L402.0 270.0L395.5 280.0L389.1 290.0L382.7 300.0L376.5 310.0L370.4 320.0L364.4 330.0L358.5 340.0L352.6 350.0L346.9 360.0L341.2 370.0L335.6 380.0L330.1 390.0L324.6 400.0L319.2 410.0L313.9 420.0L308.7 430.0L303.5 440.0L298.3 450.0L293.3 460.0L288.3 470.0L283.3 480.0L278.4 490.0L273.5 500.0L278.1 500.0L283.0 490.0L287.9 480.0L292.9 470.0L297.9 460.0L303.0 450.0L308.1 440.0L313.3 430.0L318.5 420.0L323.9 410.0L329.2 400.0L334.7 390.0L340.2 380.0L345.8 370.0L351.5 360.0L357.2 350.0L363.1 340.0L369.0 330.0L375.0 320.0L381.1 310.0L387.4 300.0L393.7 290.0L400.1 280.0L406.7 270.0L413.3 260.0L420.1 250.0L427.0 240.0L434.0 230.0L441.2 220.0L448.6 210.0L456.1 200.0L463.7 190.0L471.5 180.0L479.5 170.0L487.7 160.0L496.0 150.0L504.6 140.0L513.4 130.0L522.4 120.0L531.7 110.0L541.2 100.0L551.0 90.0L561.0 80.0L571.4 70.0L582.0 60.0L593.0 50.0L604.4 40.0Z"/>
<path fill="#4b89f7" d="M603.2 40.0L591.8 50.0L580.8 60.0L570.2 70.0L559.8 80.0L549.8 90.0L540.0 100.0L530.5 110.0L521.2 120.0L512.2 130.0L503.4 140.0L494.8 150.0L486.5 160.0L478.3 170.0L470.3 180.0L462.5 190.0L454.9 200.0L447.4 210.0L440.0 220.0L432.8 230.0L425.8 240.0L418.9 250.0L412.1 260.0L405.5 270.0L398.9 280.0L392.5 290.0L386.2 300.0L379.9 310.0L373.8 320.0L367.8 330.0L361.9 340.0L356.0 350.0L350.3 360.0L344.6 370.0L339.0 380.0L333.5 390.0L328.0 400.0L322.7 410.0L317.3 420.0L312.1 430.0L306.9 440.0L301.8 450.0L296.7 460.0L291.7 470.0L286.7 480.0L281.8 490.0L276.9 500.0L281.6 500.0L286.4 490.0L291.3 480.0L296.3 470.0L301.3 460.0L306.4 450.0L311.5 440.0L316.7 430.0L322.0 420.0L327.3 410.0L332.7 400.0L338.1 390.0L343.6 380.0L349.2 370.0L354.9 360.0L360.7 350.0L366.5 340.0L372.4 330.0L378.4 320.0L384.6 310.0L390.8 300.0L397.1 290.0L403.5 280.0L410.1 270.0L416.7 260.0L423.5 250.0L430.4 240.0L437.5 230.0L444.7 220.0L452.0 210.0L459.5 200.0L467.1 190.0L474.9 180.0L482.9 170.0L491.1 160.0L499.5 150.0L508.0 140.0L516.8 130.0L525.9 120.0L535.1 110.0L544.6 100.0L554.4 90.0L564.4 80.0L574.8 70.0L585.5 60.0L596.5 50.0L607.8 40.0Z"/>
<path fill="#4983f6" d="M606.6 40.0L595.3 50.0L584.3 60.0L573.6 70.0L563.2 80.0L553.2 90.0L543.4 100.0L533.9 110.0L524.7 120.0L515.6 130.0L506.8 140.0L498.3 150.0L489.9 160.0L481.7 170.0L473.7 180.0L465.9 190.0L458.3 200.0L450.8 210.0L443.5 220.0L436.3 230.0L429.2 240.0L422.3 250.0L415.5 260.0L408.9 270.0L402.3 280.0L395.9 290.0L389.6 300.0L383.4 310.0L377.2 320.0L371.2 330.0L365.3 340.0L359.5 350.0L353.7 360.0L348.0 370.0L342.4 380.0L336.9 390.0L331.5 400.0L326.1 410.0L320.8 420.0L315.5 430.0L310.3 440.0L305.2 450.0L300.1 460.0L295.1 470.0L290.1 480.0L285.2 490.0L280.4 500.0L285.0 500.0L289.9 490.0L294.8 480.0L299.7 470.0L304.7 460.0L309.8 450.0L314.9 440.0L320.1 430.0L325.4 420.0L330.7 410.0L336.1 400.0L341.5 390.0L347.1 380.0L352.6 370.0L358.3 360.0L364.1 350.0L369.9 340.0L375.9 330.0L381.9 320.0L388.0 310.0L394.2 300.0L400.5 290.0L407.0 280.0L413.5 270.0L420.2 260.0L426.9 250.0L433.8 240.0L440.9 230.0L448.1 220.0L455.4 210.0L462.9 200.0L470.5 190.0L478.4 180.0L486.3 170.0L494.5 160.0L502.9 150.0L511.5 140.0L520.3 130.0L529.3 120.0L538.5 110.0L548.0 100.0L557.8 90.0L567.9 80.0L578.2 70.0L588.9 60.0L599.9 50.0L611.2 40.0Z"/>
<path fill="#487ef5" d="M610.0 40.0L598.7 50.0L587.7 60.0L577.0 70.0L566.7 80.0L556.6 90.0L546.8 100.0L537.3 110.0L528.1 120.0L519.1 130.0L510.3 140.0L501.7 150.0L493.3 160.0L485.1 170.0L477.2 180.0L469.3 190.0L461.7 200.0L454.2 210.0L446.9 220.0L439.7 230.0L432.6 240.0L425.7 250.0L419.0 260.0L412.3 270.0L405.8 280.0L399.3 290.0L393.0 300.0L386.8 310.0L380.7 320.0L374.7 330.0L368.7 340.0L362.9 350.0L357.1 360.0L351.4 370.0L345.9 380.0L340.3 390.0L334.9 400.0L329.5 410.0L324.2 420.0L318.9 430.0L313.7 440.0L308.6 450.0L303.5 460.0L298.5 470.0L293.6 480.0L288.7 490.0L283.8 500.0L288.4 500.0L293.3 490.0L298.2 480.0L303.2 470.0L308.2 460.0L313.2 450.0L318.4 440.0L323.6 430.0L328.8 420.0L334.1 410.0L339.5 400.0L345.0 390.0L350.5 380.0L356.1 370.0L361.7 360.0L367.5 350.0L373.3 340.0L379.3 330.0L385.3 320.0L391.4 310.0L397.6 300.0L404.0 290.0L410.4 280.0L416.9 270.0L423.6 260.0L430.4 250.0L437.3 240.0L444.3 230.0L451.5 220.0L458.8 210.0L466.3 200.0L474.0 190.0L481.8 180.0L489.8 170.0L497.9 160.0L506.3 150.0L514.9 140.0L523.7 130.0L532.7 120.0L542.0 110.0L551.5 100.0L561.2 90.0L571.3 80.0L581.6 70.0L592.3 60.0L603.3 50.0L614.7 40.0Z"/>
<path fill="#4679f4" d="M613.5 40.0L602.1 50.0L591.1 60.0L580.4 70.0L570.1 80.0L560.0 90.0L550.3 100.0L540.8 110.0L531.5 120.0L522.5 130.0L513.7 140.0L505.1 150.0L496.7 160.0L488.6 170.0L480.6 180.0L472.8 190.0L465.1 200.0L457.6 210.0L450.3 220.0L443.1 230.0L436.1 240.0L429.2 250.0L422.4 260.0L415.7 270.0L409.2 280.0L402.8 290.0L396.4 300.0L390.2 310.0L384.1 320.0L378.1 330.0L372.1 340.0L366.3 350.0L360.5 360.0L354.9 370.0L349.3 380.0L343.8 390.0L338.3 400.0L332.9 410.0L327.6 420.0L322.4 430.0L317.2 440.0L312.0 450.0L307.0 460.0L302.0 470.0L297.0 480.0L292.1 490.0L287.2 500.0L291.8 500.0L296.7 490.0L301.6 480.0L306.6 470.0L311.6 460.0L316.7 450.0L321.8 440.0L327.0 430.0L332.2 420.0L337.5 410.0L342.9 400.0L348.4 390.0L353.9 380.0L359.5 370.0L365.2 360.0L370.9 350.0L376.8 340.0L382.7 330.0L388.7 320.0L394.8 310.0L401.1 300.0L407.4 290.0L413.8 280.0L420.3 270.0L427.0 260.0L433.8 250.0L440.7 240.0L447.7 230.0L454.9 220.0L462.3 210.0L469.7 200.0L477.4 190.0L485.2 180.0L493.2 170.0L501.4 160.0L509.7 150.0L518.3 140.0L527.1 130.0L536.1 120.0L545.4 110.0L554.9 100.0L564.7 90.0L574.7 80.0L585.1 70.0L595.7 60.0L606.7 50.0L618.1 40.0Z"/>
<path fill="#4474f3" d="M616.9 40.0L605.5 50.0L594.5 60.0L583.9 70.0L573.5 80.0L563.5 90.0L553.7 100.0L544.2 110.0L534.9 120.0L525.9 130.0L517.1 140.0L508.5 150.0L500.2 160.0L492.0 170.0L484.0 180.0L476.2 190.0L468.5 200.0L461.1 210.0L453.7 220.0L446.5 230.0L439.5 240.0L432.6 250.0L425.8 260.0L419.1 270.0L412.6 280.0L406.2 290.0L399.9 300.0L393.6 310.0L387.5 320.0L381.5 330.0L375.6 340.0L369.7 350.0L364.0 360.0L358.3 370.0L352.7 380.0L347.2 390.0L341.7 400.0L336.3 410.0L331.0 420.0L325.8 430.0L320.6 440.0L315.5 450.0L310.4 460.0L305.4 470.0L300.4 480.0L295.5 490.0L290.6 500.0L295.3 500.0L300.1 490.0L305.0 480.0L310.0 470.0L315.0 460.0L320.1 450.0L325.2 440.0L330.4 430.0L335.7 420.0L341.0 410.0L346.3 400.0L351.8 390.0L357.3 380.0L362.9 370.0L368.6 360.0L374.4 350.0L380.2 340.0L386.1 330.0L392.1 320.0L398.3 310.0L404.5 300.0L410.8 290.0L417.2 280.0L423.8 270.0L430.4 260.0L437.2 250.0L444.1 240.0L451.2 230.0L458.3 220.0L465.7 210.0L473.2 200.0L480.8 190.0L488.6 180.0L496.6 170.0L504.8 160.0L513.2 150.0L521.7 140.0L530.5 130.0L539.5 120.0L548.8 110.0L558.3 100.0L568.1 90.0L578.1 80.0L588.5 70.0L599.2 60.0L610.2 50.0L621.5 40.0Z"/>
<path fill="#436ff1" d="M620.3 40.0L609.0 50.0L598.0 60.0L587.3 70.0L576.9 80.0L566.9 90.0L557.1 100.0L547.6 110.0L538.3 120.0L529.3 130.0L520.5 140.0L512.0 150.0L503.6 160.0L495.4 170.0L487.4 180.0L479.6 190.0L472.0 200.0L464.5 210.0L457.1 220.0L450.0 230.0L442.9 240.0L436.0 250.0L429.2 260.0L422.6 270.0L416.0 280.0L409.6 290.0L403.3 300.0L397.1 310.0L390.9 320.0L384.9 330.0L379.0 340.0L373.2 350.0L367.4 360.0L361.7 370.0L356.1 380.0L350.6 390.0L345.1 400.0L339.8 410.0L334.5 420.0L329.2 430.0L324.0 440.0L318.9 450.0L313.8 460.0L308.8 470.0L303.8 480.0L298.9 490.0L294.1 500.0L298.7 500.0L303.5 490.0L308.5 480.0L313.4 470.0L318.4 460.0L323.5 450.0L328.6 440.0L333.8 430.0L339.1 420.0L344.4 410.0L349.8 400.0L355.2 390.0L360.7 380.0L366.3 370.0L372.0 360.0L377.8 350.0L383.6 340.0L389.5 330.0L395.6 320.0L401.7 310.0L407.9 300.0L414.2 290.0L420.6 280.0L427.2 270.0L433.8 260.0L440.6 250.0L447.5 240.0L454.6 230.0L461.8 220.0L469.1 210.0L476.6 200.0L484.2 190.0L492.1 180.0L500.0 170.0L508.2 160.0L516.6 150.0L525.2 140.0L534.0 130.0L543.0 120.0L552.2 110.0L561.7 100.0L571.5 90.0L581.6 80.0L591.9 70.0L602.6 60.0L613.6 50.0L624.9 40.0Z"/>
<path fill="#416af0" d="M623.7 40.0L612.4 50.0L601.4 60.0L590.7 70.0L580.4 80.0L570.3 90.0L560.5 100.0L551.0 110.0L541.8 120.0L532.8 130.0L524.0 140.0L515.4 150.0L507.0 160.0L498.8 170.0L490.9 180.0L483.0 190.0L475.4 200.0L467.9 210.0L460.6 220.0L453.4 230.0L446.3 240.0L439.4 250.0L432.6 260.0L426.0 270.0L419.4 280.0L413.0 290.0L406.7 300.0L400.5 310.0L394.4 320.0L388.3 330.0L382.4 340.0L376.6 350.0L370.8 360.0L365.1 370.0L359.5 380.0L354.0 390.0L348.6 400.0L343.2 410.0L337.9 420.0L332.6 430.0L327.4 440.0L322.3 450.0L317.2 460.0L312.2 470.0L307.3 480.0L302.3 490.0L297.5 500.0L302.1 500.0L307.0 490.0L311.9 480.0L316.8 470.0L321.9 460.0L326.9 450.0L332.1 440.0L337.3 430.0L342.5 420.0L347.8 410.0L353.2 400.0L358.6 390.0L364.2 380.0L369.8 370.0L375.4 360.0L381.2 350.0L387.0 340.0L393.0 330.0L399.0 320.0L405.1 310.0L411.3 300.0L417.6 290.0L424.1 280.0L430.6 270.0L437.3 260.0L444.1 250.0L451.0 240.0L458.0 230.0L465.2 220.0L472.5 210.0L480.0 200.0L487.7 190.0L495.5 180.0L503.5 170.0L511.6 160.0L520.0 150.0L528.6 140.0L537.4 130.0L546.4 120.0L555.7 110.0L565.2 100.0L574.9 90.0L585.0 80.0L595.3 70.0L606.0 60.0L617.0 50.0L628.4 40.0Z"/>
<path fill="#3d61f2" d="M627.2 40.0L615.8 50.0L604.8 60.0L594.1 70.0L583.8 80.0L573.7 90.0L564.0 100.0L554.5 110.0L545.2 120.0L536.2 130.0L527.4 140.0L518.8 150.0L510.4 160.0L502.3 170.0L494.3 180.0L486.5 190.0L478.8 200.0L471.3 210.0L464.0 220.0L456.8 230.0L449.8 240.0L442.9 250.0L436.1 260.0L429.4 270.0L422.9 280.0L416.4 290.0L410.1 300.0L403.9 310.0L397.8 320.0L391.8 330.0L385.8 340.0L380.0 350.0L374.2 360.0L368.6 370.0L363.0 380.0L357.4 390.0L352.0 400.0L346.6 410.0L341.3 420.0L336.1 430.0L330.9 440.0L325.7 450.0L320.7 460.0L315.6 470.0L310.7 480.0L305.8 490.0L300.9 500.0L305.5 500.0L310.4 490.0L315.3 480.0L320.3 470.0L325.3 460.0L330.4 450.0L335.5 440.0L340.7 430.0L345.9 420.0L351.2 410.0L356.6 400.0L362.1 390.0L367.6 380.0L373.2 370.0L378.9 360.0L384.6 350.0L390.5 340.0L396.4 330.0L402.4 320.0L408.5 310.0L414.7 300.0L421.1 290.0L427.5 280.0L434.0 270.0L440.7 260.0L447.5 250.0L454.4 240.0L461.4 230.0L468.6 220.0L476.0 210.0L483.4 200.0L491.1 190.0L498.9 180.0L506.9 170.0L515.1 160.0L523.4 150.0L532.0 140.0L540.8 130.0L549.8 120.0L559.1 110.0L568.6 100.0L578.4 90.0L588.4 80.0L598.8 70.0L609.4 60.0L620.4 50.0L631.8 40.0Z"/>
<path fill="#3857f3" d="M630.6 40.0L619.2 50.0L608.2 60.0L597.6 70.0L587.2 80.0L577.2 90.0L567.4 100.0L557.9 110.0L548.6 120.0L539.6 130.0L530.8 140.0L522.2 150.0L513.9 160.0L505.7 170.0L497.7 180.0L489.9 190.0L482.2 200.0L474.8 210.0L467.4 220.0L460.2 230.0L453.2 240.0L446.3 250.0L439.5 260.0L432.8 270.0L426.3 280.0L419.9 290.0L413.5 300.0L407.3 310.0L401.2 320.0L395.2 330.0L389.3 340.0L383.4 350.0L377.7 360.0L372.0 370.0L366.4 380.0L360.9 390.0L355.4 400.0L350.0 410.0L344.7 420.0L339.5 430.0L334.3 440.0L329.2 450.0L324.1 460.0L319.1 470.0L314.1 480.0L309.2 490.0L304.3 500.0L309.0 500.0L313.8 490.0L318.7 480.0L323.7 470.0L328.7 460.0L333.8 450.0L338.9 440.0L344.1 430.0L349.3 420.0L354.7 410.0L360.0 400.0L365.5 390.0L371.0 380.0L376.6 370.0L382.3 360.0L388.0 350.0L393.9 340.0L399.8 330.0L405.8 320.0L412.0 310.0L418.2 300.0L424.5 290.0L430.9 280.0L437.5 270.0L444.1 260.0L450.9 250.0L457.8 240.0L464.9 230.0L472.0 220.0L479.4 210.0L486.9 200.0L494.5 190.0L502.3 180.0L510.3 170.0L518.5 160.0L526.9 150.0L535.4 140.0L544.2 130.0L553.2 120.0L562.5 110.0L572.0 100.0L581.8 90.0L591.8 80.0L602.2 70.0L612.9 60.0L623.9 50.0L635.2 40.0Z"/>
<path fill="#344ef5" d="M634.0 40.0L622.7 50.0L611.7 60.0L601.0 70.0L590.6 80.0L580.6 90.0L570.8 100.0L561.3 110.0L552.0 120.0L543.0 130.0L534.2 140.0L525.7 150.0L517.3 160.0L509.1 170.0L501.1 180.0L493.3 190.0L485.7 200.0L478.2 210.0L470.8 220.0L463.7 230.0L456.6 240.0L449.7 250.0L442.9 260.0L436.3 270.0L429.7 280.0L423.3 290.0L417.0 300.0L410.8 310.0L404.6 320.0L398.6 330.0L392.7 340.0L386.8 350.0L381.1 360.0L375.4 370.0L369.8 380.0L364.3 390.0L358.8 400.0L353.5 410.0L348.1 420.0L342.9 430.0L337.7 440.0L332.6 450.0L327.5 460.0L322.5 470.0L317.5 480.0L312.6 490.0L307.8 500.0L312.4 500.0L317.2 490.0L322.2 480.0L327.1 470.0L332.1 460.0L337.2 450.0L342.3 440.0L347.5 430.0L352.8 420.0L358.1 410.0L363.5 400.0L368.9 390.0L374.4 380.0L380.0 370.0L385.7 360.0L391.5 350.0L397.3 340.0L403.2 330.0L409.3 320.0L415.4 310.0L421.6 300.0L427.9 290.0L434.3 280.0L440.9 270.0L447.5 260.0L454.3 250.0L461.2 240.0L468.3 230.0L475.5 220.0L482.8 210.0L490.3 200.0L497.9 190.0L505.7 180.0L513.7 170.0L521.9 160.0L530.3 150.0L538.9 140.0L547.6 130.0L556.7 120.0L565.9 110.0L575.4 100.0L585.2 90.0L595.3 80.0L605.6 70.0L616.3 60.0L627.3 50.0L638.6 40.0Z"/>
<path fill="#2f44f7" d="M637.4 40.0L626.1 50.0L615.1 60.0L604.4 70.0L594.1 80.0L584.0 90.0L574.2 100.0L564.7 110.0L555.5 120.0L546.4 130.0L537.7 140.0L529.1 150.0L520.7 160.0L512.5 170.0L504.5 180.0L496.7 190.0L489.1 200.0L481.6 210.0L474.3 220.0L467.1 230.0L460.0 240.0L453.1 250.0L446.3 260.0L439.7 270.0L433.1 280.0L426.7 290.0L420.4 300.0L414.2 310.0L408.1 320.0L402.0 330.0L396.1 340.0L390.3 350.0L384.5 360.0L378.8 370.0L373.2 380.0L367.7 390.0L362.3 400.0L356.9 410.0L351.6 420.0L346.3 430.0L341.1 440.0L336.0 450.0L330.9 460.0L325.9 470.0L321.0 480.0L316.0 490.0L311.2 500.0L315.8 500.0L320.7 490.0L325.6 480.0L330.5 470.0L335.6 460.0L340.6 450.0L345.8 440.0L350.9 430.0L356.2 420.0L361.5 410.0L366.9 400.0L372.3 390.0L377.9 380.0L383.5 370.0L389.1 360.0L394.9 350.0L400.7 340.0L406.7 330.0L412.7 320.0L418.8 310.0L425.0 300.0L431.3 290.0L437.8 280.0L444.3 270.0L451.0 260.0L457.7 250.0L464.7 240.0L471.7 230.0L478.9 220.0L486.2 210.0L493.7 200.0L501.4 190.0L509.2 180.0L517.2 170.0L525.3 160.0L533.7 150.0L542.3 140.0L551.1 130.0L560.1 120.0L569.3 110.0L578.9 100.0L588.6 90.0L598.7 80.0L609.0 70.0L619.7 60.0L630.7 50.0L642.1 40.0Z"/>
<path fill="#2a3bf9" d="M640.9 40.0L629.5 50.0L618.5 60.0L607.8 70.0L597.5 80.0L587.4 90.0L577.7 100.0L568.1 110.0L558.9 120.0L549.9 130.0L541.1 140.0L532.5 150.0L524.1 160.0L516.0 170.0L508.0 180.0L500.2 190.0L492.5 200.0L485.0 210.0L477.7 220.0L470.5 230.0L463.5 240.0L456.5 250.0L449.8 260.0L443.1 270.0L436.6 280.0L430.1 290.0L423.8 300.0L417.6 310.0L411.5 320.0L405.5 330.0L399.5 340.0L393.7 350.0L387.9 360.0L382.3 370.0L376.7 380.0L371.1 390.0L365.7 400.0L360.3 410.0L355.0 420.0L349.7 430.0L344.6 440.0L339.4 450.0L334.4 460.0L329.3 470.0L324.4 480.0L319.5 490.0L314.6 500.0L319.2 500.0L324.1 490.0L329.0 480.0L334.0 470.0L339.0 460.0L344.1 450.0L349.2 440.0L354.4 430.0L359.6 420.0L364.9 410.0L370.3 400.0L375.8 390.0L381.3 380.0L386.9 370.0L392.6 360.0L398.3 350.0L404.2 340.0L410.1 330.0L416.1 320.0L422.2 310.0L428.4 300.0L434.8 290.0L441.2 280.0L447.7 270.0L454.4 260.0L461.2 250.0L468.1 240.0L475.1 230.0L482.3 220.0L489.6 210.0L497.1 200.0L504.8 190.0L512.6 180.0L520.6 170.0L528.8 160.0L537.1 150.0L545.7 140.0L554.5 130.0L563.5 120.0L572.8 110.0L582.3 100.0L592.0 90.0L602.1 80.0L612.5 70.0L623.1 60.0L634.1 50.0L645.5 40.0Z"/>
<path fill="#2632fb" d="M644.3 40.0L632.9 50.0L621.9 60.0L611.3 70.0L600.9 80.0L590.8 90.0L581.1 100.0L571.6 110.0L562.3 120.0L553.3 130.0L544.5 140.0L535.9 150.0L527.6 160.0L519.4 170.0L511.4 180.0L503.6 190.0L495.9 200.0L488.4 210.0L481.1 220.0L473.9 230.0L466.9 240.0L460.0 250.0L453.2 260.0L446.5 270.0L440.0 280.0L433.6 290.0L427.2 300.0L421.0 310.0L414.9 320.0L408.9 330.0L403.0 340.0L397.1 350.0L391.4 360.0L385.7 370.0L380.1 380.0L374.6 390.0L369.1 400.0L363.7 410.0L358.4 420.0L353.2 430.0L348.0 440.0L342.9 450.0L337.8 460.0L332.8 470.0L327.8 480.0L322.9 490.0L318.0 500.0L322.6 500.0L327.5 490.0L332.4 480.0L337.4 470.0L342.4 460.0L347.5 450.0L352.6 440.0L357.8 430.0L363.0 420.0L368.4 410.0L373.7 400.0L379.2 390.0L384.7 380.0L390.3 370.0L396.0 360.0L401.7 350.0L407.6 340.0L413.5 330.0L419.5 320.0L425.6 310.0L431.9 300.0L438.2 290.0L444.6 280.0L451.2 270.0L457.8 260.0L464.6 250.0L471.5 240.0L478.6 230.0L485.7 220.0L493.1 210.0L500.6 200.0L508.2 190.0L516.0 180.0L524.0 170.0L532.2 160.0L540.6 150.0L549.1 140.0L557.9 130.0L566.9 120.0L576.2 110.0L585.7 100.0L595.5 90.0L605.5 80.0L615.9 70.0L626.5 60.0L637.5 50.0L648.9 40.0Z"/>
<path fill="#2128fc" d="M647.7 40.0L636.3 50.0L625.3 60.0L614.7 70.0L604.3 80.0L594.3 90.0L584.5 100.0L575.0 110.0L565.7 120.0L556.7 130.0L547.9 140.0L539.4 150.0L531.0 160.0L522.8 170.0L514.8 180.0L507.0 190.0L499.4 200.0L491.9 210.0L484.5 220.0L477.4 230.0L470.3 240.0L463.4 250.0L456.6 260.0L450.0 270.0L443.4 280.0L437.0 290.0L430.7 300.0L424.4 310.0L418.3 320.0L412.3 330.0L406.4 340.0L400.5 350.0L394.8 360.0L389.1 370.0L383.5 380.0L378.0 390.0L372.5 400.0L367.2 410.0L361.8 420.0L356.6 430.0L351.4 440.0L346.3 450.0L341.2 460.0L336.2 470.0L331.2 480.0L326.3 490.0L321.4 500.0L326.1 500.0L330.9 490.0L335.8 480.0L340.8 470.0L345.8 460.0L350.9 450.0L356.0 440.0L361.2 430.0L366.5 420.0L371.8 410.0L377.2 400.0L382.6 390.0L388.1 380.0L393.7 370.0L399.4 360.0L405.2 350.0L411.0 340.0L416.9 330.0L423.0 320.0L429.1 310.0L435.3 300.0L441.6 290.0L448.0 280.0L454.6 270.0L461.2 260.0L468.0 250.0L474.9 240.0L482.0 230.0L489.2 220.0L496.5 210.0L504.0 200.0L511.6 190.0L519.4 180.0L527.4 170.0L535.6 160.0L544.0 150.0L552.6 140.0L561.3 130.0L570.4 120.0L579.6 110.0L589.1 100.0L598.9 90.0L608.9 80.0L619.3 70.0L630.0 60.0L641.0 50.0L652.3 40.0Z"/>
<path fill="#1c1ffe" d="M651.1 40.0L639.8 50.0L628.8 60.0L618.1 70.0L607.7 80.0L597.7 90.0L587.9 100.0L578.4 110.0L569.2 120.0L560.1 130.0L551.4 140.0L542.8 150.0L534.4 160.0L526.2 170.0L518.2 180.0L510.4 190.0L502.8 200.0L495.3 210.0L488.0 220.0L480.8 230.0L473.7 240.0L466.8 250.0L460.0 260.0L453.4 270.0L446.8 280.0L440.4 290.0L434.1 300.0L427.9 310.0L421.8 320.0L415.7 330.0L409.8 340.0L404.0 350.0L398.2 360.0L392.5 370.0L386.9 380.0L381.4 390.0L376.0 400.0L370.6 410.0L365.3 420.0L360.0 430.0L354.8 440.0L349.7 450.0L344.6 460.0L339.6 470.0L334.6 480.0L329.7 490.0L324.9 500.0L329.5 500.0L334.4 490.0L339.3 480.0L344.2 470.0L349.3 460.0L354.3 450.0L359.5 440.0L364.6 430.0L369.9 420.0L375.2 410.0L380.6 400.0L386.0 390.0L391.6 380.0L397.2 370.0L402.8 360.0L408.6 350.0L414.4 340.0L420.4 330.0L426.4 320.0L432.5 310.0L438.7 300.0L445.0 290.0L451.5 280.0L458.0 270.0L464.7 260.0L471.4 250.0L478.4 240.0L485.4 230.0L492.6 220.0L499.9 210.0L507.4 200.0L515.0 190.0L522.9 180.0L530.9 170.0L539.0 160.0L547.4 150.0L556.0 140.0L564.8 130.0L573.8 120.0L583.0 110.0L592.5 100.0L602.3 90.0L612.4 80.0L622.7 70.0L633.4 60.0L644.4 50.0L655.8 40.0Z"/>
<path fill="#1a1aff" d="M654.6 40.0L643.2 50.0L632.2 60.0L621.5 70.0L611.2 80.0L601.1 90.0L591.3 100.0L581.8 110.0L572.6 120.0L563.6 130.0L554.8 140.0L546.2 150.0L537.8 160.0L529.7 170.0L521.7 180.0L513.8 190.0L506.2 200.0L498.7 210.0L491.4 220.0L484.2 230.0L477.2 240.0L470.2 250.0L463.5 260.0L456.8 270.0L450.3 280.0L443.8 290.0L437.5 300.0L431.3 310.0L425.2 320.0L419.2 330.0L413.2 340.0L407.4 350.0L401.6 360.0L396.0 370.0L390.4 380.0L384.8 390.0L379.4 400.0L374.0 410.0L368.7 420.0L363.4 430.0L358.3 440.0L353.1 450.0L348.1 460.0L343.0 470.0L338.1 480.0L333.2 490.0L328.3 500.0L1500.0 500.0L1500.0 40.0Z"/></g>
<filter id="soft" x="-2%" y="-2%" width="104%" height="104%"><feGaussianBlur stdDeviation="0.55"/></filter>
</defs>
<g filter="url(#soft)">
<g clip-path="url(#us)">
<g clip-path="url(#zP)"><use href="#bands" transform="translate(-231.5 0) matrix(1 0 -0.0350 1 0 0)"/></g>
<g clip-path="url(#zM)"><use href="#bands" transform="translate(0.0 0)"/></g>
<g clip-path="url(#zC)"><use href="#bands" transform="translate(236.8 0)"/></g>
<g clip-path="url(#zE)"><use href="#bands" transform="translate(482.6 0) matrix(1 0 -0.0300 1 0 0)"/></g>
</g>
<g fill="none" stroke="#111" stroke-opacity="0.76" stroke-width="1.5" stroke-linejoin="round" stroke-linecap="round">
<path d="M180.0 72.6L180.0 116.1L181.9 123.2 M66.8 190.6L274.6 190.6 M133.3 190.6L133.3 241.1L218.1 308.5 M306.1 370.3L306.1 207.4 M227.4 274.8L533.9 274.8 M274.6 190.6L274.6 207.4L306.1 207.4 M306.1 207.4L416.6 207.4 M274.6 190.6L274.6 140.0 M274.6 140.0L385.1 140.0 M385.1 72.6L385.1 207.4 M345.9 362.8L344.5 359.1L400.7 359.1L401.0 283.2 M401.6 283.2L401.6 274.8 M401.0 283.2L449.0 283.2L449.0 315.9 M416.6 207.4L416.6 274.8 M416.6 224.2L523.2 224.2 M385.1 124.2L503.3 124.2 M385.1 173.7L472.7 173.7L475.8 175.7L482.1 177.1L490.0 175.9L496.4 177.7L500.3 179.6L505.0 182.3 M505.0 165.3L587.6 165.3 M534.1 239.2L533.9 283.2 M515.8 214.5L579.5 214.0L584.4 217.8 M543.1 341.9L588.4 342.2 M533.9 283.2L604.5 283.2L601.0 291.6L611.6 291.6 M596.7 182.0L641.6 182.1 M645.8 194.6L645.8 235.2L643.9 239.4L646.3 246.2L642.4 251.2L639.2 255.4L637.6 261.3 M756.5 190.9L756.5 229.0 M688.6 239.4L688.9 195.6 M651.0 194.6L688.9 194.6L688.9 195.6L710.2 195.1 M756.5 229.0L831.2 229.0 M829.9 282.4L738.2 281.7L706.6 281.5L637.3 280.7L637.3 283.2L615.5 283.2 M715.6 308.5L602.1 308.5 M715.6 308.5L726.8 305.1L748.1 306.0L748.3 307.7L750.0 306.8L752.4 311.5L769.9 311.9L787.6 327.5 M676.3 308.5L682.9 344.4L686.1 351.3L685.0 359.1L683.9 365.8L685.8 375.9L688.0 381.0 M685.8 375.9L644.7 375.9L647.9 381.0L647.1 386.0L646.3 388.0 M635.3 308.5L631.0 354.0L632.1 386.9 M768.5 186.0L768.5 190.6L838.1 190.6 M848.4 201.3L861.0 207.4L859.1 212.5 M836.5 227.3L834.2 226.9L831.2 229.0L832.6 250.2L842.8 250.4 M829.4 258.8L839.7 257.4 M869.7 139.8L869.7 146.7L868.9 153.5L868.4 163.6L871.2 164.4L870.9 177.9L867.3 189.7L867.6 202.3L866.5 202.5L863.7 205.7L864.9 207.4 M870.9 177.9L883.9 178.2L902.0 178.8L906.0 176.2L909.6 175.9 M867.3 189.7L894.1 190.2L900.8 190.4L901.6 192.2L903.6 196.1 M894.1 190.2L894.1 200.7L893.2 202.0"/>
</g>
<g fill="none" stroke="#111" stroke-opacity="0.88" stroke-width="1.55" stroke-linejoin="round" stroke-linecap="round">
<path d="M525.6 72.6L89.7 72.6 M178.8 350.1L216.6 346.9L215.2 350.8L274.3 370.3L319.4 370.3L319.4 362.8L345.9 362.8 M898.9 139.8L869.7 139.8L848.4 140.0 M957.6 124.0L957.4 105.1 M89.7 72.6L91.2 77.2L92.3 81.9L90.4 86.9L84.4 87.3L80.4 87.6L76.5 87.1L72.6 86.4L68.6 86.1L63.5 85.1L58.6 83.0L59.4 86.9L60.2 91.1L63.5 96.2L65.4 101.2L67.8 106.3L69.4 108.0L68.6 111.4L70.2 116.4L69.4 118.9L70.9 123.2L70.7 127.4L70.6 131.6L70.6 135.8L70.2 140.0L68.9 146.7L69.1 151.8L68.3 156.8L67.6 161.1L67.0 165.3L64.2 168.6L63.5 173.7L61.3 176.4L63.8 182.1L65.4 187.2L66.8 190.6L67.0 194.8L68.6 199.0L68.9 204.0L67.8 209.9L64.6 214.1L63.7 216.8L65.4 220.0L69.4 223.9L73.3 229.3L73.3 236.0L74.7 241.9L77.6 244.5L79.6 247.8L82.4 250.3L85.2 252.9L86.3 258.0L90.7 259.6L93.8 261.0L93.7 263.0L93.8 266.4L95.4 271.4L97.0 273.1L100.9 275.6L104.9 277.3L104.9 280.7L102.5 281.5L103.3 286.6L108.0 291.6L112.0 296.7L115.9 300.1L119.6 301.8L119.9 305.1L123.5 306.8L123.0 310.2L123.5 315.6L125.9 317.8L129.6 317.2L133.3 317.6L138.0 318.6L144.3 320.6L147.5 323.7L152.2 325.0L156.7 324.8L158.6 327.9L158.2 329.6L160.9 330.1L164.1 330.4L166.4 332.1L169.6 334.6L174.3 338.8L175.9 342.2L176.4 344.7L177.5 347.3L178.8 350.1 M345.9 362.8L348.3 363.6L351.1 368.0L355.1 369.7L358.2 371.7L360.6 374.6L363.8 376.7L366.7 379.4L370.1 381.3L372.8 385.1L374.8 389.4L376.7 393.5L378.0 397.8L380.0 400.3L382.9 402.6L385.9 404.5L392.2 407.1L395.5 409.1L399.3 410.1L403.7 405.9L405.4 401.5L406.9 397.1L411.1 396.6L416.6 396.1L421.8 396.2L426.9 396.6L429.6 400.4L433.2 403.4L438.4 407.9L440.3 411.4L441.1 415.3L442.3 418.7L444.3 421.7L446.8 424.4L449.3 427.2L451.4 430.3L454.4 432.2L456.9 434.9L457.5 438.6L457.7 442.5L459.3 446.8L461.6 450.9L463.2 453.1L467.9 454.1L471.3 455.4L474.2 457.5L477.4 459.1L481.7 459.6L486.1 459.6L490.0 462.8L494.0 460.8L493.4 457.1L493.2 453.4L492.1 449.2L490.8 445.0L490.4 438.2L491.3 434.7L493.2 431.5L496.4 426.5L501.1 422.2L504.0 420.1L507.4 418.9L510.4 416.9L513.7 415.5L518.2 413.6L522.4 411.3L527.9 407.1L531.9 404.0L535.8 401.2L542.1 398.6L546.1 397.8L550.4 397.1L554.8 396.6L559.6 397.8L564.2 399.5L568.2 400.2L572.1 400.7L576.1 399.2L577.6 401.5L583.2 401.2L586.3 405.4L589.5 407.0L592.6 408.8L596.6 408.3L600.5 408.3L605.3 407.1L607.6 404.5L612.4 405.4L615.5 407.9L619.5 409.9L622.6 407.1L618.7 404.5L614.7 400.3L616.3 396.1L618.7 392.8L615.5 391.9L612.4 390.2L616.3 387.7L622.6 386.3L626.6 387.0L630.5 386.9L635.3 387.2L636.8 386.5L637.2 382.6L638.4 381.3L639.7 382.6L640.0 386.9L642.4 388.5L646.3 388.0L651.0 387.2L657.4 386.3L661.3 386.6L665.3 386.3L671.6 388.9L675.5 391.4L679.5 395.3L679.5 398.1L682.6 398.1L686.6 397.5L692.1 395.3L696.0 393.6L698.4 391.4L702.3 391.4L707.1 394.4L711.0 399.5L714.2 402.9L716.6 407.1L720.5 409.6L722.1 414.7L722.9 419.7L720.5 423.9L719.7 429.0L722.9 432.3L722.1 434.9L724.4 439.1L727.6 444.1L730.0 447.5L731.6 450.9L734.7 453.4L736.3 458.5L737.9 461.8L743.4 464.4L745.2 467.6L746.5 471.1L747.3 474.8L750.5 474.5L755.2 474.5L758.4 473.6L759.2 470.3L760.8 466.9L762.6 463.5L763.1 458.5L763.8 453.4L764.2 448.4L763.1 443.3L761.6 439.1L760.0 434.9L759.2 431.4L757.6 428.1L756.7 424.7L755.2 421.4L756.3 418.5L754.4 413.8L751.3 409.6L749.1 406.4L747.3 402.9L746.7 399.3L745.0 396.1L743.5 392.0L742.9 387.7L742.1 381.0L742.6 375.9L744.2 370.8L746.5 365.8L748.9 361.6L750.8 358.5L753.7 355.7L757.6 352.3L761.5 349.8L766.3 347.3L771.0 343.9L775.0 342.2L777.3 338.8L778.9 333.8L782.1 330.4L787.6 327.5L792.3 326.7L796.3 327.5L797.4 326.5L799.4 322.0L804.2 317.8L807.3 316.0L810.5 314.4L816.0 313.6L819.5 315.2L823.1 310.2L827.8 306.8L831.6 306.1L835.3 304.8L836.2 298.4L834.2 293.3L831.8 288.3L829.9 282.4L828.3 277.3L827.8 276.0 M828.3 272.8L831.0 268.1L834.2 264.7L837.3 259.6L839.7 257.4L842.0 252.9L842.8 250.4L842.4 244.5L838.9 241.1L837.3 236.9L834.9 232.7L834.9 230.7L835.7 232.7L838.9 236.0L843.6 237.7L845.2 240.3L844.4 242.3L846.9 239.3L849.9 236.9L852.8 235.0L856.3 231.0L857.8 228.5L858.6 222.6L859.7 217.5L856.3 216.5L855.5 215.5L858.1 214.1 M858.9 214.5L865.7 214.5L872.0 213.6L878.4 212.1L884.7 209.9L888.2 208.5L891.8 207.1L893.2 206.2L889.4 207.1L885.5 208.2L883.1 208.7L886.2 205.7L887.3 204.7L881.5 207.7L877.6 208.5L873.6 208.2L867.3 208.7L863.4 209.9L862.6 210.8 M862.9 209.4L864.9 207.4L868.6 206.3L872.0 204.9L876.8 203.2L883.1 202.9L889.4 202.3L893.2 202.0L898.9 201.2L900.1 199.8L900.5 194.8L902.0 195.6L903.6 196.1L903.6 199.5L906.3 199.0L908.3 197.3L912.3 195.1L912.3 198.1L912.0 198.6L917.8 196.8L923.0 196.1L923.7 193.9L923.0 190.6L921.0 189.4L918.6 189.4L920.2 190.0L921.8 192.2L922.5 193.9L919.4 194.8L914.7 194.3L913.9 191.7L911.5 190.6L911.5 187.2L908.3 185.8L906.3 184.7L907.6 183.0L909.1 181.3L913.1 179.4L910.7 178.4L909.6 175.9L910.7 172.9L913.1 170.3L913.9 167.8L917.0 165.3L919.4 164.1L919.4 161.9L923.3 160.2L926.5 160.6L930.4 159.4L933.6 157.7L936.8 156.8L937.5 154.3L940.7 150.1L941.5 153.5L945.4 153.5L949.4 152.6L953.3 151.0L957.3 149.3L962.0 147.6L966.7 145.9L970.4 143.0L969.9 140.8L967.5 137.5L965.2 137.5L962.8 135.3L962.8 129.9L957.3 128.2L957.6 124.0 M957.4 105.1L953.6 102.5L949.4 100.4L944.6 101.8L939.9 103.3L937.5 101.2L937.5 99.1L934.9 98.5L932.1 100.8L930.1 103.8L927.3 106.1L924.9 108.7L922.5 111.4L921.6 116.1L918.6 120.6L917.8 124.8L916.2 127.4L911.5 129.0L909.4 133.3L909.9 135.8L905.5 134.9L900.5 136.3L898.9 139.8 M848.4 140.0L843.6 141.2L838.9 142.5L835.0 145.9L831.0 149.3L827.6 151.0L824.7 153.5L821.5 155.2 M821.5 155.2L824.7 157.7L824.7 163.6L819.9 165.8L816.2 167.0L812.8 169.2L807.7 169.4L802.6 169.5L796.3 167.5L792.6 167.4L788.9 168.2L785.2 167.8L779.7 169.2L779.7 172.0L782.1 175.4L779.7 178.8L775.8 181.0L772.1 183.4L768.5 186.0L763.1 188.0L759.6 188.9L756.5 190.9L752.6 191.6L748.9 193.1L745.4 195.3L741.6 197.1L737.9 199.0L731.6 199.5L725.2 200.7L722.1 199.5L722.1 198.1L717.3 197.3L713.8 196.1L710.2 195.3L711.8 192.2L714.2 189.7L715.5 186.3L716.6 185.0L718.9 184.3L719.7 180.4L723.7 180.4L725.2 178.8L726.0 173.7L725.2 168.6L723.7 163.6L723.3 159.4L718.1 155.7L712.6 157.7L710.3 161.0L707.1 163.6L703.1 162.7L703.9 158.5L709.5 155.2L712.6 151.0L712.6 145.1L712.6 139.2L710.2 134.9L706.8 133.9L703.3 133.1L700.0 131.6L693.7 129.0L690.0 126.9L686.6 128.2L684.2 130.7L686.6 133.8L681.7 134.6L679.5 138.3L677.1 142.5L676.3 143.9L677.1 140.0L677.1 136.6L673.1 140.0L668.9 141.7L666.4 146.2L664.8 152.6L662.9 157.7L661.5 162.7L663.5 166.1L664.8 169.8L666.3 173.5L666.8 177.4L665.6 183.8L662.4 188.9L658.9 191.8L655.8 195.3L649.5 197.0L645.5 194.8L644.4 192.2L642.6 188.6L641.6 184.7L641.6 182.1L640.6 177.7L640.3 173.2L640.5 167.0L643.2 161.1L643.9 155.2L646.3 149.3L649.5 143.4L651.6 139.2L653.9 135.1L651.0 137.2L648.7 140.0L646.3 143.3L643.2 145.9L638.4 147.9L639.2 144.2L641.6 140.8L644.7 138.3L646.7 135.3L648.7 132.4L653.4 127.4L655.0 128.2L654.7 129.0L658.2 126.5L661.3 129.9L664.5 126.5L666.0 124.0L671.6 124.0L675.1 122.9L678.7 121.6L682.1 122.8L685.8 123.2L690.2 125.3L693.7 123.2L696.0 123.7L699.6 124.0L703.1 123.7L706.7 123.8L710.2 123.2L707.9 121.5L703.9 120.9L700.0 119.8L700.0 115.6L696.0 114.7L692.1 115.6L685.3 114.7L686.6 110.2L681.0 111.0L677.5 111.4L673.9 111.7L670.3 111.9L666.5 112.4L662.9 113.9L659.7 116.1L654.2 114.7L647.9 113.9L644.7 109.3L640.0 108.0L635.3 107.1L631.3 110.5L634.5 106.3L638.4 102.1L642.8 99.6L640.0 98.2L635.9 98.5L632.1 99.9L628.2 102.6L623.4 106.3L617.9 108.5L611.6 109.2L608.6 111.1L605.3 112.2L600.2 113.5L597.4 113.0L593.0 113.0L595.0 108.0L593.4 106.8L589.5 108.5L583.2 110.2L579.3 111.1L575.3 111.4L573.7 110.5L576.9 107.9L580.5 105.8L583.6 103.4L587.1 101.6L590.3 99.3L593.4 97.0L597.5 95.4L601.5 93.7L607.6 91.6L611.1 90.3L614.7 89.4L610.7 89.2L606.9 87.8L602.9 87.9L599.0 87.9L595.0 87.8L589.9 87.9L584.8 88.3L578.9 85.7L575.7 83.9L572.2 82.9L568.7 81.9L564.4 81.0L560.3 80.0L556.0 79.3L551.8 78.8L547.5 79.3L543.2 78.5L538.8 77.4L534.2 77.3L531.9 75.5L530.8 72.6L529.5 66.5L525.6 66.2L525.6 72.6"/>
<path d="M69.4 118.9L73.7 119.2L78.1 118.8L82.8 120.6L86.7 121.5L89.1 125.7L90.7 129.6L97.0 130.7L103.3 128.7L109.6 127.9L114.4 129.6L118.8 129.1L123.0 127.7L126.6 128.1L130.1 127.9L134.8 126.1L139.6 124.5L144.3 124.3L149.1 123.2L152.7 123.0L156.4 122.7L160.0 123.3L163.7 122.6L167.3 122.6L171.0 122.8L174.6 122.7L178.3 123.0L181.9 123.2 M181.9 123.2L184.6 125.7L189.2 129.9L187.8 134.3L185.4 138.3L183.0 141.7L180.7 145.8L177.5 149.3L179.9 152.6L182.2 154.3L180.2 159.7L180.6 163.6L180.7 167.4L180.3 171.3L180.8 175.1L179.7 179.0L180.0 182.8L180.6 186.7L180.2 190.6 M492.7 72.6L493.9 76.8L494.5 81.0L494.4 85.2L494.0 89.4L496.3 93.6L498.4 97.9L499.3 101.3L498.9 104.9L499.8 108.3L500.7 113.4L502.7 118.1L503.3 124.2L501.0 127.1L498.7 129.9L501.1 133.3L505.0 134.9L505.1 138.7L505.5 142.5L505.5 146.3L505.2 150.1L505.3 153.9L504.6 157.7L505.4 161.5L505.0 165.3 M505.0 182.3L507.4 187.2L509.5 191.2L510.6 195.6L511.4 199.5L513.2 203.0L514.5 209.1L515.8 214.5L517.9 217.3L520.0 220.0L523.2 224.2L527.1 226.4L529.5 228.5L526.3 231.8L529.5 235.2L534.1 239.2 M505.0 165.3L502.7 165.3L504.2 170.3L502.7 175.4L504.3 178.7L505.0 182.3 M573.7 110.5L570.7 112.0L570.7 116.9L570.7 121.8L568.3 125.0L565.0 127.4L561.4 130.7L565.0 134.9L563.4 140.0L562.7 144.2L565.8 145.9L569.0 147.6L575.3 150.1L578.0 153.9L581.6 156.8L586.3 159.4L587.6 165.3 M587.6 165.3L589.5 170.3L588.7 173.7L590.3 178.8L593.2 180.8L596.6 182.1L600.5 186.3L603.7 190.6L604.5 193.9L601.3 197.6L597.7 199.0L593.9 199.4L590.3 200.3L589.5 204.0L591.9 207.4L589.5 210.8L587.2 214.5L584.4 217.8 M584.4 217.8L583.2 222.6L584.8 225.4L585.5 229.3L590.3 233.5L593.2 237.2L595.8 241.1L599.7 241.9L603.7 243.3L604.0 247.3L601.3 253.7L604.4 256.0L606.9 258.8L609.5 259.6L611.9 262.8L614.7 265.5L614.4 269.7L617.9 274.8L620.6 275.1 M620.6 275.1L619.5 280.7L614.3 281.9L614.0 286.6L611.6 291.6L610.8 295.0L608.2 297.9L605.7 300.9L605.7 306.3L602.1 308.5L599.6 312.6L597.7 316.9L594.9 320.4L591.9 323.7L590.0 328.7L589.3 332.2L587.9 335.5L588.4 342.2L589.5 348.9L592.6 353.7L590.4 356.6L588.7 359.9L586.2 363.0L584.8 366.6L582.5 371.1L581.1 375.9 M620.6 275.1L624.2 271.4L628.9 273.5L631.3 268.1L636.8 264.7L637.6 261.3L640.0 259.6L645.2 258.8L649.5 260.5L652.6 261.7L657.4 258.5L660.5 260.0L665.3 255.9L670.0 258.0L673.9 253.4L678.7 249.5L679.5 245.6L685.8 244.8L688.6 239.4L693.7 239.4L697.6 243.6L701.3 245.6L705.2 247.0L708.9 247.8L712.6 247.8L717.3 245.6L719.7 247.8L723.8 250.9 M723.8 250.9L728.4 248.7L730.0 244.1L733.1 241.1L737.1 239.4L740.2 236.6L743.4 234.4L748.9 231.0L751.0 228.5L753.3 223.1L755.2 217.5L756.5 213.5 M449.0 315.9L453.7 318.6L459.4 320.6L464.8 322.0L468.3 323.3L472.0 324.0L479.0 323.3L482.1 325.3L484.8 327.9L489.0 328.7L493.2 329.6L497.9 327.0L501.6 328.1L505.2 329.6L509.3 328.0L513.7 327.5L518.4 326.9L523.0 327.4L526.4 328.6L529.5 330.4L536.1 331.4L539.7 331.9L543.1 332.9 M543.1 332.9L542.8 336.7L542.5 340.4L543.1 344.1L542.6 347.9L542.5 351.6L542.5 355.3L543.1 359.1L544.7 362.4L546.1 365.8L548.9 369.0L551.1 372.5L550.1 377.7L548.4 382.6L547.7 387.7L548.4 391.1L547.6 394.6L546.1 397.8 M715.6 308.5L711.8 313.6L716.0 316.2L719.7 319.5L721.6 322.5L723.7 325.4L726.5 329.0L730.0 332.1L733.9 334.3L736.0 337.2L738.7 339.5L741.0 342.2L742.6 348.9L744.4 352.4L746.5 355.7L747.3 357.7L750.8 358.5 M800.5 235.7L805.0 237.7L808.1 241.1L811.4 243.6L808.1 248.7L808.1 252.1L812.1 252.9L815.2 254.6L819.0 257.0L823.1 258.8 M772.9 229.0L773.4 233.3L772.9 237.7L776.4 235.6L779.7 233.2L784.3 230.1L790.0 231.0L793.4 229.3L799.0 231.0L800.5 235.7 M800.5 235.7L799.0 238.7L795.1 236.0L790.7 234.0L788.9 237.4L787.6 241.1L782.5 244.8L779.7 247.1L777.3 249.9L772.6 249.5L770.2 248.2L767.9 253.4L765.5 256.3L763.4 259.5L760.8 262.2L760.0 266.4L755.5 267.3L751.3 268.9L745.3 270.6L741.8 271.2L738.2 271.4L736.2 268.3L733.6 265.7 M733.6 265.7L728.4 263.0L725.2 258.0L725.1 254.3L723.8 250.9 M733.6 265.7L728.4 269.7L725.1 272.0L721.8 274.0L718.4 276.6L715.0 279.0L710.6 279.8L706.6 281.5 M738.2 281.7L737.4 285.8L732.3 289.6L727.9 290.4L723.7 291.6L718.9 292.5L713.4 296.7L710.0 298.2L706.3 298.9L701.6 301.8L699.4 305.4L696.5 308.5 M838.1 190.6L842.5 193.9L845.8 197.4L848.4 201.3L844.4 205.7L841.6 207.9L840.5 212.5L842.8 217.5L847.3 220.5L844.1 222.9L841.6 225.9L836.5 227.6 M898.9 139.8L897.7 143.2L897.3 146.7L894.0 150.4L890.2 153.5L888.6 157.2L887.8 161.1L885.7 164.6L884.7 168.6L882.3 174.5L883.9 178.2 M195.7 72.6L195.5 76.9L195.8 81.2L195.6 85.5L195.7 89.8L197.9 92.5L199.8 95.4L201.2 98.7L204.0 101.3L207.5 102.9L210.0 107.2L212.9 111.4L218.5 112.2L222.5 112.2L221.4 116.0L220.4 119.8L220.5 124.9L221.7 129.9L225.2 129.1L228.8 128.5L231.2 131.6L233.2 135.2L235.9 138.3L236.7 143.0L239.8 146.0L243.3 148.4L248.5 148.8L254.8 147.6L258.8 147.5L262.7 148.1L267.5 146.7L270.6 144.7L274.6 148.8 M218.1 308.5L219.0 305.1L217.3 300.1L216.7 296.6L216.6 293.0L221.7 289.6L225.5 291.3L227.4 288.6L227.1 285.1L227.1 281.6L227.5 278.1L227.1 274.6L227.3 271.1L226.9 267.6L227.9 264.1L227.2 260.6L227.3 257.1L227.5 253.6L227.9 250.1L227.3 246.6L227.9 243.1L227.4 239.6L227.4 236.1L227.4 232.6L226.8 229.1L227.3 225.6L227.0 222.1L226.8 218.6L227.7 215.1L227.0 211.6L227.3 208.1L227.6 204.6L227.4 201.1L227.2 197.6L227.4 194.1L227.4 190.6 M218.1 308.5L218.5 311.0L221.4 316.1L224.9 320.3L223.3 322.8L220.1 327.0L219.2 332.1L217.0 336.3L220.1 342.2L218.2 346.7L216.6 346.9 M581.1 375.9L584.9 376.0L588.6 376.2L592.4 375.4L596.1 376.0L599.9 375.6L603.6 375.6L607.4 376.2L611.1 375.9L610.0 382.6L613.2 387.7L614.0 389.7 M910.7 172.9L907.2 167.8L907.2 164.2L907.3 160.5L907.2 156.8L907.1 151.8L906.3 146.7L906.5 142.8L905.7 138.9L905.5 134.9 M600.2 113.5L605.0 117.4L609.0 118.4L613.0 119.1L617.0 120.0L621.1 120.8L625.0 122.6L628.5 123.3L632.1 123.5L636.8 124.5L637.3 126.9L641.6 128.5L640.8 134.1L643.9 138.3L644.7 138.7 M688.0 381.0L691.8 381.1L695.6 381.4L699.4 381.5L703.2 382.3L707.0 382.2L710.8 382.6L714.6 382.9L718.4 382.3L722.2 382.8L726.0 383.5L729.8 383.1L732.3 386.7L733.1 380.1L737.9 380.1L742.1 381.0 M533.9 283.2L534.1 287.0L535.6 290.6L536.2 294.4L536.4 298.2L536.9 301.9L537.3 305.6L537.0 309.3L537.1 313.0L536.3 316.7L536.1 320.3L535.9 324.0L536.6 327.7L536.1 331.4"/>
<path d="M491.6 458.5L489.3 445.0L486.9 438.2L490.8 429.8L494.0 428.1L495.6 423.9L498.7 423.1L500.3 418.9L504.2 418.0L505.8 414.3L512.1 415.5L513.7 413.8L520.0 412.1 M606.1 406.6L606.9 404.2L607.6 406.2 M596.6 408.3L597.4 405.4L599.0 407.9 M585.5 404.5L586.3 401.2L587.9 403.7 M574.5 399.8L576.1 397.0L577.6 399.5 M651.0 386.9L652.6 384.3L654.2 386.0 M660.5 386.0L663.7 384.7L666.8 386.0 M673.9 390.2L675.5 388.5L677.1 390.7 M759.2 472.8L755.2 477.8L748.9 481.7L741.0 482.9L736.3 484.6 M756.0 419.7L753.7 416.3L752.9 419.7"/>
</g>
<g fill="#fff" stroke="#111" stroke-width="1.5" stroke-linejoin="round">
<path d="M531.9 403.7L527.6 400.3L528.7 396.5L532.7 397.0L535.0 401.2Z M637.2 387.4L636.8 382.6L638.4 381.0L640.0 382.6L640.3 387.4Z M822.3 309.3L827.1 307.7L833.8 304.8L834.6 298.4L831.8 298.1L828.6 301.4L822.3 302.9L820.7 305.1L819.9 308.2Z M827.8 276.0L823.4 275.1L823.1 273.1L823.9 269.7L823.1 265.5L823.9 260.5L822.8 257.1L821.5 252.9L820.7 250.4L823.1 250.4L824.7 252.9L827.1 255.4L828.2 258.8L828.6 263.0L827.8 268.1L827.5 271.4L828.3 272.8Z"/>
</g>
<g fill="none" stroke="#111" stroke-width="2.0" stroke-linejoin="round" stroke-linecap="round">
<path d="M91.9 97.0L89.4 101.2 M90.7 86.9L89.9 92.0 M93.8 261.0L94.6 258.0L97.0 256.3L99.4 257.1 M95.1 260.5L97.8 263.0L100.9 266.9 M126.2 324.8L131.7 325.9L137.2 325.0L140.9 324.8 M155.4 334.1L159.8 336.6 M155.4 341.7L158.9 345.1 M494.0 429.5L490.0 429.0 M505.0 416.3L501.9 414.7 M615.5 405.4L621.8 410.4 M616.3 406.2L616.3 411.3 M615.5 405.4L621.1 406.2 M612.4 393.6L617.1 395.3L619.5 398.6 M743.4 370.0L741.8 372.5 M766.3 346.4L765.0 344.7 M760.0 350.3L758.1 348.6 M777.3 338.0L776.2 335.8 M797.1 327.0L796.3 322.0 M821.5 302.9L816.0 300.9 M820.3 307.2L814.4 306.8 M831.3 291.6L824.7 291.3L819.2 291.6 M827.8 291.3L827.1 287.9 M831.8 298.1L831.8 292.5L830.2 285.8 M823.1 290.0L822.3 286.6 M822.3 242.8L824.7 245.3L823.9 248.7 M823.1 274.8L819.9 274.0L817.6 271.4 M823.1 270.6L819.9 269.7L817.6 267.2 M823.1 264.7L819.9 263.0L816.8 259.3 M823.1 258.8L818.4 256.3L812.8 253.7 M821.2 252.9L819.2 250.9 M827.1 253.7L829.4 252.1 M824.7 247.8L827.1 246.5 M823.9 241.1L826.6 239.4 M821.2 237.4L818.7 236.4 M834.9 231.0L836.5 234.4L838.1 236.9 M854.7 232.7L857.0 228.5 M860.2 214.1L867.3 213.8L875.2 212.1L883.1 209.9L891.0 207.1 M863.4 209.6L870.5 208.6L876.8 207.9L882.3 207.4 M922.1 162.7L921.4 159.5 M925.2 162.0L924.6 158.6 M928.4 161.7L927.8 158.8 M931.5 160.1L930.9 156.6 M934.7 158.9L934.1 156.0 M938.7 157.2L938.0 153.5 M942.6 155.1L942.0 151.5 M946.5 154.9L945.9 151.9 M950.5 153.7L949.9 149.8 M954.4 152.0L953.8 148.3 M958.4 150.4L957.8 147.5 M963.1 148.8L962.5 145.1 M967.1 146.9L966.4 144.3 M940.7 150.1L941.5 146.7 M969.1 141.7L967.5 139.2 M620.3 92.0L625.8 89.4L630.5 87.4 M653.4 127.4L654.7 129.0 M658.9 125.7L661.3 129.6 M718.9 184.7L722.1 180.1L725.2 179.6 M703.1 162.7L702.3 166.1"/>
</g>
<g fill="none" stroke="#111" stroke-width="3" stroke-linejoin="round" stroke-linecap="round">
<path d="M89.3 73.3L91.9 76.8L92.9 81.0L91.9 85.2L93.0 88.6L96.5 90.6 M95.1 92.5L96.5 97.0L95.4 102.1L92.3 104.6L87.5 105.5L84.4 101.2L86.3 97.0L90.7 92.8Z M821.5 251.2L820.7 246.2L821.5 241.9L821.5 237.7L824.7 234.7L827.1 232.2"/>
</g>
<g fill="#111" stroke="#111" stroke-width="0.8" stroke-linejoin="round">
<path d="M82.5 77.7L85.9 76.3L89.1 78.3L88.3 82.4L83.6 81.9Z M139.9 337.5L142.5 337.5L142.5 338.8L139.9 338.8Z M721.3 433.2L724.4 431.2L726.5 427.3L722.1 426.1L723.3 429.5L720.8 430.7Z M729.2 444.1L732.3 444.1L731.6 448.4L729.2 448.4Z M751.3 352.0L753.3 350.6L755.5 352.6L754.9 355.3L752.4 355.7Z M747.3 359.1L749.2 358.2L749.7 360.7L747.7 361.6Z M744.2 364.9L746.1 364.1L746.5 367.5L744.5 368.3Z M909.4 201.5L913.1 199.5L915.4 201.0L913.1 201.8Z M918.6 202.3L921.8 201.8L923.0 203.2L920.2 203.4Z M900.1 194.8L902.0 195.3L903.6 199.0L901.2 199.8L899.7 199.8Z M892.6 203.7L894.9 203.2L894.9 204.4Z M595.8 108.0L598.2 105.5L600.5 107.1L598.2 108.8Z M676.0 127.4L678.2 127.4L678.2 130.2L676.3 130.2Z M668.1 138.3L670.3 138.0L670.0 140.0Z M691.3 125.3L695.2 126.2L694.9 127.4L692.1 126.5Z M697.6 114.7L700.0 114.4L700.3 118.1L698.4 118.1Z M822.3 154.3L826.3 156.0L825.5 158.5L822.3 157.7Z M719.7 195.6L723.7 197.0L722.9 199.8L718.9 199.0Z"/>
</g>
</g>
<g stroke="#707070" stroke-width="2.2" fill="none">
<path d="M133.3 20.8V29.2M133.3 514V522.5"/>
<path d="M370.1 20.8V29.2M370.1 514V522.5"/>
<path d="M606.9 20.8V29.2M606.9 514V522.5"/>
<path d="M843.6 20.8V29.2M843.6 514V522.5"/>
<path d="M34 139.5H42.5M986 139.5H995"/>
<path d="M34 223.4H42.5M986 223.4H995"/>
<path d="M34 307.3H42.5M986 307.3H995"/>
<path d="M34 391.2H42.5M986 391.2H995"/>
</g>
<g fill="#888" font-size="15.2" text-anchor="middle">
<text x="133.3" y="14.6">-120°</text><text x="133.3" y="539">-120°</text>
<text x="370.1" y="14.6">-105°</text><text x="370.1" y="539">-105°</text>
<text x="606.9" y="14.6">-90°</text><text x="606.9" y="539">-90°</text>
<text x="843.6" y="14.6">-75°</text><text x="843.6" y="539">-75°</text>
<text transform="translate(26.5 138.5) rotate(-90)">45°</text>
<text transform="translate(1010.5 139.8) rotate(-90)">45°</text>
<text transform="translate(26.5 222.4) rotate(-90)">40°</text>
<text transform="translate(1010.5 223.7) rotate(-90)">40°</text>
<text transform="translate(26.5 306.3) rotate(-90)">35°</text>
<text transform="translate(1010.5 307.6) rotate(-90)">35°</text>
<text transform="translate(26.5 390.2) rotate(-90)">30°</text>
<text transform="translate(1010.5 391.5) rotate(-90)">30°</text>
</g>
<rect x="368.3" y="565.8" width="48.8" height="27.0" fill="#ff2a00" stroke="#8a8a7a" stroke-width="0.8"/>
<rect x="417.1" y="565.8" width="48.8" height="27.0" fill="#ff8000" stroke="#8a8a7a" stroke-width="0.8"/>
<rect x="465.9" y="565.8" width="48.8" height="27.0" fill="#ffbf00" stroke="#8a8a7a" stroke-width="0.8"/>
<rect x="514.7" y="565.8" width="48.8" height="27.0" fill="#ffff00" stroke="#8a8a7a" stroke-width="0.8"/>
<rect x="563.5" y="565.8" width="48.8" height="27.0" fill="#d4ff6a" stroke="#8a8a7a" stroke-width="0.8"/>
<rect x="612.3" y="565.8" width="48.8" height="27.0" fill="#aaffaa" stroke="#8a8a7a" stroke-width="0.8"/>
<rect x="661.1" y="565.8" width="48.8" height="27.0" fill="#40ffff" stroke="#8a8a7a" stroke-width="0.8"/>
<rect x="709.9" y="565.8" width="48.8" height="27.0" fill="#55aaff" stroke="#8a8a7a" stroke-width="0.8"/>
<rect x="758.7" y="565.8" width="48.8" height="27.0" fill="#4169f0" stroke="#8a8a7a" stroke-width="0.8"/>
<rect x="807.5" y="565.8" width="48.8" height="27.0" fill="#1a1aff" stroke="#8a8a7a" stroke-width="0.8"/>
<g fill="#1a1a1a" font-size="17.9" text-anchor="end">
<text transform="translate(403.3 614.0) rotate(-45)">8:46 - 9:00</text>
<text transform="translate(452.1 614.0) rotate(-45)">8:31 - 8:45</text>
<text transform="translate(500.9 614.0) rotate(-45)">8:16 - 8:30</text>
<text transform="translate(549.7 614.0) rotate(-45)">8:01 - 8:15</text>
<text transform="translate(598.5 614.0) rotate(-45)">7:46 - 8:00</text>
<text transform="translate(647.3 614.0) rotate(-45)">7:31 - 7:45</text>
<text transform="translate(696.1 614.0) rotate(-45)">7:16 - 7:30</text>
<text transform="translate(744.9 614.0) rotate(-45)">7:01 - 7:15</text>
<text transform="translate(793.7 614.0) rotate(-45)">6:46 - 7:00</text>
<text transform="translate(842.5 614.0) rotate(-45)">6:32 - 6:45</text>
</g>
<text x="357.5" y="586" text-anchor="end" font-size="18.8" font-weight="bold" fill="#111">Sunrise Time</text>
<text x="57.5" y="596" font-size="16.2" fill="#3a3ad0">TERMAN LAB</text>
<text x="57.5" y="616" font-size="16.2" fill="#3a3ad0">Columbia University</text>
</svg></body></html>
